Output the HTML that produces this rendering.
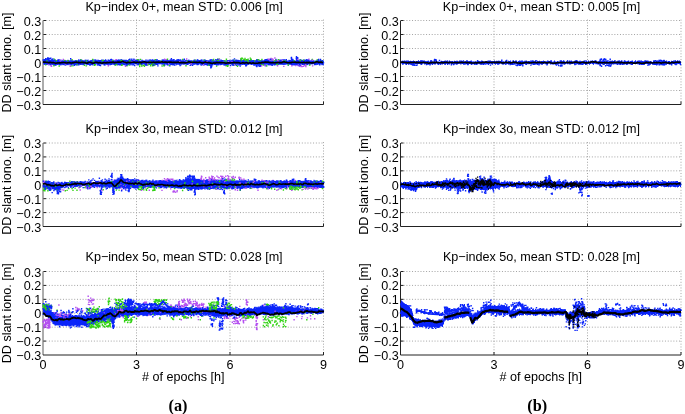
<!DOCTYPE html>
<html><head><meta charset="utf-8"><style>
html,body{margin:0;padding:0;background:#fff;}
svg{display:block;will-change:transform;filter:blur(0.45px);}
text{font-family:"Liberation Sans",sans-serif;font-size:12.6px;fill:#000;}
</style></head><body>
<svg width="685" height="414" viewBox="0 0 685 414">
<rect width="685" height="414" fill="#fff"/>
<path d="M43.3 20.50H323.5M43.3 34.50H323.5M43.3 48.50H323.5M43.3 62.50H323.5M43.3 76.50H323.5M43.3 90.50H323.5" stroke="#a4a4a4" stroke-width="1" stroke-dasharray="1 1.81" fill="none"/>
<path d="M136.50 19.6V104.5M230.00 19.6V104.5M323.50 19.6V104.5" stroke="#a4a4a4" stroke-width="1" stroke-dasharray="1 1.81" fill="none"/>
<path d="M43.0 20.5V104.5" stroke="#5a5a5a" stroke-width="1" fill="none"/>
<path d="M43.0 104.5H323.5M43.5 20.50h2.5M43.5 34.50h2.5M43.5 48.50h2.5M43.5 62.50h2.5M43.5 76.50h2.5M43.5 90.50h2.5M136.50 104.5v-3M230.00 104.5v-3M323.50 104.5v-3" stroke="#222" stroke-width="1" fill="none"/>
<text x="41.2" y="25.50" text-anchor="end">0.3</text>
<text x="41.2" y="39.50" text-anchor="end">0.2</text>
<text x="41.2" y="53.50" text-anchor="end">0.1</text>
<text x="41.2" y="67.50" text-anchor="end">0</text>
<text x="41.2" y="81.50" text-anchor="end">−0.1</text>
<text x="41.2" y="95.50" text-anchor="end">−0.2</text>
<text x="41.2" y="109.50" text-anchor="end">−0.3</text>
<text x="184.1" y="10.50" text-anchor="middle">Kp−index 0+, mean STD: 0.006 [m]</text>
<text transform="translate(10.9 62.5) rotate(-90)" text-anchor="middle">DD slant iono. [m]</text>
<path d="M400.8 20.50H681.0M400.8 34.50H681.0M400.8 48.50H681.0M400.8 62.50H681.0M400.8 76.50H681.0M400.8 90.50H681.0" stroke="#a4a4a4" stroke-width="1" stroke-dasharray="1 1.81" fill="none"/>
<path d="M494.00 19.6V104.5M587.50 19.6V104.5M681.00 19.6V104.5" stroke="#a4a4a4" stroke-width="1" stroke-dasharray="1 1.81" fill="none"/>
<path d="M400.5 20.5V104.5" stroke="#222" stroke-width="1" fill="none"/>
<path d="M400.5 104.5H681.0M401.0 20.50h2.5M401.0 34.50h2.5M401.0 48.50h2.5M401.0 62.50h2.5M401.0 76.50h2.5M401.0 90.50h2.5M494.00 104.5v-3M587.50 104.5v-3M681.00 104.5v-3" stroke="#222" stroke-width="1" fill="none"/>
<text x="398.7" y="25.50" text-anchor="end">0.3</text>
<text x="398.7" y="39.50" text-anchor="end">0.2</text>
<text x="398.7" y="53.50" text-anchor="end">0.1</text>
<text x="398.7" y="67.50" text-anchor="end">0</text>
<text x="398.7" y="81.50" text-anchor="end">−0.1</text>
<text x="398.7" y="95.50" text-anchor="end">−0.2</text>
<text x="398.7" y="109.50" text-anchor="end">−0.3</text>
<text x="541.5" y="10.50" text-anchor="middle">Kp−index 0+, mean STD: 0.005 [m]</text>
<text transform="translate(367.9 62.5) rotate(-90)" text-anchor="middle">DD slant iono. [m]</text>
<path d="M43.3 143.00H323.5M43.3 156.92H323.5M43.3 170.83H323.5M43.3 184.75H323.5M43.3 198.67H323.5M43.3 212.58H323.5" stroke="#a4a4a4" stroke-width="1" stroke-dasharray="1 1.81" fill="none"/>
<path d="M136.50 142.1V226.5M230.00 142.1V226.5M323.50 142.1V226.5" stroke="#a4a4a4" stroke-width="1" stroke-dasharray="1 1.81" fill="none"/>
<path d="M43.0 143.0V226.5" stroke="#5a5a5a" stroke-width="1" fill="none"/>
<path d="M43.0 226.5H323.5M43.5 143.00h2.5M43.5 156.92h2.5M43.5 170.83h2.5M43.5 184.75h2.5M43.5 198.67h2.5M43.5 212.58h2.5M136.50 226.5v-3M230.00 226.5v-3M323.50 226.5v-3" stroke="#222" stroke-width="1" fill="none"/>
<text x="41.2" y="148.00" text-anchor="end">0.3</text>
<text x="41.2" y="161.92" text-anchor="end">0.2</text>
<text x="41.2" y="175.83" text-anchor="end">0.1</text>
<text x="41.2" y="189.75" text-anchor="end">0</text>
<text x="41.2" y="203.67" text-anchor="end">−0.1</text>
<text x="41.2" y="217.58" text-anchor="end">−0.2</text>
<text x="41.2" y="231.50" text-anchor="end">−0.3</text>
<text x="184.1" y="132.50" text-anchor="middle">Kp−index 3o, mean STD: 0.012 [m]</text>
<text transform="translate(10.9 184.8) rotate(-90)" text-anchor="middle">DD slant iono. [m]</text>
<path d="M400.8 143.00H681.0M400.8 156.92H681.0M400.8 170.83H681.0M400.8 184.75H681.0M400.8 198.67H681.0M400.8 212.58H681.0" stroke="#a4a4a4" stroke-width="1" stroke-dasharray="1 1.81" fill="none"/>
<path d="M494.00 142.1V226.5M587.50 142.1V226.5M681.00 142.1V226.5" stroke="#a4a4a4" stroke-width="1" stroke-dasharray="1 1.81" fill="none"/>
<path d="M400.5 143.0V226.5" stroke="#222" stroke-width="1" fill="none"/>
<path d="M400.5 226.5H681.0M401.0 143.00h2.5M401.0 156.92h2.5M401.0 170.83h2.5M401.0 184.75h2.5M401.0 198.67h2.5M401.0 212.58h2.5M494.00 226.5v-3M587.50 226.5v-3M681.00 226.5v-3" stroke="#222" stroke-width="1" fill="none"/>
<text x="398.7" y="148.00" text-anchor="end">0.3</text>
<text x="398.7" y="161.92" text-anchor="end">0.2</text>
<text x="398.7" y="175.83" text-anchor="end">0.1</text>
<text x="398.7" y="189.75" text-anchor="end">0</text>
<text x="398.7" y="203.67" text-anchor="end">−0.1</text>
<text x="398.7" y="217.58" text-anchor="end">−0.2</text>
<text x="398.7" y="231.50" text-anchor="end">−0.3</text>
<text x="541.5" y="132.50" text-anchor="middle">Kp−index 3o, mean STD: 0.012 [m]</text>
<text transform="translate(367.9 184.8) rotate(-90)" text-anchor="middle">DD slant iono. [m]</text>
<path d="M43.3 271.50H323.5M43.3 285.42H323.5M43.3 299.33H323.5M43.3 313.25H323.5M43.3 327.17H323.5M43.3 341.08H323.5" stroke="#a4a4a4" stroke-width="1" stroke-dasharray="1 1.81" fill="none"/>
<path d="M136.50 270.6V355.0M230.00 270.6V355.0M323.50 270.6V355.0" stroke="#a4a4a4" stroke-width="1" stroke-dasharray="1 1.81" fill="none"/>
<path d="M43.0 271.5V355.0" stroke="#5a5a5a" stroke-width="1" fill="none"/>
<path d="M43.0 355.0H323.5M43.5 271.50h2.5M43.5 285.42h2.5M43.5 299.33h2.5M43.5 313.25h2.5M43.5 327.17h2.5M43.5 341.08h2.5M136.50 355.0v-3M230.00 355.0v-3M323.50 355.0v-3" stroke="#222" stroke-width="1" fill="none"/>
<text x="41.2" y="276.50" text-anchor="end">0.3</text>
<text x="41.2" y="290.42" text-anchor="end">0.2</text>
<text x="41.2" y="304.33" text-anchor="end">0.1</text>
<text x="41.2" y="318.25" text-anchor="end">0</text>
<text x="41.2" y="332.17" text-anchor="end">−0.1</text>
<text x="41.2" y="346.08" text-anchor="end">−0.2</text>
<text x="41.2" y="360.00" text-anchor="end">−0.3</text>
<text x="184.1" y="260.50" text-anchor="middle">Kp−index 5o, mean STD: 0.028 [m]</text>
<text transform="translate(10.9 313.2) rotate(-90)" text-anchor="middle">DD slant iono. [m]</text>
<text x="43.0" y="368.5" text-anchor="middle">0</text>
<text x="136.5" y="368.5" text-anchor="middle">3</text>
<text x="230.0" y="368.5" text-anchor="middle">6</text>
<text x="323.5" y="368.5" text-anchor="middle">9</text>
<text x="183.2" y="380.5" text-anchor="middle">#&#160;of epochs [h]</text>
<path d="M400.8 271.50H681.0M400.8 285.42H681.0M400.8 299.33H681.0M400.8 313.25H681.0M400.8 327.17H681.0M400.8 341.08H681.0" stroke="#a4a4a4" stroke-width="1" stroke-dasharray="1 1.81" fill="none"/>
<path d="M494.00 270.6V355.0M587.50 270.6V355.0M681.00 270.6V355.0" stroke="#a4a4a4" stroke-width="1" stroke-dasharray="1 1.81" fill="none"/>
<path d="M400.5 271.5V355.0" stroke="#222" stroke-width="1" fill="none"/>
<path d="M400.5 355.0H681.0M401.0 271.50h2.5M401.0 285.42h2.5M401.0 299.33h2.5M401.0 313.25h2.5M401.0 327.17h2.5M401.0 341.08h2.5M494.00 355.0v-3M587.50 355.0v-3M681.00 355.0v-3" stroke="#222" stroke-width="1" fill="none"/>
<text x="398.7" y="276.50" text-anchor="end">0.3</text>
<text x="398.7" y="290.42" text-anchor="end">0.2</text>
<text x="398.7" y="304.33" text-anchor="end">0.1</text>
<text x="398.7" y="318.25" text-anchor="end">0</text>
<text x="398.7" y="332.17" text-anchor="end">−0.1</text>
<text x="398.7" y="346.08" text-anchor="end">−0.2</text>
<text x="398.7" y="360.00" text-anchor="end">−0.3</text>
<text x="541.5" y="260.50" text-anchor="middle">Kp−index 5o, mean STD: 0.028 [m]</text>
<text transform="translate(367.9 313.2) rotate(-90)" text-anchor="middle">DD slant iono. [m]</text>
<text x="400.5" y="368.5" text-anchor="middle">0</text>
<text x="494.0" y="368.5" text-anchor="middle">3</text>
<text x="587.5" y="368.5" text-anchor="middle">6</text>
<text x="681.0" y="368.5" text-anchor="middle">9</text>
<text x="540.8" y="380.5" text-anchor="middle">#&#160;of epochs [h]</text>
<path d="M44 59.1V64.7M45 60V65.1M46 59.9V64.7M47 60V64.9M48 58.8V64.8M49 58.7V65.6M50 60.1V64.6M51 59.2V65.3M52 59.1V64.4M53 59.1V64.7M54 59.9V65.7M55 59.3V65.7M56 59.9V65.7M57 60.4V64.5M58 60.2V64.5M59 59.2V64.9M60 60.5V65.2M61 59.6V65.6M62 60.8V64.7M63 60V65.3M64 60.7V64.5M65 60.2V65.8M66 60.3V65.4M67 60.5V65.1M68 59.8V65.2M69 60.1V64.8M70 60.7V64.8M71 60.1V65.5M72 60.6V65.7M73 60.3V64.6M74 60.7V65.7M75 60.4V65.5M76 60.1V65M77 60.2V64.5M78 60.4V65.6M79 59.6V65.4M80 60.4V64.4M81 59.4V65.1M82 59.7V64.7M83 60.3V65.2M84 60.5V65.1M85 59.8V64.2M86 59.5V64.5M87 60.1V65.3M88 59.6V64.8M89 60.8V64.8M90 60.4V65.1M91 60.4V64.9M92 60.2V65.3M93 59.6V65.4M94 60.7V64.2M95 59.6V64.5M96 59.5V64.3M97 60.3V64.3M98 59.4V65.6M99 59.9V65M100 60.1V64.6M101 60V64.4M102 60.2V64.5M103 59.5V64.4M104 59.9V65.6M105 60.2V65.7M106 59.9V64.5M107 60.4V64.4M108 60.9V64.7M109 59.7V64.5M110 59.7V65.6M111 60.8V65M112 59.6V64.1M113 59.4V64.6M114 60.3V65.1M115 60.6V65.4M116 59.8V65.1M117 59.9V65.2M118 59.5V65.6M119 59.3V65.1M120 59.8V65.3M121 59.4V65.5M122 59.2V65.2M123 60.3V64.9M124 59.5V64.7M125 59.9V64.4M126 59.5V65.4M127 60.1V64.5M128 60.2V65.1M129 59.4V65M130 60.1V64.2M131 59.7V65.4M132 60.1V64.4M133 59.8V64.8M134 60.3V65.4M135 59.3V64.1M136 59.9V64.1M137 59.4V64.2M138 59.3V65M139 59.3V64.9M140 60.7V64.2M141 60.4V65M142 59.4V65.5M143 60.3V64.6M144 60.5V64.2M145 60.5V65.4M146 59.3V65.5M147 60.4V65.5M148 59.6V65.2M149 60.4V64.6M150 59.2V64M151 59.9V64.9M152 59.3V65M153 59.2V64.8M154 59.9V64.3M155 59.2V65.5M156 60.5V65M157 59.1V64.9M158 60.6V65.2M159 60.2V64.1M160 60V64.4M161 60.7V64M162 59.5V65.4M163 59.3V64.5M164 59.6V65.4M165 60.2V65.5M166 59.4V64.2M167 59.6V65.3M168 60.1V65.5M169 60.2V64.2M170 59.6V64.4M171 59.5V65.1M172 59.8V65.3M173 59.1V65.5M174 59.4V65.2M175 60.5V64.1M176 60V65.6M177 59.1V64.8M178 59.8V64.7M179 59.4V64.3M180 59.5V64.4M181 59.6V65.5M182 60.6V64.5M183 59.1V64.5M184 60.5V64.3M185 60.2V64.2M186 59.7V64.3M187 60.1V64.7M188 60.3V64.9M189 59.7V64.1M190 60.4V64.1M191 59.9V65.7M192 60.4V64.7M193 60.6V64.5M194 60V65M195 60.3V64.6M196 59.7V64.6M197 60.6V65.3M198 59.6V65.3M199 60.1V64.5M200 59.9V64.3M201 59.4V64.2M202 59.2V65.1M203 60.4V65.4M204 59.5V65.6M205 59.6V65.2M206 60.1V64.9M207 60.2V65.5M208 60.2V64.9M209 60.5V65.3M210 59.7V65.7M211 59.7V64.2M212 60.6V65.6M213 60V65.3M214 60.2V64.3M215 60.4V65.1M216 60.6V64.9M217 59.5V65.3M218 60V65.5M219 59.2V65.2M220 60.6V64.4M221 59.2V64.9M222 60.1V65.1M223 59.9V64.6M224 60.2V65.7M225 59.9V64.7M226 60.7V64.4M227 60V65.4M228 60.4V65.3M229 60.2V64.8M230 60.6V64.1M231 59.8V64.8M232 60.2V64.6M233 59.4V64.8M234 60.1V64.9M235 60.5V64.9M236 59.4V65.1M237 59.7V64.1M238 59.7V64.3M239 60.1V65.5M240 60.3V65.6M241 59.3V65.4M242 60.3V64.5M243 59.9V64.4M244 59.6V64.9M245 59.7V64.7M246 60.2V65.2M247 59.3V65M248 60.3V64.2M249 60.3V64.1M250 59.8V64.7M251 59.1V64.2M252 60.2V64.5M253 59.9V64.4M254 60.1V65.6M255 60.3V64.7M256 60.6V64.7M257 59.5V64.8M258 60.6V64.7M259 59.5V65M260 60.1V65.3M261 60.2V65.2M262 59.7V64.8M263 60.6V64.9M264 60.3V64.7M265 59.1V64.7M266 59.9V64.7M267 59.4V64.4M268 59.1V65.2M269 59.9V65.4M270 60.4V65.3M271 60.3V65.5M272 60.5V65.4M273 60.4V64.7M274 60.6V65.5M275 60.3V65.5M276 60.2V65M277 59.8V65.6M278 59.4V65.1M279 60.5V64.5M280 59.2V64.6M281 59.7V64.9M282 59.3V64.5M283 59.2V64.9M284 59.2V64.7M285 59.2V65.1M286 59.9V64.5M287 60.6V64.6M288 60.4V64.6M289 59.8V65M290 59.9V64.6M291 60.2V65.1M292 59.8V64.9M293 59.4V64.8M294 60.1V65.2M295 60.5V65.3M296 60.5V64.6M297 59.4V65.7M298 59.6V65M299 60.3V64.3M300 59.1V64.8M301 59.2V64.2M302 60.1V64.9M303 59.7V65.1M304 59.5V64.7M305 59.6V65M306 59.8V64.9M307 60V64.9M308 59.2V65.2M309 60.6V64.1M310 60.3V64.8M311 60.4V63.9M312 59.3V64.8M313 60.1V64M314 60.5V64M315 60.7V65.1M316 60.5V65.2M317 59.8V64.8M318 59.4V65M319 59.7V63.9M320 60.6V63.9M321 60.5V65.3M322 60.3V64.6M323 60.7V64.9" stroke="#0a24fa" stroke-width="1.05" fill="none"/>
<path d="M183.2 62.6h0M94.9 60.1h0M322.9 64.5h0M57.7 60.1h0M285.6 62.5h0M75.5 61.3h0M191.6 63.7h0M267.4 59.4h0M146.1 63.2h0M96 63.2h0M249.3 60.8h0M53.2 62.4h0M167.6 62.5h0M212.6 63.9h0M308.2 61h0M65.4 61.3h0M297.3 61.9h0M275.3 63.1h0M272.2 65.3h0M43.6 61.4h0M274 62.6h0M152.5 62.4h0M272.2 61.8h0M133.5 63.9h0M92.6 59.8h0M295.3 63.2h0M158.4 60.6h0M170.3 61.9h0M97.5 62.2h0M57.4 64.3h0M187.9 63.9h0M187.1 64.2h0M260.2 60.8h0M243.5 62.6h0M210.9 64.6h0M119.1 62.5h0M190.7 62.5h0M241.8 63.3h0M257.1 60h0M90.6 61.2h0M48.5 60.6h0M251.8 61.1h0M265.4 60.1h0M237.9 60.7h0M290.1 62.1h0M261.5 61.8h0M309.7 64.6h0M190.2 65.4h0M243.8 62.4h0M298.8 62.6h0M247.1 60.2h0M55.4 62.1h0M289.9 62.9h0M118.6 61.4h0M101 62.9h0M122.6 62.2h0M171 60.3h0M83 61.3h0M78.7 60.3h0M156.4 62.3h0M115 61.5h0M258.6 61.6h0M321.3 62.5h0M121.5 62.8h0M211.6 61.8h0M188.6 60.5h0M248.4 61.7h0M129.8 64.5h0M68.4 61.3h0M245 64.4h0M295.4 63.7h0M204.6 63.4h0M187.5 61.9h0M132.2 60.9h0M291.1 63.7h0M57.7 62.8h0M288.3 65.1h0M237.2 63.9h0M237.3 62.3h0M85.8 63.3h0M55.7 64.6h0M149.4 61h0M240.2 66.1h0M169.5 65.5h0M275.9 59.5h0M193.6 63.5h0M319.4 62.9h0M248.7 63.6h0M74.6 61.4h0M319.6 64.8h0M156.5 63.1h0M198.1 64h0M246.8 59.6h0M136.5 62.4h0M172 63.8h0M156 61h0M121.2 60h0M166 62.5h0M272.3 59.9h0M200.9 64.1h0M190.7 62.2h0M192.6 65.4h0M65.6 62.3h0M72.4 61.3h0M224.6 61.5h0M284.4 62h0M159.7 62.3h0M137.6 62.8h0M119.2 63h0M101.8 60.1h0M123 61.2h0M178.2 59.6h0M155.8 63.2h0M108.8 63.9h0M220.5 64.6h0M164.4 65.6h0M196.1 62.7h0M163.7 63.8h0M246.1 65.6h0M234.5 58.9h0M88.2 63h0M55 62.9h0M294.1 62.7h0M208.5 62.9h0M238.1 62.9h0M264.2 63.7h0M147.1 64.8h0M111.4 59.9h0M276.6 62.8h0M189.7 62.2h0M176.7 63.1h0M224.2 62.8h0M223.7 63.7h0M87.2 60.8h0M242.4 64.4h0M229.1 60.7h0M226.9 63.7h0M300.7 61.6h0M119.1 63.2h0M265.7 60h0M75.2 62h0M264.5 60.8h0M57.7 62.5h0M298.4 65.5h0M284.2 63.2h0M146 65.1h0M208.5 63h0M154.3 61.6h0M171.4 58.7h0M306.4 63.1h0M211.5 64.7h0M311.5 62.4h0M117.7 62.9h0M185 62.1h0M255.9 61h0M63.6 64.2h0M296.9 61.1h0M302.1 60.7h0M57.8 63.7h0M124.3 64.5h0M182.2 63h0M280.1 62.3h0M210.3 63.9h0M148.6 64.2h0M248.6 63h0M208.8 63.5h0M210.2 61.8h0M121.4 62.1h0M118.7 61.7h0M277.7 64.1h0M205.4 61.1h0M49.4 63h0M104.8 61.8h0M51.5 62.1h0M70.9 60.1h0M154.6 63.7h0M215.6 64.4h0M304.4 64.7h0M111.4 63.5h0M195.2 62.9h0M305.8 60.9h0M45 60.3h0M186.4 60.8h0M206.2 61.2h0M235.2 62.7h0M259.1 62.2h0M307.3 63.4h0M50.6 64.5h0M207.1 63.3h0M122.8 62.9h0M225.8 64.3h0M184.9 63.7h0M254.1 65h0M205.1 60.4h0M288.3 62.4h0M76.7 64.7h0M54.4 61.6h0M297.1 62.3h0M58.1 60.9h0M266.2 59.8h0M169.8 65.8h0M53.7 63.7h0M179.2 64.2h0M152.5 64.5h0M201.2 65.1h0M266 65.7h0M253.5 61.4h0M100.5 65.5h0M244.3 62.7h0M43.6 62.7h0M256.6 65.5h0M49.1 63.4h0M214.9 63h0M300.7 62.2h0M148.9 63.2h0M232.3 64.8h0M278.8 64.2h0M141.2 61.6h0M322.5 62.7h0M130.7 61.7h0M246.9 64.9h0M269.6 63.6h0M213.5 62h0M116.6 62.9h0M140.4 63.8h0M111.3 64.4h0M191.4 64.3h0M215.9 62.1h0M229.5 62.4h0M260.8 61.9h0M116.6 61.7h0M219.5 62.1h0M89.7 62.8h0M119.3 61.6h0M214 61.9h0M258 63.9h0M240.7 60.2h0M276.1 60.8h0M212.2 62.2h0M119.8 64.7h0M207.5 65h0M295.4 63.9h0M157.9 65.9h0M247.9 61.4h0M294.9 63.8h0M223 63.2h0M45.7 63.3h0M145.3 62.8h0M217.2 60.7h0M180.1 65.5h0M271.1 64.2h0M210.3 59.9h0M311.9 62.2h0M229.3 61.6h0M84.4 62.1h0M106.9 63.9h0M236.5 65.4h0M138.8 63.2h0M136.3 62.6h0M225 64h0M314.2 62.4h0M111 63.2h0M167.6 64.5h0M228.6 62.5h0M90 65.3h0M227.5 61h0M92.1 62h0M77.4 63.5h0M54.7 60h0M167.7 63.2h0M173.9 59.8h0M273.3 62.6h0M47.9 59.8h0M292.9 61.7h0M168 62.2h0M129.9 59.3h0M257.7 61.6h0M135.2 63.4h0M80.3 63.7h0M51.7 62.5h0M282.7 62.9h0M305 61.5h0M83.4 63.9h0M288.8 62.7h0M112.4 63.6h0M250.7 63.6h0M152.7 63.1h0M320.9 62.3h0M50.4 62.2h0M292.7 64.8h0M91.3 61.2h0M230.6 61.9h0M130.9 63.5h0M129.1 59.8h0M283 63.9h0M273.2 63.4h0M63.9 62.4h0M53.5 63.8h0M90 64.2h0M180.3 60.3h0M91.5 61.8h0M192.1 63.1h0M52.9 62.2h0M75.5 64.4h0M226.8 65.4h0M107.9 64.1h0M218.7 62.6h0M70.3 63.2h0M321.2 61.8h0M161.9 62.5h0M128.1 61.5h0M227.1 62.7h0M136.3 63.6h0M120.6 62h0M238.1 64.9h0M111.5 62.5h0M45.7 58.8h0M46.6 59.1h0M49.4 58.4h0M52.9 58.9h0M49.3 58.8h0M46 59.6h0M50.8 58.3h0M48.7 58.4h0M49.4 58.9h0M49.3 58.8h0M47.7 58.9h0M259.9 66.3h0M260.4 65.2h0M260.5 65.3h0M258.2 65.7h0M260 66h0M258.2 65.4h0M260.6 65.7h0M210.8 64.3h0M211.1 67.2h0M210.7 65.3h0M210.9 66.7h0M211.5 66.9h0M211.2 65.7h0M210.8 67.7h0M210.9 64.1h0M211.7 66.3h0M210.8 66.2h0M211 67.5h0M210.9 64.2h0M296.5 56.7h0M297.7 58.4h0M297.3 57.8h0M296.3 58.2h0M296.5 57.6h0M296.5 59.6h0M296.5 56.9h0M297.6 58.2h0M296.9 58.4h0M297.2 57.7h0M297.6 57.8h0M297.4 58.6h0M297.4 57.9h0M297.7 57.6h0M297.1 59.7h0M296.8 59.8h0M291.5 59.6h0M291.6 58.5h0M292.2 59.5h0M292.8 59.8h0M292.7 59.5h0M291.4 57.7h0M291.3 58h0M291.5 57.5h0M291.4 57.8h0M291.5 59.2h0" stroke="#0a24fa" stroke-width="1.4" stroke-linecap="square" fill="none"/>
<path d="M283.3 61.3h0M68 60.7h0M300.1 60.5h0M315.2 61.4h0M77 60.9h0M92.7 59.5h0M278.7 59.7h0M130 60.7h0M226.2 61.2h0M216.7 60.2h0M112.7 60.6h0M81.6 61.2h0M218.4 60.2h0M54.2 59.1h0M138.3 60.2h0M285.3 60.7h0M247.7 60.8h0M93.8 61.4h0M93.3 61.4h0M226.4 59.2h0M261.9 59.5h0M187.2 60.9h0M64.7 60.4h0M212.4 60.6h0M213.6 59.4h0M320.8 61.3h0M320.7 60.4h0M155.3 59.7h0M182.6 59.4h0M121 60.5h0M86.4 61h0M192.6 61.5h0M80.8 59.7h0M317.3 59.9h0M275.9 60.2h0M213.6 61.2h0M47 61h0M258.5 59.8h0M72.1 59.8h0M257.2 59.6h0M121.9 60.6h0M140.5 59.4h0M300.4 60.2h0M161.3 61.2h0M260.2 60.6h0M219.4 59.3h0M102.3 60.7h0M56.3 60.8h0M103.6 60.4h0M217.8 59.1h0M224.5 60.9h0M312.4 59.4h0M270.8 59.4h0M247.7 60.5h0M294.2 61h0M322.8 61.2h0M244.9 59.8h0M241.3 60.9h0M254.6 60.9h0M150.1 61.2h0M274.1 61h0M245.4 60.6h0M137.6 59.8h0M248.5 61.4h0M195.3 60.1h0M167.5 59.3h0M129.3 61.1h0M234.1 60.1h0M204.1 60.1h0M303.5 60.2h0M266.8 65.9h0M237.5 66.2h0M45.7 64.9h0M309.7 65h0M86.2 65.9h0M209.5 65h0M94.7 64.6h0M95.3 64.7h0M162.1 66.1h0M164 65.9h0M263.3 65h0M53.9 65.7h0M121.7 65.3h0M116.6 64.5h0M226.2 65.6h0M228 65.6h0M276.6 64.4h0M115.3 65.1h0M234.8 65.1h0M227.7 66.3h0M288.3 64.8h0M216.6 66.1h0M208.9 65.3h0M226.2 65.9h0M141.7 66h0M127 65.7h0M77.2 64.6h0M169.4 65.4h0M84.4 65.3h0M129.1 65h0M186 65.7h0M277.7 64.3h0M72.9 65.9h0M94.4 65.4h0M122.4 64.9h0M70.8 66.3h0M163.6 65h0M261.4 64.4h0M59.2 66h0M305.9 65.1h0M148 64.7h0M153.6 65.5h0M152.5 65.8h0M150.6 64.9h0M149.2 64.3h0M153 64h0M144 65.2h0M154.6 64.7h0M144 65.2h0M139.6 64.9h0M143.5 65.4h0M144.4 66.4h0M139.7 66.5h0M139.8 64.4h0M152.5 64.6h0M150.6 65.8h0M154.4 64.9h0M141.9 66h0M151.8 64.2h0M140.4 64.6h0M250.3 58.1h0M251.1 59.3h0M248.1 59.3h0M242.2 58.2h0M250.8 59.8h0M246.5 59.8h0M245 58.5h0M243.1 59.1h0M244.4 59.6h0M240.9 58.6h0M241.2 59.7h0M241.5 58.2h0" stroke="#32d214" stroke-width="1.4" stroke-linecap="square" fill="none"/>
<path d="M63.3 59.5h0M242 63.4h0M278.3 61.1h0M54.4 62.1h0M203.6 64.8h0M48.2 64.4h0M295.6 65.6h0M166.2 59.6h0M283.8 66.4h0M277.6 65.7h0M206.6 62h0M164.6 59.2h0M191 63.8h0M109.2 61.9h0M312.5 60.3h0M261.6 65.7h0M186.7 59h0M234.5 64.8h0M134.5 60.4h0M312.6 65.9h0M207.5 61.7h0M277.6 60.7h0M70.3 66h0M51.6 66.2h0M264.6 65.5h0M282.3 60.2h0M60.5 62.2h0M186.4 62.3h0M116.4 59.6h0M228.4 61.8h0M179.7 61.6h0M124.6 62.5h0M50.9 65.8h0M65.7 64.1h0M297.9 59.4h0M125.5 66.3h0M159.9 62.1h0M219.2 59.3h0M308.9 59.2h0M291.8 65.8h0M108.3 65.7h0M70.1 66h0M147.6 63.7h0M59.9 60h0M131.8 61.7h0M115.4 60.3h0M231.9 61.9h0M191.4 63.7h0M223.1 62.5h0M168.2 63.6h0M272 59.8h0M274.9 58h0M272.6 58.9h0M273.3 60h0M268.5 59.3h0M269.7 59.7h0M269.4 59.2h0M268.3 59.7h0M271.1 58.4h0M270.2 59.5h0M305.6 65h0M305.4 65.4h0M303.5 66.3h0M301.1 65.9h0M301.2 66.5h0M305.9 66.6h0M300.6 65h0M298.1 65.1h0M302.1 66.6h0M305.6 64.5h0M305.1 65.5h0M299.6 66.4h0" stroke="#b450f0" stroke-width="1.4" stroke-linecap="square" fill="none"/>
<path d="M177.1 62.1h0M53.9 62.3h0M88.3 64.3h0M63 61.3h0M216.6 64.8h0M294.2 64.6h0M209.9 64.8h0M253.4 63.6h0M224.8 63.4h0M233.1 60.3h0M314.5 64.5h0M235.2 61.9h0M167.7 61.8h0M298.2 62.4h0M126.2 65h0M145.3 64.4h0M286.3 59.7h0M311.2 62.5h0M149.9 63h0M110.3 62.2h0M290.3 61h0M251.7 64.2h0M104.9 60.8h0M109.5 61.3h0M80.3 63.5h0M171.6 62.7h0M52.8 64h0M211 63.6h0M197.3 60.5h0M290.3 61.1h0M156.8 59.9h0M323 61.7h0M135.8 63.5h0M211 63.4h0M319.9 62.9h0M306.6 60.1h0M313.4 62.6h0M112 63.9h0M290.6 61.5h0M213.4 63.3h0M248.1 64.2h0M177.6 63.2h0M96 62.9h0M185.1 63.2h0M233.6 63.2h0M137.4 61.6h0M216.2 61.3h0M54 63.6h0M257 60h0M58.8 59.9h0M89.1 63.2h0M255.4 64.5h0M116.2 62.5h0M244.4 64h0M221.5 63.4h0M210.6 63.3h0M221.8 63.4h0M294.5 64.4h0M306.3 63.4h0M153.1 65h0M126 62.8h0M214.7 64.3h0M166.4 61.9h0M134.7 65.6h0M225.1 65.1h0M44.7 59.8h0M52.1 61.8h0M252.6 62.6h0M193.9 62h0M184.3 59.3h0M57.9 60.6h0M299.6 64.3h0M119.7 62.3h0M252.3 61.6h0M257 61.7h0M318.6 59.4h0M170.5 64h0M131.8 59.2h0M137 63.2h0M99.3 65.2h0M217.7 59.4h0M55.6 61.7h0M323.5 62.8h0M230.5 65.6h0M134.8 61.5h0M97.4 64.9h0M142.3 63.4h0M257.2 64.2h0M80.8 60.5h0M188.7 63.3h0M307.6 62.1h0M135.4 60.9h0M216.9 63h0M322.6 60.6h0M56.3 63.3h0M53.1 62.6h0M78.4 63.8h0M133.9 62.6h0M115.3 61.3h0M245.9 65.7h0M57.8 61.3h0M167.5 62.7h0M75.9 61.2h0M263.7 63.1h0M105.9 63.4h0M279.7 61.3h0M300 65.3h0M167.3 64h0M70.7 58.8h0M138 64.7h0M149.9 63.9h0M80.4 64.1h0M193.7 62.6h0M320.8 60.7h0M276 61.9h0M98.3 63.1h0M105.6 60h0M118.6 61.3h0M215.8 59.6h0M296.2 64.4h0M107 63.5h0M49.3 61.8h0M132.8 64.9h0M46.7 63.5h0M43.2 60h0M127.2 64.8h0M148 62.4h0M183.1 61.2h0M183.6 63.7h0M267.1 61h0M91.2 61h0M295.9 62.4h0M139 62.3h0M208.3 61.4h0M268.2 60.7h0M283.3 62.6h0M74.4 65.3h0M64.7 62.8h0M153.8 65.1h0M197.5 60h0M265.7 60.8h0M122.5 63h0M235.6 62.7h0M306.8 59.6h0M308.6 60.5h0M115.5 62.3h0M239.5 61.5h0M123.8 63.9h0M108.2 60.2h0M133.9 59.2h0M299.5 63.3h0M44.6 60h0M174.6 65h0M211.9 59.8h0M320.5 59.4h0M108.3 63.4h0M292.6 63.9h0M111.3 59.4h0M176.3 60.8h0M221.7 62.8h0M196.9 63.3h0M137.4 60.8h0M180.7 62.4h0M253.3 62.3h0M194.3 60.1h0M211.7 64.9h0M316.2 63.1h0M233.2 65.2h0M262.7 63h0M132.1 62.6h0M135.5 61.2h0M221.2 60.9h0M150.1 60.1h0M287.3 62.7h0M320.3 62.5h0M240.6 61.2h0M264.9 63.4h0M257.2 62.7h0M214 61.8h0M235.8 60.4h0M270.6 59.4h0M178.5 60.1h0M110.8 59.7h0M213.7 62.1h0M47.4 59h0M47.7 58h0M48 57.9h0M259.7 66h0M256.2 65.8h0M256.8 66.6h0" stroke="#0a24fa" stroke-width="1.4" stroke-linecap="square" fill="none"/>
<polyline points="43,61.9 44,62.1 45,62.1 46,62.3 47,62.3 48,62.6 49,62.6 50,62.4 51,62.4 52,62.8 53,62.5 54,62.6 55,63.1 56,63.4 57,62.9 58,63 59,62.8 60,62.9 61,62.8 62,62.6 63,62.5 64,62.5 65,62.5 66,63 67,62.9 68,62.7 69,62.6 70,62.8 71,63 72,63 73,62.6 74,62.6 75,62.2 76,62.3 77,62.1 78,62.6 79,62.4 80,62.7 81,62.4 82,62.4 83,62.4 84,62.6 85,62.5 86,63.1 87,63.1 88,62.9 89,62.2 90,62.2 91,62.5 92,63 93,63.1 94,63 95,62.3 96,62.3 97,62.3 98,62.9 99,62.6 100,62.6 101,63 102,63.1 103,62.9 104,62.5 105,62.7 106,62.9 107,62.5 108,62.6 109,62.5 110,62.5 111,62.4 112,62.5 113,62 114,62.7 115,62.4 116,62.5 117,62.3 118,62.1 119,62 120,62.3 121,62.1 122,61.6 123,61.3 124,62 125,62.2 126,62.6 127,62.9 128,62.3 129,62.4 130,62.6 131,62.5 132,62.3 133,62.2 134,62.1 135,62.2 136,62.8 137,62.3 138,62.3 139,62.6 140,62.2 141,62.8 142,62.2 143,62 144,61.8 145,61.9 146,62.4 147,62.5 148,62.4 149,62.2 150,62.2 151,62.2 152,62.6 153,62.1 154,62.3 155,62.4 156,62.4 157,62.1 158,62.2 159,62.1 160,62.3 161,62 162,61.8 163,62.3 164,62.3 165,62.1 166,62.1 167,62.4 168,62.3 169,62 170,62.1 171,62.1 172,62.5 173,62.4 174,62.4 175,62.4 176,62.4 177,62.4 178,62.1 179,62.4 180,62.8 181,62.5 182,62.6 183,62.6 184,62.6 185,62.9 186,62.7 187,62.5 188,62.2 189,61.8 190,62.1 191,62.5 192,62.3 193,62.2 194,62.3 195,62.3 196,62.4 197,62.4 198,62.5 199,62.3 200,62.1 201,62.6 202,63 203,62.9 204,62.6 205,62.1 206,62.3 207,62.5 208,62.8 209,62.6 210,62.9 211,63.1 212,63.4 213,63.2 214,62.8 215,63.3 216,62.6 217,62.6 218,62.5 219,62.7 220,62.5 221,62.8 222,62.6 223,62.7 224,62.8 225,63 226,63.3 227,63 228,62.8 229,62.9 230,63 231,62.7 232,62.7 233,62.7 234,62.3 235,62.8 236,62.6 237,62.6 238,62.5 239,62.8 240,63.1 241,63.2 242,62.9 243,62.7 244,63 245,63.1 246,62.8 247,62.7 248,63.4 249,63 250,62.8 251,63.3 252,63.2 253,62.8 254,63.2 255,63.3 256,63.2 257,63.2 258,63.2 259,62.8 260,62.9 261,63 262,62.4 263,62.5 264,62.4 265,62.1 266,62 267,62.3 268,62.1 269,62.5 270,62.6 271,62.7 272,62.8 273,62.5 274,62.7 275,62.8 276,62.8 277,62.7 278,62.3 279,62.6 280,62.5 281,62.6 282,62.6 283,62 284,61.7 285,62.1 286,62.3 287,62.6 288,62.8 289,62.7 290,62.4 291,62.7 292,62.2 293,62.2 294,62.3 295,62.1 296,62.4 297,62.5 298,62.3 299,62.4 300,62.5 301,62.5 302,62.5 303,62.6 304,62.2 305,62.8 306,62.6 307,62.4 308,62.6 309,62.4 310,62.6 311,62.7 312,63.1 313,62.5 314,62.8 315,62.5 316,61.9 317,61.8 318,62 319,62.4 320,62.2 321,61.9 322,62.5 323,62.6" stroke="#000" stroke-width="1.6" fill="none" stroke-linejoin="round"/>
<path d="M401.5 61.2V63.6M402.5 61.8V64.8M403.5 61V64.4M404.5 60.6V63.7M405.5 60.8V64.4M406.5 60.6V64.9M407.5 60.4V63.6M408.5 60.4V64.5M409.5 60.9V64.1M410.5 60.8V64.3M411.5 60.9V63.6M412.5 61V63.8M413.5 60.5V64.6M414.5 61.4V64.4M415.5 61.7V63.9M416.5 60.9V64M417.5 60.9V64.4M418.5 60.3V64M419.5 61.2V63.9M420.5 60.3V64.4M421.5 60.3V64.2M422.5 60.5V63.4M423.5 60.6V63.4M424.5 60.5V64.4M425.5 61.5V63.9M426.5 61.3V64.1M427.5 61.1V64.7M428.5 60.8V64.7M429.5 61.4V64.4M430.5 60.3V63.4M431.5 60.4V63.9M432.5 61.8V64.7M433.5 61.6V63.5M434.5 61.4V64.5M435.5 61.6V64.6M436.5 60.5V63.6M437.5 61.6V64.5M438.5 61.7V64M439.5 61.7V63.5M440.5 61.8V64.7M441.5 60.8V63.4M442.5 61.2V64.4M443.5 60.9V63.4M444.5 60.7V64.6M445.5 60.4V64.8M446.5 60.7V63.6M447.5 60.5V64.9M448.5 61.7V63.8M449.5 60.5V64.3M450.5 61.7V63.3M451.5 61.3V64.7M452.5 61V64.2M453.5 61.6V63.7M454.5 60.7V64.4M455.5 61.2V64.2M456.5 60.8V64.8M457.5 60.8V64.4M458.5 61.7V63.9M459.5 60.4V63.7M460.5 60.4V63.5M461.5 60.5V63.8M462.5 60.9V64M463.5 61.4V64.4M464.5 61.4V63.9M465.5 61.4V64.2M466.5 60.5V64.2M467.5 60.8V64.4M468.5 61.5V63.7M469.5 61V64M470.5 60.8V63.4M471.5 60.4V64.9M472.5 61.5V64M473.5 61.4V63.7M474.5 61.4V64.8M475.5 61.5V64M476.5 61.9V64.8M477.5 60.4V64M478.5 61V63.7M479.5 61.3V63.5M480.5 61.5V64.7M481.5 60.4V64.4M482.5 60.7V64.3M483.5 61.4V64.9M484.5 61.6V63.8M485.5 61.5V63.5M486.5 61.4V64M487.5 60.7V63.7M488.5 60.6V64.6M489.5 60.5V63.7M490.5 60.6V63.6M491.5 61.5V64.2M492.5 61.4V64.7M493.5 61V63.4M494.5 60.6V64.1M495.5 61.4V64.8M496.5 61.1V63.7M497.5 61.2V64.8M498.5 60.8V64.8M499.5 61.7V64.2M500.5 61.1V63.5M501.5 60.5V63.4M502.5 61.3V64.4M503.5 61.9V64.3M504.5 61.9V63.9M505.5 60.5V63.4M506.5 60.8V64.1M507.5 61.9V63.8M508.5 60.7V64.5M509.5 60.9V64.2M510.5 60.5V64.7M511.5 61.8V64.5M512.5 61.8V63.8M513.5 60.4V63.8M514.5 61.7V64.1M515.5 60.6V63.5M516.5 60.6V64M517.5 61.8V64.7M518.5 61.5V64.5M519.5 60.6V64.5M520.5 60.7V64.1M521.5 60.4V64.7M522.5 60.5V64.2M523.5 61.4V64.3M524.5 61.4V63.9M525.5 61.6V64.8M526.5 61.3V64.9M527.5 61.7V63.4M528.5 61.4V63.4M529.5 61.4V63.9M530.5 61.7V63.4M531.5 61.8V63.4M532.5 60.4V63.3M533.5 60.5V64.9M534.5 61.6V64.8M535.5 60.6V64.4M536.5 61.6V64.5M537.5 60.7V64.9M538.5 61.5V64.4M539.5 60.8V63.9M540.5 61.5V64.1M541.5 61.1V64.8M542.5 61V64.7M543.5 60.4V64.1M544.5 61.4V63.3M545.5 61.4V63.8M546.5 61.3V64.3M547.5 60.5V64.8M548.5 60.7V63.5M549.5 61V63.4M550.5 60.5V64.5M551.5 60.5V64.2M552.5 61.7V64M553.5 61.6V64.6M554.5 60.6V63.4M555.5 61.6V64.7M556.5 61.7V64.4M557.5 61.1V64.8M558.5 61.5V64.5M559.5 61.8V63.4M560.5 61.5V64.2M561.5 60.3V63.7M562.5 61.4V64.1M563.5 61.2V63.8M564.5 61.2V64.7M565.5 61.9V64.2M566.5 61.5V63.4M567.5 60.5V64.2M568.5 61.6V63.5M569.5 60.5V64.1M570.5 60.8V63.5M571.5 60.6V64M572.5 61.6V63.6M573.5 61.6V63.4M574.5 60.7V64.4M575.5 60.3V63.8M576.5 60.5V63.7M577.5 61.7V63.6M578.5 61.5V64.8M579.5 60.7V64.7M580.5 60.8V64.5M581.5 61.2V63.9M582.5 61.7V64.4M583.5 60.8V64.2M584.5 60.8V63.8M585.5 61.8V64.9M586.5 60.6V64.8M587.5 61.4V63.3M588.5 60.5V64M589.5 61.7V64.7M590.5 60.7V64M591.5 61.8V63.6M592.5 60.5V64M593.5 61.4V64.7M594.5 61.7V63.3M595.5 60.6V63.5M596.5 61.3V63.9M597.5 61.8V64.3M598.5 61.3V64.4M599.5 60.6V64.7M600.5 61.7V64.6M601.5 61.6V63.6M602.5 60.4V63.9M603.5 61.4V63.6M604.5 61.7V64.7M605.5 61.4V64.1M606.5 60.5V64.6M607.5 60.6V64.1M608.5 61.5V64.3M609.5 60.7V64.7M610.5 60.8V64M611.5 61V64.4M612.5 60.4V64.3M613.5 61.1V64.6M614.5 60.9V64.2M615.5 61.8V63.4M616.5 61.6V64M617.5 60.8V63.7M618.5 60.6V64.6M619.5 60.6V64.8M620.5 61.1V63.8M621.5 61.6V64.2M622.5 61.7V63.5M623.5 61.4V63.3M624.5 60.6V64M625.5 60.8V63.8M626.5 61.2V64.5M627.5 61V64.1M628.5 61.6V63.7M629.5 61.9V63.3M630.5 60.9V64.6M631.5 60.7V63.8M632.5 60.6V64.9M633.5 61.7V63.4M634.5 61.2V63.5M635.5 60.3V63.7M636.5 61.4V64.1M637.5 60.8V64.2M638.5 60.4V63.8M639.5 60.5V64.6M640.5 60.9V64.4M641.5 60.8V64M642.5 61.2V63.7M643.5 61.2V64.5M644.5 60.4V63.6M645.5 60.3V64.1M646.5 60.5V64.1M647.5 60.6V64.1M648.5 60.8V64.5M649.5 61.6V64.8M650.5 61V64.7M651.5 61.7V63.8M652.5 61.9V64.8M653.5 60.6V64.5M654.5 61.4V64.3M655.5 61.4V63.7M656.5 61.6V64.5M657.5 60.6V64.8M658.5 61.5V63.4M659.5 60.4V63.6M660.5 61.4V64.5M661.5 61.8V64.7M662.5 60.6V63.6M663.5 60.4V63.9M664.5 61V63.9M665.5 61.6V64.3M666.5 61.6V64.7M667.5 61.5V64.1M668.5 61V64.2M669.5 61V64.4M670.5 61.7V64.4M671.5 60.7V64.2M672.5 61V63.5M673.5 60.5V64M674.5 61.8V64.4M675.5 60.4V64.8M676.5 61.5V64.3M677.5 60.3V63.8M678.5 60.8V64.1M679.5 60.5V64.3M680.5 61.3V64.3" stroke="#0a24fa" stroke-width="1.05" fill="none"/>
<path d="M539.2 61.9h0M482.9 62.3h0M663.2 63.7h0M434.4 62.6h0M601.4 62.7h0M601.3 62.1h0M443.7 62.2h0M666.4 61.4h0M519.8 63.7h0M529.3 61.6h0M516.5 62.4h0M666.4 61.2h0M567.3 63.4h0M615.7 62.7h0M586.9 63.6h0M481.4 61.9h0M474.8 62.6h0M419.4 62.6h0M442.1 63.3h0M515 63.8h0M496.2 63h0M589.4 63.3h0M534.7 63.5h0M624.7 63.9h0M554.5 63.2h0M417.7 62.7h0M610.9 63.2h0M490.5 62.5h0M530.8 61.3h0M544.4 62h0M611.8 63.6h0M621.3 61.9h0M471.2 63.9h0M658.4 61.7h0M539 64.7h0M534.7 64.1h0M445.1 63.9h0M419.1 62h0M442.6 62.3h0M484.2 63.9h0M571.6 61.6h0M653.8 63.8h0M577.1 63.5h0M541.1 63.4h0M585.1 60.9h0M603.2 61.3h0M499.6 62.5h0M572.4 63.4h0M449 63.8h0M412.1 62h0M605.8 62.7h0M617.3 64.4h0M661.6 60.6h0M433.6 63.2h0M430.1 63.4h0M451.1 62.9h0M543.3 62h0M582.3 64.2h0M470 63.4h0M430.6 63.5h0M425.6 62.1h0M557.5 62.5h0M584.7 63.4h0M527 63.5h0M467.8 61.6h0M498.4 63.2h0M489.2 63h0M621 63.2h0M464.6 63.2h0M530.9 65.1h0M434.3 62.2h0M425 61.6h0M470.3 62.6h0M467.9 64.5h0M485.8 64h0M624.5 61.2h0M446 63h0M552.6 63.9h0M403.2 61.5h0M540.2 63.5h0M623.7 64.1h0M623 63.3h0M512.9 62.5h0M491.4 61.6h0M422.1 61.3h0M596.1 63.6h0M532.9 62h0M663.3 62.8h0M430.9 61.8h0M455.2 62.2h0M468.8 62.4h0M545.1 63.4h0M490.7 62h0M545.4 63.6h0M411 64.4h0M532.2 61.3h0M426.5 64.5h0M613.3 63.2h0M518.2 64.5h0M675.4 61.3h0M621.7 61h0M661.8 61.8h0M620.5 64.3h0M531.6 63h0M479.4 63.5h0M510.2 64.5h0M451.4 64.8h0M647.8 65.1h0M433.1 63.1h0M592.5 62.5h0M518.7 61.6h0M485.3 62.4h0M450 61.8h0M564.5 62.2h0M427.4 61.7h0M637.7 61.8h0M665 61.9h0M639.3 64.3h0M532.3 63.9h0M522.5 62.8h0M449.8 61.8h0M526.2 61.3h0M490.5 65.1h0M594.5 61.3h0M662.6 61.6h0M443.1 61.9h0M476.6 62.1h0M620.2 62.8h0M671.7 64.8h0M521.3 61.8h0M609.3 62.8h0M437.7 62.6h0M465.1 63.9h0M549.9 61.6h0M675.8 62.7h0M604.3 61.5h0M536.1 60.8h0M500.4 62.2h0M584.3 62.9h0M667.8 62.6h0M440.4 62.3h0M642.7 63.3h0M479 62.3h0M546.1 63.2h0M430.7 63.8h0M607.3 63.2h0M523.8 62.5h0M491.4 62.5h0M553.5 63.1h0M590.8 61.8h0M556.4 65h0M443.1 62.7h0M575.9 64h0M512.9 62.5h0M631.6 64.3h0M496.8 61.5h0M640.1 63.3h0M581.9 63.1h0M481.9 64h0M581 64.1h0M440.1 63h0M674.9 61h0M563.6 61h0M499.2 61.5h0M461.8 62.5h0M656.6 62.7h0M443.3 61.6h0M642.3 62.7h0M641.8 61.6h0M467.2 61.4h0M582.8 62.9h0M488.3 64h0M628.5 61.3h0M522.6 64.1h0M514 62h0M649.1 64.7h0M556.5 62.7h0M669.9 63.7h0M654.3 64.3h0M643.5 62.4h0M608.1 60.9h0M676.2 61.9h0M412.4 62.8h0M465.9 61.9h0M411.5 64.1h0M512.7 64.3h0M408.9 64.1h0M560.4 61.5h0M416.4 62h0M578.6 63.3h0M639 62.4h0M537.7 62.8h0M422 63.4h0M676.8 63.8h0M634.9 63.1h0M603.3 62.2h0M629.1 63.6h0M672.6 63.4h0M653.8 64.1h0M635.6 62.4h0M619.6 61.4h0M506.7 60.4h0M570.9 63h0M574.3 63.4h0M540.8 62.8h0M449.6 62.4h0M513.9 64.1h0M421.6 64.4h0M594.6 62.7h0M649.4 62.9h0M473.4 62.5h0M607.2 61.7h0M597.8 63.5h0M501.8 60.3h0M507.8 63.4h0M675.4 61.1h0M499.1 63.4h0M595.8 60.9h0M614.9 60.7h0M411.7 62.3h0M554.5 62.6h0M658.1 62.8h0M640.9 63.5h0M482.5 62.1h0M517.4 63h0M634.8 62.5h0M485.4 62.2h0M438.2 62.2h0M526.2 61.1h0M551.2 61.8h0M567.6 60.9h0M463.4 63.1h0M513.2 60.9h0M654.2 61.2h0M577.5 61.7h0M406.5 63.8h0M661.4 62.5h0M559.6 63.1h0M477.5 61.8h0M414.1 62.3h0M572.3 63.2h0M651.4 62.3h0M663.2 64.1h0M560.6 62.1h0M477.6 61.4h0M404.5 62.3h0M488.4 64.2h0M484.8 63.9h0M510.9 63h0M437.5 63.4h0M662.5 62.5h0M484.5 63.2h0M600.9 63.2h0M563.2 62h0M656.9 62.9h0M623.6 63.5h0M642.3 61.8h0M560.3 61h0M576.8 60.8h0M638.7 62.2h0M526.3 62.8h0M476.7 63.3h0M465.2 62.6h0M644.7 62.2h0M455.9 62.4h0M506.3 63.1h0M676 64.6h0M645.9 61.9h0M675.1 62.1h0M574.9 64.6h0M415.8 65.1h0M412.5 65h0M412.8 64.7h0M416.9 65.3h0M412.9 64.7h0M413.9 65h0M416.3 65.4h0M439.5 60.4h0M436.2 60.5h0M435.7 60.4h0M434.6 59.4h0M435.9 59.7h0M434.3 60.5h0M522.8 65.8h0M520.1 65.3h0M521 64.8h0M520.2 65h0M517.1 65.5h0M519.4 65.4h0M519.4 65h0M562 65.8h0M558.6 65.5h0M560.6 65.7h0M561.3 65.9h0M610.2 59.3h0M603.4 59.8h0M601.3 59.2h0M604.4 59.6h0M604 59.7h0M600.8 59.9h0M604.3 58.9h0M609.3 65.1h0M605.6 65.7h0M608.2 65.2h0M608.6 65.7h0M600.2 65.6h0M601.6 66.3h0M610.8 65.7h0M600.6 65.5h0M664.1 60.6h0M659 60.5h0M660.6 60.9h0M655.5 60.8h0M661 60.4h0M659.5 60.4h0M659.4 64.8h0M662.9 64.4h0M655.3 64.4h0M659 64.5h0M662.4 64.5h0M664.3 64.7h0" stroke="#0a24fa" stroke-width="1.4" stroke-linecap="square" fill="none"/>
<path d="M644 64.2h0M480.5 62.3h0M476.9 64.2h0M629.4 62.6h0M535 62.9h0M680.6 64.6h0M660 63h0M660.1 60.7h0M619.4 62.7h0M451.4 62.1h0M543.1 62.5h0M563.2 63.9h0M658.2 62h0M486.5 61.8h0M592.1 61.3h0M660.3 60.7h0M535.3 61.5h0M413.5 62.2h0M635.4 63.2h0M478.9 62.1h0M569.4 63.9h0M415.4 62.9h0M503.7 63.8h0M669.8 62.7h0M413.2 62h0M440.8 64h0M431.6 61.4h0M596.7 63.2h0M627.1 64.3h0M509.4 63.4h0M482.3 63.6h0M617.7 62.4h0M483.8 63.6h0M644.3 62.9h0M665.8 63.8h0M600.5 60.5h0M543.8 62.2h0M546.2 62.9h0M654.5 61.1h0M602.3 62.4h0M525.3 63.3h0M656 64.3h0M675.7 63.1h0M494.8 62.3h0M603.5 64.4h0M641.4 64.4h0M474.1 63.7h0M551.3 61.2h0M640.2 61.4h0M426.5 64h0M453.6 64.6h0M618.5 63.3h0M528.1 61.6h0M477.6 60.6h0M673.1 62.7h0M561.2 64h0M611 64.6h0M643.2 62.9h0M467.1 61.2h0M611.5 61.4h0M449.8 61.9h0M438.1 63.2h0M513.9 62.5h0M531.8 63.5h0M523.4 62.4h0M463.4 61h0M505.7 62.7h0M420 62.2h0M438.5 63.1h0M598.8 61.9h0M660.4 60.5h0M416 62.5h0M502.1 63.6h0M425.3 63h0M601.5 62.3h0M505.8 64.4h0M600.8 62.3h0M464.1 64h0M641.1 61.2h0M403.4 62.1h0M508.5 63.5h0M630.1 62h0M402.4 61.4h0M440.1 63h0M622.4 64.3h0M488.1 63.3h0M547 64.7h0M562.3 62.2h0M656.8 63.8h0M475.3 64h0M656.7 61.3h0M555 63.9h0M561.2 62.5h0M562.2 63.7h0M638.4 62.1h0M458.2 63.1h0M414.6 62.2h0M578.6 63.1h0M615.8 63.6h0M472.7 62.9h0M626.6 64.1h0M468 64.2h0M520.9 62.7h0M622.9 62.7h0M550.3 62.6h0M425.9 63.1h0M570.5 63.8h0M426.1 62.5h0M663.2 64.7h0M438.7 64.2h0M675.1 61.7h0M632.3 61.8h0M593.3 63.6h0M430 64.7h0M486.6 63.1h0M492.2 62h0M487.2 63.1h0M642.1 63.7h0M460.8 63.9h0M431.6 60.9h0M585.9 62.2h0M428.6 63.3h0M476 63h0M661 64.5h0M629.9 63.1h0M479.7 63.2h0M410.6 63.3h0M662.1 63.6h0M503.7 61.9h0M644.8 63.1h0M528.8 63.6h0M642.6 64.2h0M417.9 62.4h0M583.1 63.9h0M428.1 61.5h0M432.5 64.2h0M473.7 62.9h0M639.2 63.1h0M648.3 63.1h0M497.6 61.9h0M472.2 63.7h0M511.9 64.3h0M656.1 62.4h0M540.8 62.7h0M444.3 62.5h0M675.5 63h0M447.7 61.4h0M602.8 63.9h0M570.7 62h0M524.8 61.4h0M414.3 65.3h0M434.8 59.7h0M435.5 60.5h0M519.6 65.3h0M517.5 65.4h0M516 65.1h0M560.4 65.9h0M561.3 65.6h0M600.3 59.5h0M605.7 60h0M605.8 59.5h0M601.5 59.2h0M604.3 59.3h0M605.1 59.2h0M600.2 60h0M600.4 65h0M608.4 65.4h0M610.1 66.2h0M607 65.2h0M663.7 60.7h0M664 60.5h0M656.7 64.8h0M664.9 64.5h0" stroke="#0a24fa" stroke-width="1.4" stroke-linecap="square" fill="none"/>
<polyline points="400.5,62.4 401.5,62.2 402.5,62 403.5,62.3 404.5,62.4 405.5,62.5 406.5,62.6 407.5,62.9 408.5,62.5 409.5,62.7 410.5,62.3 411.5,62.6 412.5,62.5 413.5,62.4 414.5,62.1 415.5,62.6 416.5,62.4 417.5,62.6 418.5,62.6 419.5,62.6 420.5,62.6 421.5,62.6 422.5,62.5 423.5,62.3 424.5,62.5 425.5,62.8 426.5,62.8 427.5,62.8 428.5,63.2 429.5,63.2 430.5,62.5 431.5,62.7 432.5,62.2 433.5,62.6 434.5,62.4 435.5,62.6 436.5,62 437.5,62.8 438.5,62.7 439.5,62.7 440.5,62.7 441.5,62.4 442.5,62.6 443.5,62.9 444.5,62.2 445.5,62.5 446.5,62.3 447.5,62.5 448.5,62.8 449.5,62.3 450.5,62.5 451.5,62.6 452.5,62.6 453.5,62.7 454.5,62.5 455.5,62.4 456.5,62.8 457.5,62.8 458.5,62.3 459.5,62.6 460.5,62.6 461.5,62.2 462.5,62.4 463.5,62.5 464.5,62.2 465.5,62.3 466.5,62.8 467.5,62.5 468.5,62.6 469.5,62.7 470.5,62.5 471.5,63 472.5,63 473.5,63 474.5,63 475.5,62.3 476.5,63.1 477.5,62.8 478.5,62.5 479.5,62.6 480.5,62.7 481.5,62.6 482.5,62.4 483.5,62.3 484.5,62.5 485.5,62 486.5,62.1 487.5,62.5 488.5,62.5 489.5,62.3 490.5,62.5 491.5,62.5 492.5,62.4 493.5,62.5 494.5,62.4 495.5,62.4 496.5,62.4 497.5,62.4 498.5,62.3 499.5,62.4 500.5,62.4 501.5,62.8 502.5,62.9 503.5,62.9 504.5,62.8 505.5,62.3 506.5,62.4 507.5,62.3 508.5,62.8 509.5,62.6 510.5,62.9 511.5,62.8 512.5,62.6 513.5,62 514.5,62.4 515.5,62.4 516.5,62.6 517.5,62.9 518.5,63 519.5,63.1 520.5,62.9 521.5,63.3 522.5,63.1 523.5,62.9 524.5,62.7 525.5,62.4 526.5,62.2 527.5,62.8 528.5,62.4 529.5,62.9 530.5,62.9 531.5,62.8 532.5,62.5 533.5,62.5 534.5,62.4 535.5,62.4 536.5,62.7 537.5,62.6 538.5,62.3 539.5,62.5 540.5,62.4 541.5,62.6 542.5,62.7 543.5,62.8 544.5,62.3 545.5,62.4 546.5,62.9 547.5,63 548.5,62.6 549.5,62.3 550.5,62.8 551.5,63 552.5,63.2 553.5,63.2 554.5,63.1 555.5,63.1 556.5,62.9 557.5,62.7 558.5,62.6 559.5,62.5 560.5,62.5 561.5,62.6 562.5,62.6 563.5,62.6 564.5,62.7 565.5,62.7 566.5,62.3 567.5,62.6 568.5,62.6 569.5,62.4 570.5,62.7 571.5,62.6 572.5,62.8 573.5,62.2 574.5,62.4 575.5,62.1 576.5,62 577.5,62.4 578.5,62.5 579.5,62.9 580.5,62.9 581.5,62.4 582.5,62.1 583.5,62.4 584.5,62.5 585.5,62.9 586.5,62.9 587.5,63 588.5,62.5 589.5,62.4 590.5,62.4 591.5,61.8 592.5,62 593.5,61.9 594.5,62.1 595.5,61.7 596.5,62.4 597.5,62.4 598.5,63 599.5,62.5 600.5,62.4 601.5,62.8 602.5,62.8 603.5,62.8 604.5,62.6 605.5,62.4 606.5,62.6 607.5,62.7 608.5,62.7 609.5,62.7 610.5,62.6 611.5,62.5 612.5,62.6 613.5,62.5 614.5,62.4 615.5,62.4 616.5,62.4 617.5,62.6 618.5,62.2 619.5,62.5 620.5,62.9 621.5,62.3 622.5,62.5 623.5,63 624.5,62.8 625.5,63 626.5,62.8 627.5,62.9 628.5,62.6 629.5,62.9 630.5,62.8 631.5,62.7 632.5,63 633.5,63.1 634.5,63.1 635.5,63.5 636.5,62.8 637.5,62.5 638.5,62.8 639.5,62.8 640.5,63.3 641.5,63.2 642.5,63.2 643.5,63 644.5,63.4 645.5,62.6 646.5,62.3 647.5,62.6 648.5,62.7 649.5,62.4 650.5,62.6 651.5,62.8 652.5,63 653.5,62.8 654.5,62.5 655.5,62.8 656.5,62.4 657.5,62.8 658.5,62.5 659.5,62.8 660.5,62.9 661.5,63.1 662.5,62.6 663.5,62.6 664.5,62.5 665.5,62.3 666.5,62.8 667.5,63 668.5,62.9 669.5,63.1 670.5,62.9 671.5,62.5 672.5,62.2 673.5,62.7 674.5,62.6 675.5,62.3 676.5,62.3 677.5,62 678.5,62.2 679.5,62.2 680.5,62.1" stroke="#000" stroke-width="1.6" fill="none" stroke-linejoin="round"/>
<path d="M44 182.4V187.9M45 182.3V187.8M46 181.8V188M47 182V187.8M48 181.8V188.3M49 181.3V189.3M50 182.8V188.3M51 182.4V189.1M52 182.1V189.4M53 182.5V189.1M54 182.1V189.7M55 183.2V190.5M56 182.9V190M57 183.2V191M58 183.2V189.9M59 182.4V189.4M60 182.4V189.8M61 182.4V188.4M62 181.8V187.5M63 182.8V188.3M64 182.8V186.2M65 181.7V185.8M66 182V185.9M67 182.1V186.3M68 182.3V186.4M69 182.1V185.7M70 182.8V186.3M71 182.7V186.1M72 181.4V187.2M73 182.1V185.9M74 182.8V187.1M75 181.5V187.1M76 181.5V185.8M77 181.5V187M78 182.3V186.5M79 182.4V186.1M80 181.4V185.7M81 181.7V186.5M82 181.4V185.7M83 181.6V185.6M84 181.4V185.8M85 181.5V186.1M86 182.6V186.7M87 181.2V185.9M88 181.6V186.5M89 181.7V186.7M90 182.1V187M91 181.3V186.5M92 182.4V186.9M93 182.2V187.6M94 182V187.2M95 181.9V186.6M96 181V186.8M97 181V186.5M98 180.8V186.5M99 180.7V186.5M100 181.8V186.4M101 181.7V187.5M102 180.8V187.1M103 181.5V187.9M104 181.5V186.6M105 180.6V186.7M106 180.7V187.8M107 181.8V186.6M108 181.6V187.9M109 180.7V187.3M110 180.7V187.2M111 181.5V186.9M112 181.1V187.6M113 181.2V188.4M114 180.7V187.7M115 179.4V188.8M116 179.7V188.9M117 178.8V189.4M118 177.5V188.4M119 178.6V188.4M120 178.5V188.7M121 178.5V188M122 179.2V188.3M123 177.7V187.8M124 178.6V188.5M125 178.9V188.6M126 178.5V187.2M127 178.8V188.6M128 179V188.5M129 179.6V188.5M130 179.1V187.1M131 179.4V187.3M132 179.1V187.5M133 179.2V187.9M134 179.8V188.6M135 180.2V188.4M136 179.1V188M137 179.5V187.7M138 179.1V187.7M139 180.6V188.4M140 180.5V187.1M141 180.5V187.5M142 179.8V187.7M143 179.8V187.2M144 180.8V187.7M145 180.2V187.6M146 179.6V186.9M147 179.7V187.3M148 181.1V186.7M149 180.2V188M150 180.1V187.4M151 181.2V187.9M152 180.4V187.1M153 180.2V187.2M154 181.3V187.6M155 180.4V188.2M156 180.3V187.2M157 180.5V187M158 181.2V186.8M159 180.3V186.9M160 180V188.3M161 179.9V188.2M162 180.7V187M163 181.1V187.1M164 180.9V188.5M165 180.2V187.6M166 180.2V188.2M167 180.6V187.4M168 179.8V187.4M169 179.7V187.3M170 180.3V187.4M171 180.6V187.7M172 181V187.4M173 180.5V188M174 180.6V187.4M175 179.7V188.8M176 180.2V187.9M177 179.5V188.3M178 180.9V188.4M179 180.9V188.5M180 179.4V188.5M181 180.2V189.1M182 180.6V188.7M183 179.5V188.3M184 180.5V188.5M185 180V188M186 179.7V188.2M187 178.6V189.5M188 179V188.9M189 178.8V189M190 178.8V190.6M191 179.2V190.5M192 179.1V190.5M193 178.8V189.1M194 178.5V188.9M195 178.6V189M196 178.7V190M197 179.1V189.3M198 178.8V189.9M199 179.1V190.1M200 179V188.6M201 180.1V189.4M202 180.2V189.7M203 180V188.9M204 179.9V188.7M205 180.3V189.8M206 179.9V188.6M207 179.3V189.1M208 179.2V189.9M209 180.4V189.1M210 179.4V189.1M211 180.6V189M212 180.2V189M213 179.3V188.7M214 179.7V189.3M215 179.7V188.5M216 179.2V189.7M217 180.5V188.8M218 180.3V188.8M219 179.6V188.2M220 180.2V188.1M221 180.6V188.3M222 180.7V188.6M223 180.3V188.3M224 179.6V189.2M225 180.1V188.8M226 179.9V188.9M227 180.9V189.4M228 180.7V188.7M229 180V189.2M230 180.7V188.4M231 180.2V187.7M232 180.4V188.5M233 179.6V189.2M234 180.6V188.5M235 180.8V188.5M236 180.3V187.6M237 180.6V188.4M238 180.3V188.5M239 180.7V188.6M240 180.6V189.1M241 180.2V189M242 179.7V188.8M243 180.6V188.2M244 180V187.6M245 180.2V188.1M246 179.7V188.4M247 181.1V188.2M248 180.8V187.4M249 180.2V187.3M250 181.3V188.7M251 180.5V187.6M252 180.8V188.4M253 180.1V187.5M254 181.1V188.2M255 180V187.6M256 181.1V188.1M257 181.4V188.6M258 180.5V188.6M259 179.9V188.1M260 181.3V187.4M261 181.1V187.7M262 179.9V187.8M263 181.1V187.7M264 179.9V187.5M265 180.6V188.2M266 180V188M267 180.3V187.8M268 181.3V188.4M269 179.9V188.2M270 180.6V187.8M271 181.3V188.2M272 179.9V188M273 181.2V187.3M274 180.6V187M275 181V187.3M276 180.8V187.8M277 181.1V187.6M278 179.9V187.6M279 181.3V187.7M280 180V187.5M281 180.2V187.7M282 181.2V188.5M283 181V188.1M284 180.4V188.2M285 180.8V187.6M286 180.8V187.2M287 179.8V187.7M288 181.1V187.3M289 181.1V187.2M290 180.5V187.7M291 180.7V187.6M292 180.2V188.2M293 180.9V187.2M294 181.3V188.4M295 180.2V187.9M296 180.5V187.5M297 181.3V187.1M298 180.1V187.1M299 180.1V188.3M300 180V187.7M301 180.8V188.2M302 181V187.7M303 181.2V187.8M304 181V186.8M305 180.4V187M306 180.1V188.1M307 180.6V187.7M308 179.9V187.7M309 180.3V188.2M310 180.6V187.3M311 179.9V187.3M312 181V187.1M313 181.3V187.9M314 179.8V186.9M315 180.5V187.1M316 181V186.7M317 180V187.9M318 181V187.7M319 180.7V188M320 181.2V187.8M321 181V188M322 181V187.9M323 181.1V188" stroke="#0a24fa" stroke-width="1.05" fill="none"/>
<path d="M282 186.6h0M133.4 180.3h0M154.5 183.4h0M148.1 183.5h0M106.8 180.2h0M76.7 183.9h0M162.8 183.6h0M191.5 182.2h0M43.3 181.2h0M45.2 187.2h0M52.2 192.6h0M224.3 186.2h0M107.3 188.2h0M100.4 184.8h0M265.9 186.2h0M239.4 186h0M79 184h0M133.5 183.1h0M219.8 184.8h0M320.5 187h0M304.5 184.9h0M94.5 187.4h0M311.2 188.1h0M227.7 183.5h0M87.9 188.8h0M185 186.1h0M288.7 184.1h0M152.8 182.3h0M181.6 181.4h0M322.6 186.5h0M290.5 185.8h0M175.4 186.2h0M74.4 185.9h0M141.1 184.5h0M238.3 183.5h0M149.4 182.2h0M113.2 185.7h0M87.7 187.2h0M315.2 181.3h0M266.6 180.6h0M120.3 177.4h0M192.1 188.3h0M246.6 186.5h0M157.3 182h0M70.8 186.3h0M77 185.7h0M306.2 186.2h0M239.8 185.8h0M265.5 185.5h0M96 184.1h0M237.3 182.7h0M225.3 184.8h0M242 188.3h0M193.1 185.4h0M279 186.3h0M127.7 185.9h0M278.7 182.1h0M220 185.9h0M288.1 186.1h0M242.2 182.5h0M213.8 182.3h0M202.2 183.7h0M50.5 186.4h0M179.1 180.4h0M242.9 186.4h0M283.8 182.5h0M180.9 183.7h0M316.3 184.4h0M246.7 186.3h0M135.4 181h0M193.9 185.7h0M79.5 184.2h0M73.3 187.4h0M254.6 186.9h0M168.4 185.2h0M306.3 187.6h0M313.9 184h0M55.1 187.2h0M105.8 186.7h0M202.2 181.8h0M281 183h0M103.5 183.8h0M43.5 186.9h0M117.8 184.4h0M66.5 186.2h0M238.8 185.2h0M109.2 180.5h0M49.4 189.8h0M67.7 185.5h0M154.2 183.1h0M56.8 188.2h0M161 185.7h0M248.2 184.1h0M240.1 187.1h0M275.8 182.3h0M168.2 184.1h0M285.5 186h0M113.4 183h0M136.3 184.1h0M212.4 185.9h0M116.7 181.1h0M163.1 184.4h0M183.6 180h0M269.2 182.2h0M314 184.3h0M195.7 186.2h0M278.8 183.9h0M279.1 185.3h0M145.3 181.9h0M237.1 181.6h0M120.7 185.6h0M149 186.1h0M108.7 180.7h0M201.5 183.4h0M251.6 182.3h0M182.9 183.4h0M294.3 184.7h0M103.4 182.8h0M147.4 184.3h0M316 186.3h0M142.7 183.5h0M172 184.8h0M268.6 184.8h0M82.5 182.6h0M257.7 182.7h0M310.8 184.1h0M233.6 184h0M199.2 182.5h0M270.6 182h0M292 186.1h0M125.1 184.8h0M185.2 180.3h0M95.8 181.5h0M122.9 178.8h0M281.2 184.3h0M250.9 181.4h0M53.1 182.7h0M209.1 181.4h0M218.3 180.8h0M106.6 184.3h0M187.4 184.1h0M122.9 185.7h0M297.6 185.6h0M252.2 182.6h0M160.2 183.6h0M221.6 180h0M176.6 185.9h0M209.4 186.3h0M218.6 186.6h0M306.9 187h0M137.3 186h0M122.6 177.3h0M291.7 187.8h0M55.1 188.8h0M114.1 183.7h0M274.4 186h0M129.6 186.4h0M81.8 183.5h0M200.8 182h0M246.8 187.1h0M180.3 186.5h0M283 183h0M275.3 183.9h0M304.9 182.3h0M259.6 181.4h0M270.1 186.4h0M245.2 184.1h0M161.5 184.5h0M196 181.5h0M218.1 188.7h0M166.5 183.6h0M267.1 188.5h0M155.1 182.3h0M150 187h0M45.7 188.7h0M275.4 185.4h0M70.9 185.2h0M214.7 185.9h0M248.3 179.9h0M209.7 189.2h0M225 186.7h0M317.4 184.3h0M113.6 181.5h0M59.5 183.2h0M135.5 182.9h0M260.7 184.5h0M208.5 183.7h0M207.5 181.7h0M309.3 185.4h0M161.8 187h0M247.3 183.3h0M273.4 184.1h0M291.1 181.5h0M247.5 186.1h0M238.5 184.2h0M166.5 187.8h0M141.7 180.7h0M277.9 184.5h0M163.4 185.1h0M110.3 184h0M185.4 184.9h0M255.3 184.8h0M292.8 182.4h0M65.6 185.7h0M141.4 185.4h0M130.5 188.4h0M182.9 182.7h0M206.9 180.8h0M164.1 181.3h0M188.6 179.4h0M93.1 178.9h0M295.9 182.5h0M183.5 185.1h0M234.7 181.6h0M268.4 186.1h0M251.8 186.1h0M276.4 182.8h0M144 186.3h0M202.5 182.8h0M276.9 186.9h0M192.1 183.3h0M280.7 185.7h0M192.8 183.7h0M222.5 189.6h0M126.4 186.9h0M195.7 187.7h0M235 184.8h0M74 184.1h0M159.8 182.3h0M182.7 185.4h0M249.5 184.3h0M114.9 181.8h0M169.2 185.5h0M289.9 181.3h0M136 184.9h0M260.3 184.5h0M78.3 183.6h0M113.2 183.9h0M49.8 186h0M240 184.8h0M279.1 185.6h0M314.4 187.4h0M210.6 185.9h0M259.7 184.5h0M149 182.7h0M107.5 181.4h0M156.8 181.5h0M245.7 182.3h0M280.1 182.8h0M105.1 179.2h0M255.5 184.1h0M84 184.9h0M238.4 186.9h0M88.8 179.9h0M131.4 183.4h0M118.6 178.8h0M291.4 188.1h0M92.3 183.7h0M212.4 186.9h0M252.4 182.8h0M124.6 187.5h0M238 183.5h0M200.4 180.2h0M225.2 181h0M61.5 187.4h0M49.7 188.3h0M246.7 184.9h0M241.5 185.6h0M264.6 184.2h0M201.7 181.6h0M124.8 179.5h0M231.4 187.9h0M53.9 185.2h0M291.8 183.5h0M216.8 188.5h0M133.7 182.8h0M204 182.9h0M81.7 182.2h0M89.8 188.5h0M239.7 187.3h0M141 185h0M124 180.2h0M207.5 181.6h0M154 183h0M89 185.8h0M238.8 182.8h0M140.2 182h0M280.3 181.9h0M260.1 183.5h0M209.2 181.5h0M140.3 181.5h0M264.5 184.3h0M279.6 186.6h0M105.5 181.8h0M234.6 182.5h0M120.5 178h0M47.9 186.3h0M216.3 180.7h0M73 183h0M281.8 186.1h0M100.8 182.3h0M244.1 187.7h0M302.9 187.4h0M248 183.8h0M304 185.3h0M231.8 186h0M46.3 183.9h0M109 178.9h0M204.9 182.9h0M189.9 184.5h0M95.8 184h0M136 187h0M300.2 183.8h0M245.9 187.3h0M139.8 184h0M208.7 185.3h0M196.9 183.9h0M130.5 187.9h0M198.3 180.9h0M259.4 183.8h0M212.9 180.8h0M136.9 187.4h0M196.8 186.8h0M254.8 180.9h0M200.7 185.8h0M80.1 182.3h0M245 184.7h0M298.9 184.9h0M191.6 187.8h0M128.8 179.6h0M229.8 186.4h0M168.9 181.3h0M211.6 180.7h0M68.4 184.9h0M223 184.9h0M229.8 181.3h0M231.1 183.4h0M296 186.6h0M106.6 185.1h0M156.9 185.3h0M125.9 188.2h0M307.8 182.7h0M253.1 186.5h0M198.8 180.8h0M158.9 183.2h0M179.6 179.8h0M88.9 183.1h0M251.9 186.6h0M87 187.8h0M320.3 184.7h0M228.6 187.3h0M220.3 184.7h0M84.4 183.7h0M321.2 181.1h0M320.1 186.4h0M138.6 184.3h0M59.4 191.1h0M227.5 179.8h0M155 186.1h0M114.2 183.2h0M129 183h0M134 184.5h0M120 179.1h0M308.8 183.2h0M66.8 186h0M105.4 184.9h0M143.8 183.6h0M273.6 182.2h0M243.6 186.8h0M269.1 187.7h0M160 184.6h0M180.6 182.6h0M250.2 185.2h0M167.9 183.4h0M193.2 180.5h0M51.3 186.4h0M266 184.4h0M59.3 186.7h0M179.3 183.5h0M125.6 187.1h0M263 187.8h0M188.2 182h0M149.9 183.3h0M268.8 184.5h0M191.2 180.1h0M209.6 185.2h0M183.2 182.8h0M146.1 182.6h0M293.9 183.4h0M58.2 185.1h0M77.4 181.7h0M128 186.8h0M255.7 185.1h0M269.4 188.3h0M320.7 184.5h0M245.7 183.3h0M90 182h0M45.1 182.6h0M120 185h0M316.9 181.7h0M280.2 188.3h0M166.5 184.2h0M115.2 184.2h0M56 184.5h0M302.3 184.3h0M97.7 185.6h0M156.5 187.9h0M276.8 181h0M106.6 185.8h0M259.4 181.3h0M279.5 185.1h0M208.9 183.6h0M63.4 186.4h0M119 187.5h0M50.2 185.3h0M259 182.7h0M299.7 184h0M278.8 184.4h0M175.1 187.1h0M196.2 181h0M72.3 182h0M187.5 183.1h0M257.1 184.3h0M128.4 182.3h0M249.7 184h0M136.2 183.7h0M176.3 181.7h0M176.3 182.8h0M280.7 183.6h0M73.8 185.4h0M48.7 185.3h0M180.5 186.3h0M202.5 184.6h0M195.2 184.2h0M51 185.1h0M178 186.7h0M184.4 188.4h0M259.6 184.5h0M231.3 184.3h0M87.5 184.5h0M191.6 184.8h0M167.4 184.1h0M56.9 188.1h0M167.4 182.8h0M250.9 181.1h0M241.6 183.6h0M290.6 180.8h0M90.7 180.9h0M43.4 185.8h0M207.4 184.8h0M155.7 182.8h0M283.8 185.5h0M142.3 187.8h0M284.9 186.1h0M45.7 182h0M310 182.7h0M205 182.6h0M303.1 181.4h0M67 183.6h0M221.1 186h0M130.1 181.2h0M171.5 183.1h0M172.6 182.2h0M269.5 182.9h0M319.8 182.5h0M108.8 182.6h0M267.8 185.4h0M56.8 187.5h0M98.8 182.8h0M141.7 186.9h0M323.3 186.8h0M225.4 184.1h0M200.9 183.4h0M70.2 186.1h0M64.7 183.4h0M171.6 187.4h0M139.7 182.7h0M123.6 188.5h0M97.9 186h0M127.5 187.2h0M282.5 186.9h0M47.3 188.5h0M109.8 183.2h0M199.9 180.2h0M178.3 183.1h0M322.5 186.1h0M184.7 183.9h0M237.2 188.3h0M62.8 185.3h0M293.3 184.3h0M230.7 180.3h0M254.4 183.3h0M70.8 182.7h0M296.2 182.6h0M101.2 180.6h0M207.2 188.6h0M322.5 186.1h0M140.1 182.7h0M127.6 179.4h0M265.1 185.1h0M207.8 183.9h0M231 183h0M126.8 184.8h0M302.8 185.3h0M110.4 183.7h0M225.2 182.6h0M154.5 186.6h0M47.2 187.3h0M222.2 181.1h0M250.4 188.1h0M177 187.1h0M89.4 185.3h0M129.9 183.8h0M233.1 187h0M189.3 188.9h0M132.3 186.8h0M69.7 185.3h0M314.5 183.9h0M56.1 188.9h0M83.2 184.8h0M95.8 182.3h0M218.2 185.7h0M141.5 184.6h0M198.4 183.7h0M284.5 181.2h0M137.6 188h0M81.6 185.7h0M139.9 184.4h0M230.1 184.1h0M242 187.8h0M53.9 190.6h0M173.4 184.8h0M132.8 185.2h0M70.7 186.4h0M320.9 184.3h0M228.4 181.4h0M242.5 187.5h0M49.4 190.3h0M78.5 185.3h0M308.5 183.1h0M53.5 184.7h0M114.7 182h0M263.2 185.2h0M220 189.3h0M210.7 184.3h0M231.3 182.1h0M140.7 185.3h0M251 182.6h0M308.1 184.5h0M177 182.7h0M242.1 185h0M110.5 182.3h0M102.4 179.9h0M85.2 181.4h0M161.5 187.4h0M301.6 184.6h0M136.1 182.6h0M78.4 184.5h0M136.5 186.2h0M143 182.6h0M96.9 185.8h0M206.2 187.3h0M217.2 181.5h0M280.6 183.8h0M206.5 180.2h0M180 186.3h0M282.3 182.4h0M176.7 186.7h0M307.2 184.1h0M61.7 182.8h0M230 183.1h0M182.4 185.6h0M294.1 183h0M214.5 180.6h0M147.9 184.1h0M68.3 187.7h0M242.1 184.3h0M134.1 186.2h0M234 183.4h0M114.2 185h0M231.6 183.9h0M317.2 186h0M106.6 180.5h0M191.2 181h0M184.1 184.3h0M170.1 185.6h0M172.7 186.7h0M48.7 182.1h0M49.4 181.6h0M47.4 182.8h0M44.3 183.5h0M48.3 182.3h0M47 181.7h0M57.4 188.2h0M58.1 189.7h0M58.5 192.6h0M57.2 191.8h0M57.3 189.7h0M57.7 188.9h0M57.7 188.1h0M57.9 191h0M58.5 193.6h0M57.3 193.6h0M58.4 193.7h0M57.6 193h0M100.7 191.6h0M100.5 190.4h0M101.4 189.3h0M101.1 192.5h0M101.6 188.5h0M100.2 190.7h0M100.6 192.9h0M100.8 194.4h0M100.3 193.9h0M101.6 192.3h0M101.3 194.2h0M101.5 188.8h0M111.3 179.7h0M111 176.1h0M111.8 174.4h0M112.1 177.4h0M110.9 176.4h0M112.1 173.4h0M111.7 175.7h0M111.9 177.5h0M112.1 179.9h0M111.9 176.2h0M112 175.1h0M112 176.4h0M113.1 188.1h0M113.7 193.1h0M114.1 193.9h0M113.8 190.2h0M113.4 191.3h0M113.1 192.4h0M113.8 189.2h0M113.6 191h0M114.2 191.6h0M112.8 190.5h0M113 194.4h0M114 192.6h0M112.8 192.1h0M112.9 189h0M120.8 174.7h0M122.1 179.9h0M121.3 176.1h0M121.7 174.7h0M121.1 177.1h0M122.1 179.2h0M121.3 175h0M122.2 178.5h0M120.8 176.9h0M121 178.5h0M121.7 177.4h0M121.7 176.1h0M129.2 190.8h0M129.4 188.6h0M128.9 188.5h0M129.5 188.9h0M129.1 190.2h0M128.4 188.7h0M128.9 191.6h0M128.2 190.7h0M192.6 178.6h0M192.4 177.3h0M193 177h0M193.2 177.3h0M193.3 176.1h0M192.7 176.7h0M192.5 176.1h0M192.8 176.9h0M192.2 178.9h0M193.1 177.6h0M192.7 178.4h0M192 176.1h0M185.9 178.8h0M185.5 180.2h0M186 180.7h0M185.4 181.3h0M185.9 177.6h0M185.7 180h0M185.9 180h0M186.3 181.5h0M186.2 179.2h0M185.7 180.1h0M188 176.2h0M187.9 178.5h0M188.6 179.3h0M187.8 178.6h0M188.4 178.3h0M187.5 179.1h0M188.7 180.5h0M187.6 180.4h0M187.6 176.8h0M188.6 179.4h0M190.7 176.9h0M189.4 179.5h0M190.5 176.5h0M189.5 176.2h0M190.8 179.2h0M189.4 177.1h0M190.1 175.7h0M189.7 175.2h0M190.1 178.4h0M189.9 175.4h0M194.3 176.2h0M193.8 177.2h0M193.9 176.3h0M194.7 179.6h0M194.6 179.8h0M194 176.7h0M194.1 179.1h0M193.2 179.7h0M195 190h0M194.6 192.1h0M194.6 190.5h0M194.8 194.8h0M194.2 192h0M195.2 193.2h0M195.1 192h0M195.3 194.2h0M224 192.8h0M224.7 193.8h0M223.7 192.7h0M224.4 193h0M223.7 192h0M224.3 190.5h0M224 193.1h0M224.3 192.1h0M255.3 179.6h0M255.8 179.7h0M255.4 180.8h0M254.3 179.2h0M255.2 179.5h0M254.8 180.5h0M293.6 179.9h0M292.4 179.4h0M293.7 179.3h0M292.5 180.1h0M293.1 180.5h0M293 180.5h0M305.8 180.2h0M305.3 180.6h0M306 180.8h0M306.1 180.4h0M305.8 178.6h0M305.3 179.3h0" stroke="#0a24fa" stroke-width="1.4" stroke-linecap="square" fill="none"/>
<path d="M75.1 188.1h0M73 190.4h0M182.6 190.5h0M305.8 188h0M133.1 181.3h0M316.6 181.1h0M313.8 182.4h0M77.3 181.9h0M244.8 184.6h0M257.2 185h0M79.3 187h0M266.9 184.7h0M271.6 188.9h0M67.1 190.4h0M266.8 188.6h0M184.4 184.2h0M104 185.2h0M68.8 188.6h0M209.1 188h0M245.7 185h0M240.5 185.9h0M192.3 181.3h0M88.7 183.5h0M215.6 188.5h0M73.3 181.9h0M187.8 189.8h0M143.8 189.9h0M183.8 188.2h0M65.3 190.8h0M296.9 181.7h0M146.3 189.8h0M155.2 186.1h0M221.3 188.2h0M88.5 184.6h0M131 186.4h0M216.9 187.2h0M251.1 188h0M184.9 186.8h0M247 184.8h0M84.8 187.6h0M46.1 181.2h0M196.8 184.4h0M311.6 188.1h0M322.7 181.2h0M79.5 187h0M279.7 182.4h0M68.3 183.8h0M248.5 182.2h0M188.3 186.9h0M212.5 183.4h0M150.2 185.4h0M269.6 183.3h0M61.7 186.2h0M116.1 183.7h0M304.8 186.8h0M225 188.8h0M197.7 183.9h0M44.3 190.2h0M300.1 187.1h0M69.9 181.3h0M279.3 182.3h0M216.4 182h0M68.6 184.1h0M117.5 186.2h0M119.5 185.1h0M219.8 185.1h0M72.1 188.5h0M51.7 183.5h0M45.3 185.3h0M79.3 183.7h0M146.4 182.7h0M300.2 184.5h0M119.1 190.1h0M181.5 184h0M50.5 190h0M302.1 189.9h0M271.6 188h0M139.1 181.4h0M225.9 185.5h0M138.8 189.4h0M323.6 182h0M269.7 183.1h0M240.2 190.2h0M103.2 189.7h0M322.4 188.4h0M322.7 188.5h0M219.9 181.6h0M304.5 183.3h0M104.5 186.9h0M219.5 181.3h0M55.1 183.9h0M228.9 188.1h0M274.7 189.3h0M124.1 184.5h0M283.4 190h0M174.5 188.5h0M185.1 182.7h0M296.3 184.2h0M269.1 185.2h0M289.7 188.5h0M309.1 188.4h0M143.6 184.4h0M49.1 185.9h0M144.2 186.5h0M262 182.8h0M55.8 186.3h0M234.6 187.2h0M209.1 188.5h0M89.6 186.2h0M278.3 189.5h0M219.4 181.4h0M59.9 185.3h0M154.8 189.6h0M77 190.3h0M299.7 182.5h0M297 183h0M116.3 190h0M193.3 182.1h0M189.8 186.3h0M203.7 184.5h0M111.6 181.7h0M85.5 187h0M112.6 186.7h0M201.5 183.1h0M168.8 185.3h0M297.2 188.9h0M137.6 181.9h0M174 181.8h0M169.2 186.8h0M135.7 184.4h0M166 186.2h0M149.2 182.4h0M56.6 189.6h0M321.9 183.1h0M203.6 184.8h0M264.6 182.6h0M285.3 188.4h0M252.4 184.7h0M247 183.5h0M239.3 183.1h0M219.5 187.3h0M290.3 189.2h0M278.7 183.7h0M303.7 187.1h0M313.4 187h0M312.8 185.6h0M197.8 184.1h0M253.2 182.5h0M247.9 182.5h0M202.2 185.6h0M291.8 186.5h0M293.9 188.9h0M286.3 188.7h0M290.2 186.3h0M292.4 187.5h0M294.1 187h0M289.9 188.8h0M291.4 189.4h0M296.9 189h0M292.4 189.2h0M298.8 186.1h0M294.7 186.6h0M295.7 188.7h0M298.3 189.8h0M294.6 186.8h0M301.3 186.7h0M291.8 189.6h0M295.9 187.5h0M299.9 185.7h0M291 186.2h0M296.6 187h0M299.9 188.4h0M289.5 186.8h0M291.5 188h0M295.1 189.8h0M299.8 187.4h0M294.6 189.2h0M298.2 187.5h0M153.4 186.5h0M154.4 188.3h0M154.9 190.2h0M138.5 188.7h0M139.3 186.5h0M142.1 186.9h0M152.8 190.5h0M159 187.8h0M139.3 189.6h0M141.4 187.3h0M141.3 188.6h0M142.1 189.2h0M148.9 187.3h0M140.3 186.6h0M147.6 188.3h0M153.1 190.2h0M146.3 189.3h0M141.3 186.7h0M153.7 189.9h0M142.5 189.4h0M141.2 188.5h0M143.9 187.9h0M154.2 188h0M146.6 190.2h0M152 186.9h0M140.7 189.7h0M153.5 190.4h0M153.3 187.6h0M232.4 178.8h0M229 180.9h0M226.8 179.8h0M234.5 179.6h0M226.6 180h0M227.8 179.9h0M232 180.3h0M234 180.5h0M225.4 180.5h0M227.5 179.5h0M226.4 180.8h0M226.8 179.4h0M45.4 188.5h0M46.5 188.4h0M44.9 190.7h0M47.9 190.7h0M45.8 188h0M44 189.7h0M44.1 188.3h0M45.7 188h0M43.6 190.5h0M45.9 188.6h0" stroke="#32d214" stroke-width="1.4" stroke-linecap="square" fill="none"/>
<path d="M125.3 189.4h0M320.3 183h0M266 182.3h0M273 180.4h0M245.4 188.1h0M246.3 187.8h0M123.2 185.2h0M287 188.6h0M85.5 185.5h0M235.3 189.7h0M209.6 180.7h0M280.5 184.4h0M121.2 187.5h0M121.1 184.4h0M55.6 183.3h0M45.1 184.8h0M227.7 185.7h0M52.7 185.2h0M65.9 186.9h0M51.1 188.2h0M152.8 183.6h0M99.2 184.2h0M235.8 186.8h0M246 184.8h0M136.6 183.9h0M257.8 184.9h0M129.7 183.2h0M264.5 180.8h0M126.8 181.3h0M102 190.4h0M320.2 182.9h0M99.5 183.5h0M170.7 188.9h0M230.9 186.7h0M268.4 188.9h0M162.4 185.7h0M303.1 189.4h0M156.7 186.1h0M208.6 180.4h0M203.8 186.6h0M146.7 185.6h0M114.2 180.1h0M266.5 186.8h0M287.6 186.4h0M44.5 181.3h0M97.2 187.5h0M94.2 184.1h0M81.2 185.9h0M68.1 184.7h0M129.4 180.4h0M262.1 180.2h0M316 187.7h0M204.3 181.3h0M138.1 180.7h0M225.4 186h0M246 183.3h0M267.9 182.3h0M63.7 190.1h0M204.3 182.3h0M73.9 185.6h0M291.8 190.2h0M309.1 181.8h0M307.9 187.7h0M157.8 181.6h0M80.2 190h0M149.3 190.3h0M125.9 186.2h0M43.6 182.6h0M88.6 187.7h0M58.2 183.1h0M240.6 183.3h0M288.7 182.3h0M203.7 183.4h0M141.6 190.3h0M99.2 182.3h0M162 190.4h0M90.8 186.3h0M91.4 187.3h0M237.5 190.2h0M258 190.3h0M216.3 188.8h0M251.8 187.4h0M79 187.8h0M235.2 189.9h0M182.8 185.1h0M294.8 180.5h0M145.5 187.9h0M86.6 182.9h0M91 186.8h0M281.3 188.8h0M276.9 190.2h0M89.2 187.6h0M224.8 181.7h0M218.9 186.8h0M274.3 182.9h0M278.7 189.4h0M240 182.9h0M192.1 183.9h0M211.2 180h0M211.5 187h0M209 182.9h0M138.6 180.1h0M121.9 189.7h0M293.4 184h0M253.4 182.3h0M244.7 184.7h0M86.1 187.9h0M62.1 189.9h0M92.4 183h0M254.5 181.4h0M200.5 179.1h0M210.7 178.6h0M225.8 176.2h0M244 179.6h0M220.8 176.2h0M218 177.1h0M233 178h0M219.1 177.8h0M205.7 177.8h0M214.1 179.1h0M209.4 178.8h0M216.9 176.1h0M240.7 177.9h0M208.5 179.6h0M214.6 177.9h0M213.1 176.6h0M239.2 177.1h0M214.2 179.5h0M241.8 179.5h0M243.9 179.1h0M201.9 176.9h0M201.5 176.2h0M215.5 179.8h0M201.2 177.9h0M221 179.3h0M201.3 179.3h0M239.5 178.5h0M239.4 178.6h0M222.6 176.4h0M224.4 177.6h0M233.3 176.4h0M230.2 179.7h0M203.4 179.5h0M233.9 178.4h0M203.9 179.5h0M235.3 177.3h0M217.6 179.9h0M209.2 177.2h0M231.8 177.3h0M238.9 177.8h0M167.8 180.9h0M164.5 178.8h0M172.8 179.1h0M170.9 179.3h0M169.3 179.4h0M172.9 180.2h0M168.5 179.2h0M165.7 180.4h0M167.4 178.8h0M168.4 179.8h0M172.9 180.5h0M166.2 179.9h0M167.5 181h0M162.4 180.4h0M166.9 180.4h0M172.3 179.3h0M173.8 191h0M174.5 191.3h0M173.1 191.4h0M177.2 190.8h0M176.9 191.9h0M175.2 192.2h0M173.2 192h0M174.5 191.4h0M314.4 188.3h0M313.3 187.1h0M315.6 187.6h0M313.7 188.1h0M315 188.5h0M312.9 187h0M313.3 189.2h0M317.7 188h0M315.6 188.5h0M309.8 187.6h0M313 189.4h0M318.2 188h0M316.9 188.9h0M305.6 189.1h0M312.9 188.8h0M307.9 189.1h0M309.9 187.9h0M313.1 188.2h0M305 188.2h0M311.8 187.7h0M212.3 178.2h0M212.2 178.3h0M212.6 179.4h0M212.3 177.4h0M211.4 178.3h0M212.6 179.9h0M211.3 178.5h0M211.7 176.1h0M221.3 176.4h0M222.8 176.7h0M222 178.8h0M221.9 176.9h0M222 179.6h0M222.4 178.6h0M222.4 176.4h0M221.8 177.9h0M228.7 178.7h0M228.1 179.8h0M228.7 179.2h0M228.5 177.1h0M228.6 176.7h0M227.8 175.6h0M227.7 179.3h0M228.5 178.8h0" stroke="#b450f0" stroke-width="1.4" stroke-linecap="square" fill="none"/>
<path d="M68.3 184.9h0M102.1 182.9h0M277.2 184.1h0M273.5 183h0M181.7 184.2h0M64.7 182.5h0M181.8 187.4h0M204.4 184h0M205.8 183.5h0M200.8 185.5h0M319.6 184.7h0M186.5 182.7h0M257.7 185.2h0M286.1 184.3h0M64.8 187.5h0M184.4 187.3h0M168.2 184.8h0M45.4 188.2h0M251.8 185.5h0M288.7 185.2h0M257.6 183h0M217.9 187.9h0M278 185.9h0M239.7 179.8h0M129.2 187.2h0M67.2 185h0M61.8 187.2h0M194.7 179.3h0M232 188.7h0M298.9 183.6h0M149.9 185.2h0M167.4 184.5h0M120.2 180.8h0M196 179.6h0M53.8 181.9h0M217.6 182.6h0M236.9 185.7h0M321.6 184h0M53.6 188.6h0M194.8 184h0M163.9 185.1h0M94.5 180.4h0M99.5 186.7h0M89.4 182.2h0M74.2 184.1h0M95.2 185.2h0M168.5 180.4h0M50.7 189.5h0M183.1 183.6h0M205.3 181.1h0M230.5 186.3h0M218.6 183.4h0M233.5 188.4h0M277.8 184.1h0M233.8 183.7h0M291.8 184.6h0M121.7 183.3h0M316 185.5h0M149.2 183.2h0M86.9 186.1h0M295.1 186h0M121.6 182.5h0M273.5 185.6h0M288.7 185.5h0M142.8 183.9h0M222.9 178.7h0M80.1 186.9h0M176.6 184.7h0M208.6 183.4h0M321.1 183.4h0M76.4 183.1h0M135.9 189.1h0M246.5 186.8h0M117.3 181.8h0M125.9 190.1h0M162.2 186h0M93.7 185.1h0M249.9 183.5h0M70.9 187.3h0M60.7 185h0M211.5 179.9h0M113.1 186.9h0M163.5 180.9h0M124.7 183h0M101.7 183.3h0M283.7 184.3h0M52.2 183.4h0M78 185.3h0M279.3 183.5h0M190.3 181.8h0M115.8 185.7h0M273.1 180.7h0M293.9 184.8h0M52 184.5h0M77.9 182.1h0M143.6 187h0M241.6 183h0M214.7 187.6h0M70.4 183.4h0M60 189.7h0M172.2 187.2h0M157.5 184.6h0M250.7 183.5h0M134.7 178.9h0M281.4 184.9h0M82.5 183.9h0M168.5 183.4h0M180.5 180.6h0M58.1 182.4h0M84.8 184.1h0M228.5 184.7h0M273.5 184.8h0M157.5 184.2h0M159.3 182.5h0M184.5 181.4h0M47 182.8h0M57.3 187.2h0M218.5 183.6h0M194.6 185.3h0M143.3 188.4h0M113.3 184.8h0M219.6 184h0M112.8 185.3h0M56.3 183.2h0M69.5 185.2h0M283.8 185.1h0M228.8 186.3h0M243.3 182.9h0M116.4 183.4h0M104.8 185.7h0M288.6 186.5h0M216.5 182.9h0M221 180.8h0M153 180.1h0M122.1 185h0M201.9 183.8h0M127.2 183.6h0M50.3 190h0M127.7 178.7h0M299.3 186.2h0M255.5 186.6h0M138.6 180.5h0M118.9 180.4h0M260.7 183.3h0M318.8 183.5h0M302.6 186h0M323.8 187h0M317.6 183.7h0M82.1 183.2h0M158.1 181.1h0M165.2 186.7h0M282.7 183.9h0M269.5 184.4h0M74.1 181.7h0M145.4 186.6h0M132.8 183h0M144.9 181h0M143.2 185.3h0M173.7 184h0M150.9 186.7h0M93.2 184.5h0M300.9 182h0M194.6 178h0M103.8 185.8h0M203.6 183.5h0M123.2 184.6h0M316 184.7h0M281 181.1h0M167.5 184.1h0M60.1 187.4h0M119.1 186.4h0M290.8 184.6h0M169.4 184.4h0M306 183.8h0M91.9 180.2h0M106.3 188.9h0M160.5 180.8h0M150.7 185.2h0M121.6 190.7h0M312.9 182.7h0M99.4 178.2h0M202.2 186.1h0M235.9 185.3h0M218.5 185.5h0M247.3 186.3h0M311.6 184h0M252 184.8h0M104.3 182.7h0M195 189.4h0M323.4 182.7h0M170.8 185.9h0M216.4 186h0M261 184.9h0M299.6 184.8h0M307.4 185.7h0M204.7 183.4h0M272.7 185.6h0M248.3 187.4h0M284.8 183.8h0M187.9 183.8h0M133.8 182h0M112.3 185.9h0M215.9 182.4h0M296.2 185.3h0M59.7 186.3h0M210.1 183.9h0M156.7 183h0M57.5 186.7h0M270.8 186.6h0M61.5 186.3h0M155.6 184.4h0M146.3 184.8h0M233.5 183.2h0M107 183.1h0M241.9 187h0M221.3 188.9h0M242.9 186.9h0M147.9 185.7h0M101.9 187.2h0M50.6 188.6h0M115 181.7h0M318.4 183.9h0M320.9 180.8h0M48.3 182h0M48.6 188.9h0M142.6 181.2h0M118.4 183.9h0M76 186.2h0M232.6 185h0M99.9 183.4h0M317.4 187.1h0M312.8 186.4h0M317.5 183.6h0M248 185.9h0M200.3 188.6h0M52.6 185h0M320.5 180.9h0M71.8 181.7h0M97 186h0M129.6 182.3h0M114.8 180.4h0M171.9 184.9h0M133.2 180.3h0M190.7 182.5h0M240.2 189.7h0M60.6 191.7h0M314 186.5h0M196 187.7h0M44.6 186.7h0M323.8 182.5h0M295.3 185.9h0M109.8 187.6h0M69.5 184.7h0M101.7 181.4h0M183.3 183.8h0M217.5 182.3h0M90.2 187.6h0M294.6 185h0M247.9 181.9h0M70.7 186.1h0M193.8 182.3h0M45.1 189.3h0M59.5 191.5h0M190.5 182.2h0M193 179.1h0M286.3 187.6h0M108.7 184.1h0M230.8 183.8h0M80.6 182.3h0M149.5 181.9h0M249.5 185.2h0M273.9 187h0M66.1 186.7h0M44.9 186h0M55.9 189h0M47.6 183.3h0M286.4 180.2h0M217.2 185.4h0M225.1 179.3h0M257.8 187h0M126.6 186.7h0M182.4 184.4h0M83.2 187.6h0M77.3 184.1h0M304.4 184.6h0M122.9 182.9h0M227.5 186.3h0M113.1 182.5h0M315.8 183.5h0M175.2 181.7h0M71.2 182.8h0M188.4 190.4h0M72.8 183.7h0M188.7 187.2h0M82.6 184.6h0M308.5 182.5h0M242.6 186h0M75.1 185.9h0M96.2 182.6h0M51.2 182.6h0M255 183.6h0M150.8 184.2h0M119.6 186.8h0M275.4 181.7h0M225.5 182.7h0M70.8 184.7h0M110.2 183h0M75.8 183.2h0M201.9 185.8h0M135.6 182.3h0M80.5 181.7h0M74.1 184.8h0M147.5 182.8h0M47.2 182.9h0M46 181.4h0M49.8 181.6h0M48.2 181.3h0" stroke="#0a24fa" stroke-width="1.4" stroke-linecap="square" fill="none"/>
<polyline points="43,184 44,183.8 45,183.6 46,184 47,184.9 48,184.5 49,184.9 50,185 51,185.6 52,185.5 53,185.6 54,186 55,185 56,184.9 57,185.5 58,185.3 59,185 60,184.9 61,185.5 62,185.8 63,185.8 64,185.3 65,185.3 66,184.2 67,184.4 68,184.7 69,184.4 70,184.7 71,184.6 72,184.2 73,184 74,184.1 75,183.2 76,184.3 77,183.5 78,183.5 79,183.8 80,183.8 81,183.4 82,184.1 83,184.8 84,184.3 85,184.6 86,183.8 87,183.7 88,183.6 89,183.2 90,184.3 91,184.5 92,183.5 93,183.2 94,182.7 95,183 96,183.6 97,183.1 98,183.6 99,183 100,182.9 101,182.9 102,183.6 103,183.5 104,182.8 105,183.7 106,183.8 107,183.5 108,182.9 109,182.9 110,182.9 111,182.8 112,183.4 113,184.7 114,186 115,186.2 116,185.5 117,184.2 118,183.3 119,182.8 120,181.2 121,179.8 122,180.9 123,182 124,182.5 125,182.7 126,182.9 127,183 128,183.3 129,183.9 130,183.1 131,183.7 132,183.5 133,183.3 134,184.1 135,183.1 136,183.1 137,183.9 138,183.7 139,182.9 140,183.7 141,184 142,184.5 143,185.1 144,184.4 145,184.6 146,184.2 147,184.1 148,184.2 149,184.2 150,183.2 151,183.6 152,184.3 153,183.6 154,184.5 155,185.3 156,185 157,185.2 158,184.5 159,184.8 160,184.7 161,184.5 162,184.5 163,184.7 164,185.2 165,185 166,185.6 167,185.1 168,185.1 169,185.7 170,185.3 171,185.2 172,184.9 173,185.2 174,185.8 175,185.6 176,185.3 177,185.4 178,186 179,186.2 180,185.8 181,186.3 182,185.6 183,185.4 184,184.9 185,185.6 186,185.3 187,185.6 188,185.8 189,185.5 190,185.2 191,185.5 192,185.9 193,185.7 194,185 195,185.2 196,185.7 197,185.6 198,185.9 199,185.4 200,185.9 201,185.4 202,185.5 203,185.3 204,185.7 205,185.1 206,185.7 207,185.6 208,185.1 209,185.2 210,184.7 211,184.6 212,185 213,184.7 214,184.1 215,184.1 216,184.2 217,184.8 218,184.4 219,184.8 220,184.8 221,184.1 222,184.2 223,184.8 224,184.7 225,184.8 226,184.9 227,185.5 228,184.9 229,184.6 230,184.3 231,184.3 232,184.9 233,184.9 234,184.9 235,184 236,185.1 237,184.9 238,184.9 239,184.7 240,185 241,184.5 242,184 243,184.6 244,184.9 245,184.3 246,184.8 247,184.2 248,183.9 249,184.4 250,184.7 251,183.4 252,184 253,184.5 254,184.2 255,184.7 256,184.7 257,184.3 258,184.7 259,184.8 260,184.3 261,184.5 262,184.1 263,184.1 264,183.5 265,183.7 266,184.1 267,184.3 268,184.8 269,185.2 270,185 271,184.8 272,184.1 273,184 274,183.6 275,184.2 276,184.7 277,184.7 278,184.5 279,183.8 280,183.9 281,184.2 282,184.2 283,184 284,184 285,184.1 286,183.9 287,184.2 288,183.9 289,184.3 290,183.7 291,183.6 292,183.5 293,183.7 294,184.3 295,184 296,184 297,184.3 298,184.1 299,184.3 300,183.9 301,184 302,184.5 303,184.4 304,183.3 305,183.5 306,183.4 307,183.9 308,184.4 309,183.7 310,184.4 311,184 312,184.3 313,184.4 314,184 315,184 316,183.8 317,184.2 318,183.9 319,184 320,183.7 321,183.8 322,183.9 323,183.7 324,183.5" stroke="#000" stroke-width="1.6" fill="none" stroke-linejoin="round"/>
<path d="M401.5 182.7V187.1M402.5 182.9V187.7M403.5 182.1V188.1M404.5 181.7V187.6M405.5 182.2V187.8M406.5 182.6V188.3M407.5 182.2V188.3M408.5 182V189.1M409.5 183.1V188.7M410.5 183V188.8M411.5 183V188.9M412.5 182.7V189.3M413.5 183.2V189.8M414.5 182V188.8M415.5 182.5V188.9M416.5 182.1V189.8M417.5 183.1V187.7M418.5 181.5V188M419.5 182.9V187.8M420.5 182.4V187.3M421.5 182V186.9M422.5 182.6V186.3M423.5 182.3V187.3M424.5 181.4V187.5M425.5 181.4V187.8M426.5 182.3V187M427.5 182V187.9M428.5 181.7V186.7M429.5 182.1V187.8M430.5 181.3V187.6M431.5 181.6V187.5M432.5 181.7V188M433.5 181.8V188M434.5 182.4V186.7M435.5 182.4V187.7M436.5 181.1V187.5M437.5 181.2V186.7M438.5 180.8V187.2M439.5 182V186.8M440.5 181.4V188.2M441.5 180.9V188M442.5 181.2V188.2M443.5 180.9V188.6M444.5 180.6V187.5M445.5 180.1V187.6M446.5 179.9V188.8M447.5 179.8V188.7M448.5 180.7V188.2M449.5 179.4V187.9M450.5 180.8V188.3M451.5 180.6V187.8M452.5 179.4V188.2M453.5 179.9V188M454.5 180.3V188.6M455.5 180.2V188.2M456.5 180V188.2M457.5 180.2V188.4M458.5 180.3V189.4M459.5 179.8V188.8M460.5 179.5V189.2M461.5 180.2V188.8M462.5 180.2V188.1M463.5 180.7V188M464.5 179.6V188.7M465.5 180.8V189.1M466.5 180.7V188.6M467.5 180.2V189M468.5 179.7V188.2M469.5 179.8V188.2M470.5 179.3V188.5M471.5 180.7V189.5M472.5 180.5V189.6M473.5 180.1V190.4M474.5 179.8V189.5M475.5 179.7V189.2M476.5 179.2V189.4M477.5 180.2V189.3M478.5 179.9V189.4M479.5 180.3V189.2M480.5 179.7V190M481.5 180.1V190.2M482.5 178.9V189.5M483.5 179.2V190.1M484.5 179.2V189.9M485.5 179.6V189.8M486.5 180V189.9M487.5 180.1V189.1M488.5 179.7V189.9M489.5 179.9V189.1M490.5 179.9V189.6M491.5 179.2V189M492.5 179.2V189.8M493.5 178.8V189.7M494.5 178.6V188.6M495.5 179.5V189.3M496.5 179.2V188.3M497.5 180.3V188.6M498.5 180.8V187.6M499.5 181.6V187.7M500.5 182.7V187.1M501.5 181.7V186.8M502.5 182V187.1M503.5 181.8V187.1M504.5 182.1V187M505.5 182.8V186.8M506.5 181.7V186.1M507.5 181.3V187.2M508.5 182.7V187.2M509.5 181.6V186.2M510.5 182V186.2M511.5 181.4V187.1M512.5 181.5V186.9M513.5 182.7V186.9M514.5 181.9V186.9M515.5 182.8V186.4M516.5 182.4V186.5M517.5 182.3V186.2M518.5 181.4V186.4M519.5 182.4V186.5M520.5 182.5V186.6M521.5 182.7V187.5M522.5 182.5V186.4M523.5 181.4V186.8M524.5 181.7V186.1M525.5 182.5V187.4M526.5 182.7V187.6M527.5 182.2V186.9M528.5 182.9V186.7M529.5 182.5V186.6M530.5 182.8V187.1M531.5 182.9V187.5M532.5 182.3V186.9M533.5 181.6V186.4M534.5 181.4V187.1M535.5 181.6V186.1M536.5 182.2V187.2M537.5 181.4V186.5M538.5 182.7V187.2M539.5 182.6V186.5M540.5 181.4V187.2M541.5 182.1V187.1M542.5 181V187.4M543.5 182V187.3M544.5 181.3V187M545.5 180.8V187.3M546.5 180V188.7M547.5 180.1V187.5M548.5 180.4V187.8M549.5 180.7V187.9M550.5 180.2V187.9M551.5 179.9V188.5M552.5 181V188.1M553.5 181.8V187.1M554.5 181.8V187.3M555.5 182.1V188.2M556.5 181.5V187.9M557.5 181.4V186.7M558.5 181.5V187.6M559.5 181.7V187.3M560.5 181V187.5M561.5 182V187.5M562.5 181.2V187.7M563.5 182.1V187M564.5 181.4V187.2M565.5 181.8V188M566.5 182.1V186.5M567.5 181.4V187.4M568.5 182.4V187.5M569.5 182.3V186.7M570.5 181.4V186.9M571.5 181.1V187.6M572.5 182V187.5M573.5 182.1V187.5M574.5 181.1V187.2M575.5 181.9V186.7M576.5 181.4V187.7M577.5 181.2V186.4M578.5 182.5V187.8M579.5 181.7V186.9M580.5 182.4V187.3M581.5 181.8V186.9M582.5 182.1V187M583.5 181.5V187.9M584.5 182V186.8M585.5 182.3V186.6M586.5 181.5V187M587.5 181.2V186.9M588.5 181.3V187.4M589.5 182.1V187.6M590.5 181.4V186.4M591.5 182.2V187.2M592.5 181.7V186.3M593.5 182V187.7M594.5 182.4V186.3M595.5 182.3V187.4M596.5 181.7V186.3M597.5 182.5V186.2M598.5 182.2V186.2M599.5 182.7V186.6M600.5 182.2V187.2M601.5 182.2V187.2M602.5 181.5V186.2M603.5 182.4V186.2M604.5 181.5V186.9M605.5 182.5V186.2M606.5 181.8V186.1M607.5 182.5V186.3M608.5 182V186.6M609.5 181.3V187.6M610.5 181.5V186.1M611.5 182.2V186.1M612.5 181.7V186.6M613.5 181.8V187.5M614.5 182.6V187.1M615.5 182.1V187.1M616.5 182.7V186.6M617.5 181.8V187.2M618.5 181.8V186.6M619.5 182.3V187M620.5 181.4V186.6M621.5 181.5V186.8M622.5 182.6V187M623.5 182.1V186.1M624.5 181.7V187.5M625.5 182.2V187.4M626.5 181.5V186.1M627.5 181.2V186.5M628.5 181.7V186.7M629.5 181.6V187.4M630.5 182.1V187.1M631.5 181.2V187.6M632.5 181.9V186.6M633.5 182.2V187.5M634.5 181.5V186.9M635.5 182.1V186.5M636.5 181.3V186.3M637.5 181.4V187.6M638.5 182.2V186.6M639.5 182.6V186.5M640.5 182.3V186.9M641.5 181.2V187.4M642.5 181.1V187.4M643.5 181.6V187M644.5 181V186.5M645.5 182.4V187.4M646.5 182.2V187M647.5 181.9V186.1M648.5 181.9V187.3M649.5 182.4V186.1M650.5 182V186.1M651.5 181.2V187.1M652.5 181.5V186.7M653.5 182.5V187.3M654.5 182.3V187.2M655.5 182.3V186.6M656.5 181.7V186.4M657.5 182.5V187.1M658.5 180.9V186.4M659.5 182V186M660.5 182.2V186M661.5 182.1V186.4M662.5 181.8V186.2M663.5 181.5V186.8M664.5 181.6V187.2M665.5 181.6V186.9M666.5 182V186.9M667.5 182.2V185.9M668.5 180.9V187.2M669.5 181.8V186.7M670.5 182.2V187.3M671.5 181.2V186.8M672.5 181.4V186.5M673.5 181.2V186.7M674.5 181.6V186.8M675.5 181.8V187.1M676.5 181V186.1M677.5 181.1V187.5M678.5 182V187M679.5 182V186.1M680.5 182.4V187.1" stroke="#0a24fa" stroke-width="1.05" fill="none"/>
<path d="M411.7 189.2h0M414 188.7h0M415.7 189.9h0M411.2 189.7h0M414.5 188.4h0M416.5 189.1h0M415 188.9h0M415.3 189.6h0M413.3 189.5h0M412.8 189.3h0M413.8 189.4h0M415.4 190.8h0M416.3 188.2h0M411.2 190h0M412.7 187.7h0M416 188.1h0M487.5 182.8h0M623.1 182.6h0M544.1 183.9h0M499.4 187.3h0M462.5 184.1h0M423.4 183.9h0M651.3 184.5h0M616.8 182.3h0M567.8 184.6h0M437.2 186.2h0M492.4 179.6h0M468.2 186.8h0M504.9 184.4h0M561.5 185.5h0M561.6 187.7h0M499.8 183.3h0M610.8 182.8h0M639.9 183.2h0M581.6 184.5h0M606.8 185.2h0M420.2 182.4h0M457.9 185.2h0M658.3 183h0M676.8 184h0M406.9 183.9h0M403.7 187.3h0M491.5 188h0M433.5 183.8h0M479.7 186.3h0M512.1 184.2h0M521.7 186.8h0M657.2 181.2h0M424.1 183.7h0M528.7 181.7h0M653 184.2h0M448 181.2h0M599.3 182.2h0M660.4 182.3h0M658.8 185.1h0M591.6 182.2h0M671.1 184.2h0M484.1 177.3h0M522.2 185.4h0M618.5 182.1h0M460.6 191h0M438.3 182.3h0M488.1 185h0M406.8 186.2h0M562.1 184.3h0M435.5 188h0M672.6 183.5h0M677.4 184.8h0M669.6 182.6h0M552 186.4h0M533.4 187.4h0M501.1 184.5h0M487.3 189.9h0M501 184.8h0M643 182.9h0M484.4 189.6h0M403.2 185.3h0M494.2 182.3h0M441.9 185.6h0M583.8 182.2h0M482.8 183.7h0M416.8 184.2h0M612.7 183.9h0M550.6 184.9h0M618.4 184.5h0M449.5 186.1h0M676 183.1h0M587.8 184h0M499.2 189h0M458.7 186.2h0M476 183.7h0M597.7 185.4h0M614.8 183.3h0M437.4 184h0M451.4 185.3h0M621.4 183h0M661.2 183.8h0M611 185.4h0M670.8 184h0M576.2 186.5h0M567.3 185.7h0M435.1 185.1h0M443.6 182.3h0M654.7 181.8h0M593.3 184.4h0M576.5 184.3h0M618.1 185.4h0M607 183.8h0M476.5 183.2h0M598 186.9h0M589.4 186.1h0M462.4 182h0M510.3 185.2h0M628.8 185.8h0M630.7 186.3h0M590.8 185.2h0M597.6 183.3h0M550.5 184.2h0M651.3 185.2h0M670.2 182.2h0M514 184.4h0M604.4 184.4h0M675.5 182.3h0M558.5 184h0M657.2 185.6h0M539.7 184.7h0M475.8 189.3h0M629.8 184.7h0M665.2 183.5h0M621.7 185.5h0M556 187.9h0M527.3 182.9h0M551.1 183.7h0M549.8 183.9h0M439.9 185.8h0M581.5 187h0M434.7 182.4h0M418 185.6h0M504 187.7h0M577.2 183.5h0M656.4 185.9h0M536 183.2h0M506.3 187.3h0M552 185.7h0M567.9 186h0M602.1 183.6h0M589.8 186.7h0M618.4 184.7h0M565.4 182.9h0M421.1 184.6h0M588.1 183h0M674.2 186.3h0M674.7 184.7h0M488.5 180.6h0M516.7 187.6h0M666.9 184.9h0M462.4 184.8h0M537.7 182.4h0M482.9 182h0M574.7 182.7h0M536.8 183.4h0M559.1 182.2h0M596.6 187.4h0M436.6 186.6h0M495.2 184.7h0M504.2 183.4h0M420.7 183.4h0M569 184.9h0M470.2 187.4h0M417 186.6h0M588.9 183.5h0M596.5 183.3h0M619.5 183h0M450.1 179.2h0M495.5 179.5h0M570 184.2h0M512.3 184.2h0M457.8 187.4h0M512.5 183.3h0M449 186.6h0M617.9 185.9h0M504.2 184.6h0M595.8 187.2h0M561.3 185.6h0M624.6 186.9h0M670.3 185.4h0M562.9 182.1h0M458.7 189h0M529 183h0M553.5 185.9h0M406.1 182.9h0M593.9 182h0M547 184.1h0M517.3 185.5h0M596.1 183.2h0M574.8 184.1h0M510.1 182.2h0M531.2 184.8h0M593.1 186.4h0M461.8 183.1h0M598.6 182.8h0M546.9 181.1h0M481.2 184.3h0M647.7 180.9h0M464.4 187.1h0M432.1 182.4h0M558.9 183.5h0M628.4 184.7h0M415.6 191.4h0M509 185.3h0M528.7 182.7h0M669.9 184.3h0M405.9 188.8h0M678.1 183.5h0M443.7 187.7h0M600.7 181.6h0M649.9 185.5h0M608.6 183.2h0M578.4 183.7h0M597.9 185.7h0M592.4 185.9h0M638 183.5h0M543.5 185.1h0M599.4 182.8h0M574.2 185.8h0M462.8 185.8h0M558.2 185.6h0M585.3 183.2h0M679 184.2h0M528.2 185.2h0M655 184.2h0M646.9 183.1h0M573.9 183.3h0M555.3 185.8h0M647 182.8h0M476.4 184.5h0M498.6 188.1h0M646 184.5h0M622.5 181.6h0M500.3 185.8h0M544.5 182.9h0M673.4 183.3h0M661 183h0M461.8 184.7h0M482.1 192h0M465.6 190.7h0M555.3 183.5h0M676.7 182h0M596.3 185.2h0M627 184.6h0M590.5 184h0M514.3 184.7h0M470.1 184.5h0M484 180.8h0M573 186.9h0M635.7 186.2h0M588.4 184.6h0M431.3 183h0M639.2 184.2h0M636.1 183.8h0M557 187.8h0M507.4 185.5h0M530.8 182h0M481 181h0M457.4 181.9h0M589.3 183.7h0M430.2 185.1h0M583.9 182.6h0M409.6 186.2h0M485.7 191.1h0M427.1 185.5h0M503.9 183.8h0M650.4 185.3h0M429.3 184h0M601.5 183h0M600 185.5h0M650.5 184h0M521.1 185.9h0M519.7 184.3h0M410.4 182.4h0M603.9 184.8h0M465.9 185h0M646.1 186.5h0M439.7 183.6h0M606.8 184.5h0M422.7 185.4h0M661.3 182.9h0M436.8 185h0M625.6 187.1h0M410.1 186.5h0M655.1 185.9h0M498.8 180.2h0M449 183.8h0M600 184.2h0M620.2 186.7h0M581.5 185.9h0M629.4 186.2h0M417.3 187.4h0M634.6 186.1h0M580 188.5h0M598.2 185h0M645.7 185.9h0M538.5 185.7h0M587.5 182.7h0M559.4 179.8h0M504.6 183h0M648.3 182.8h0M632.5 183.4h0M482.5 181.4h0M567.4 184.6h0M546.3 184.4h0M405.1 184.8h0M590.2 184.3h0M542.5 186.2h0M595 184.6h0M675.5 184.4h0M464.7 186.7h0M419.5 182.7h0M597.7 184.2h0M495.8 181.2h0M606.4 184.5h0M407.8 182.7h0M430.9 186.8h0M481.6 187.2h0M448.1 188h0M673.2 182.5h0M516.3 184.7h0M558.1 181.3h0M472.4 186.4h0M519.2 185.4h0M401.5 183.1h0M622.9 186.3h0M408.7 185.5h0M448.5 187.7h0M440.4 185h0M662.6 183.7h0M499.1 182h0M557.9 184.7h0M549.3 182.4h0M519.9 187.5h0M404.3 185.9h0M494.4 184.8h0M576.1 181.2h0M479.3 183.2h0M676.4 183.2h0M418.6 187.2h0M656 187.2h0M525.7 186h0M437.3 184.4h0M637.3 186.7h0M577.6 185.1h0M436.3 185.4h0M543.1 184.7h0M541.3 183.9h0M454.4 184h0M529.8 183.8h0M452.2 186.6h0M634.9 182.6h0M402.9 187h0M562.2 186.2h0M577.4 182.3h0M428.1 184.1h0M537 184.3h0M538.6 183.5h0M640.8 183.5h0M474.1 184.3h0M489.6 185.9h0M401.9 186.1h0M585.5 184.1h0M544.2 181h0M667.7 183.2h0M679.7 184.6h0M450.7 188.3h0M559.9 187.5h0M661.9 184h0M575.2 183.3h0M637.2 182.8h0M671.9 183.2h0M642.6 186.5h0M432.5 187.2h0M435 183.8h0M610.8 184.8h0M482.5 188.7h0M464.7 183.6h0M648.5 184.1h0M474.8 184.8h0M457.2 184.9h0M639.2 184.9h0M632.2 183.2h0M631.8 183.4h0M579.8 185.9h0M480.7 184h0M530.3 188.3h0M428.8 185.6h0M526.8 183.1h0M665.5 183.1h0M431.6 186.8h0M667.3 185.7h0M667.4 185.8h0M655.2 185.2h0M554.3 182.9h0M600.5 183.2h0M594.8 186.3h0M651.7 182.9h0M636.2 184.8h0M664.4 183.6h0M586.8 187.8h0M579.1 186.1h0M477.3 189.5h0M403.1 184.5h0M591.3 186.2h0M559.8 183.5h0M651.8 187.2h0M420.6 182.5h0M612.8 181.3h0M630.9 186.6h0M487.8 187.8h0M565.8 180.4h0M622 185.1h0M559.1 185.4h0M570.6 188.6h0M671 183h0M445.1 183.5h0M500.4 186.6h0M549.9 185.1h0M624.5 186h0M526.3 186.3h0M408.1 189.1h0M591.2 185.3h0M570.3 182.9h0M668 185.2h0M565.1 187.6h0M494 180.3h0M483.6 185.1h0M559.7 186h0M427.5 183.4h0M482.7 178.7h0M577.1 182.5h0M574.1 182.2h0M570.4 189h0M461.9 187.3h0M502.2 182.7h0M603.6 183.4h0M534 184.2h0M638 184.8h0M586.2 183.6h0M676.1 183.7h0M493.4 190.5h0M664.2 181.9h0M578.2 184.3h0M601.3 185.3h0M611.1 185.6h0M617.3 185.1h0M664.7 183.6h0M669.5 184.1h0M536.3 184.4h0M561 184.6h0M463.6 180.7h0M570.5 184.7h0M669.9 184.5h0M675 184.5h0M644.5 184.7h0M420.6 185.6h0M476.6 187.4h0M517.5 183.9h0M440.4 182.5h0M606.5 183h0M599.7 185.4h0M571.4 184h0M494 181.3h0M419.6 184.3h0M525.1 184.6h0M503.4 183.6h0M416.1 181.8h0M620 184.8h0M520.8 187.6h0M674.6 185.8h0M418.9 185.5h0M403.7 185.4h0M667.8 183.4h0M499.9 183.8h0M644.2 180.9h0M403 184.6h0M449.3 187h0M670.1 182.7h0M526.7 182.4h0M548 180.1h0M491.4 182.3h0M497.8 181.9h0M563 182.1h0M514.8 186.2h0M520.9 185.9h0M442.2 183.5h0M482 180h0M600 182.3h0M582.9 182.7h0M512.8 183.8h0M559.2 184.9h0M676.2 181.9h0M493.1 184.7h0M546.8 182.8h0M511.2 184.2h0M565.2 180.1h0M535.3 187.6h0M602.2 185.3h0M612 183h0M586.3 183.1h0M580.5 184.3h0M650.9 185.1h0M462.8 188.4h0M437.6 182.9h0M471.5 182h0M463 184.6h0M499.9 186.9h0M441.1 185.2h0M617.5 183.3h0M602.9 182.8h0M458 187.4h0M531.3 184.3h0M409.7 189.1h0M653.5 185h0M639.8 184.2h0M628.6 183.9h0M553.4 188.5h0M530.5 184.4h0M434 186.5h0M546.3 183.3h0M414.5 185.5h0M454 180.3h0M496.2 187.1h0M628.6 187.5h0M560.3 188.7h0M422.6 183.1h0M596.4 182.9h0M417.7 187.3h0M448.8 190.2h0M570.8 185.8h0M627.9 184.7h0M588.8 182.3h0M635.5 184.4h0M415.8 188.2h0M680.2 183.2h0M604.1 181.9h0M419.6 182.8h0M655.4 183.5h0M533.7 184.7h0M542.7 184.5h0M493.8 184.3h0M431.2 182.2h0M426.1 182.7h0M457.3 181.9h0M470.9 187.2h0M506.3 183.9h0M610.2 185h0M563.6 181.2h0M482.4 178.7h0M512.8 183.5h0M564.8 184h0M662.4 180.7h0M565.9 181.1h0M456.1 187.9h0M527.3 184.8h0M590.7 183.7h0M629 182.7h0M550.6 180.2h0M425.2 183.9h0M592.6 183.4h0M531.1 184.1h0M654.7 184h0M433.5 186.8h0M439.5 185.5h0M625.6 184.6h0M632.3 184.8h0M445.4 186.9h0M621 184.4h0M563.3 185h0M551.5 184.9h0M617.5 183.8h0M562.6 184.8h0M427.2 181.8h0M437.7 186.5h0M627.7 185.1h0M477.9 185.4h0M462.9 190h0M403.3 188.2h0M642.9 184.5h0M531.9 184.4h0M587.3 185.8h0M400.9 187h0M527.3 187.9h0M638.4 184.3h0M411.8 184.2h0M519.2 181.9h0M518.2 187.5h0M574.8 185.5h0M654.6 186.6h0M576.8 182.3h0M581.7 185.4h0M514.9 184.1h0M545.9 189.6h0M455.1 190.1h0M429.4 185.9h0M472.7 190.2h0M673.2 184.3h0M408.9 186.9h0M519.7 184.3h0M439.1 184.4h0M453.8 178.9h0M498.1 182.6h0M523.1 183.5h0M615.9 187.6h0M419.7 184.1h0M658.8 182.6h0M469.9 182h0M557.6 182.1h0M558.7 184.8h0M518.4 185.2h0M489.8 183.3h0M473.1 185.3h0M528 185.7h0M494.3 185h0M663.8 182h0M601.3 183h0M466 180.5h0M530.2 183.1h0M558.8 183.7h0M599.6 182.5h0M602.6 183.4h0M438.1 185.5h0M615.9 185.6h0M545 183.9h0M543.5 182h0M561.7 184.5h0M645.3 184.7h0M542.3 181.8h0M658.3 184.2h0M507.5 186.6h0M635 184.1h0M534 184.3h0M513 186.6h0M576.3 184.2h0M473.8 184.1h0M532.4 184.1h0M585.2 184.7h0M429.8 182.7h0M529 187.4h0M479.9 184.2h0M415.9 185.8h0M646.9 182.4h0M642.5 181.7h0M593.6 181.6h0M622.4 183.5h0M562.6 184h0M510.2 184.4h0M416 186.8h0M434 183.1h0M556.5 184.7h0M611.8 187.2h0M439.2 186.4h0M663.8 183.1h0M547.4 182.8h0M429.7 187.2h0M487.8 179.6h0M488.1 179.3h0M660.4 183.2h0M438.8 183.6h0M482.4 179h0M458.7 181.7h0M631.3 186h0M675.8 184.9h0M680.2 184.1h0M446 183.6h0M487 183.8h0M446.5 189.2h0M637.2 186h0M664.3 182.5h0M571.6 187.9h0M675.6 184.8h0M435 186.6h0M594 186.2h0M450.7 189.5h0M614.9 183.9h0M508 182.5h0M567.1 185.5h0M449.8 185.6h0M460 190.3h0M599.2 183.8h0M675.9 184.2h0M524.8 182.9h0M458 190.4h0M457.7 192.9h0M458.5 191.1h0M457.4 190.9h0M457.7 193.5h0M457.3 189h0M458.1 190.5h0M458.1 193.2h0M457.4 193.4h0M458.2 191.6h0M468.1 178.7h0M468 176.1h0M468.2 179.7h0M468.4 174.5h0M468.7 179.3h0M467.8 176.3h0M468.4 176.4h0M467.6 175.9h0M467.8 174.5h0M468.2 176.4h0M469.2 190.8h0M468.7 191.3h0M469.2 189.7h0M469.5 186.9h0M468.9 190.5h0M470 190.6h0M468.8 186.1h0M470.2 187.3h0M469.6 187.4h0M469.1 192.5h0M470 191.4h0M469.2 188h0M480.1 179.1h0M480.1 180.5h0M480.6 181.9h0M480.6 176.1h0M480.8 181.2h0M480.2 178.8h0M480.8 178.4h0M479.6 180.8h0M480.3 181.5h0M479.7 176.7h0M480.4 177.9h0M480.6 181.6h0M486.5 188.2h0M485.6 190.6h0M485.9 193h0M486.2 189.1h0M486.5 188.7h0M485.8 193h0M485.6 191.3h0M485.4 189.5h0M486 188.6h0M485.1 193.3h0M491.7 177.9h0M490.5 178h0M490.9 180.1h0M491.4 176.1h0M490.4 178.4h0M491.1 181.5h0M490.6 181h0M490.3 179.5h0M490.9 180.2h0M490.4 176.3h0M549.1 177.8h0M549.4 176.2h0M548.7 178.6h0M550.1 179.5h0M549.7 180.9h0M549.6 178.1h0M549.7 176.6h0M549.9 177.7h0M549 177h0M550.3 179.6h0M549.5 180.8h0M550.1 178.4h0M549.1 175.8h0M549.6 179.5h0M546.1 177.3h0M545.9 178h0M545.2 177.6h0M546.6 177.7h0M545.7 179.4h0M545.4 180.1h0M545.9 179.2h0M546.6 179.5h0M551.9 193.6h0M552.1 194.4h0M552.2 193.2h0M551.3 193.6h0M581.7 192.2h0M582.3 194.7h0M581.3 192.3h0M581.3 189.5h0M582 192.7h0M581.6 188h0M581.7 195.9h0M582.2 189h0M581.7 189.6h0M581.4 189.8h0M581.9 195.6h0M582.7 188.3h0M587.9 195.6h0M587.9 196.2h0M589.1 196.1h0M589 195.6h0M578.8 192.9h0M579.7 188.2h0M580.1 190.8h0M579.9 189h0M579.8 188.8h0M580.2 190h0M579.9 192.4h0M579.7 189.3h0" stroke="#0a24fa" stroke-width="1.4" stroke-linecap="square" fill="none"/>
<path d="M412.2 187.8h0M413.7 190.6h0M412.7 188.9h0M415.2 189.2h0M416.8 188.5h0M416.8 188.3h0M413.1 188.8h0M415.9 189.7h0M411.9 189.7h0M671.3 185h0M584.4 184.7h0M418.5 185.4h0M536.7 184.5h0M624 185.2h0M573.8 187h0M574.5 184.3h0M562.4 183.2h0M535.3 182.1h0M454 184.1h0M408.2 186.1h0M476.5 187.8h0M666.2 183.7h0M450.3 190h0M605.8 183.1h0M545.6 183.5h0M543.7 186.6h0M484.2 184.1h0M521.6 183.7h0M665.8 182.1h0M679.9 184h0M580.1 182h0M610.7 185h0M533.3 184.9h0M516.4 186.3h0M585.4 188.1h0M676.1 184.9h0M631.8 183.7h0M588.8 181.2h0M622.2 183.1h0M490.7 187.2h0M473.5 184.9h0M430.6 183.2h0M476.7 186.2h0M519.7 182.4h0M494.1 182.9h0M436.4 183.8h0M555.3 189.6h0M515 184.2h0M467.1 184.9h0M520.2 186.1h0M454 187.3h0M514.4 184.9h0M415.3 187.7h0M443.5 185h0M568.3 184h0M647.1 183.7h0M495.6 187.6h0M409.5 187.5h0M536 183.5h0M479.9 185.5h0M538 187.6h0M662.4 183.3h0M624.1 184.3h0M612.2 184.1h0M563.5 182.3h0M548.7 179.5h0M580.1 182.2h0M493.6 191.9h0M533.7 186.9h0M427.8 184.3h0M521.9 187.1h0M455 185.4h0M470.5 184h0M618 184.3h0M453.9 186.1h0M429.4 183.2h0M463.3 189.5h0M509.2 184h0M573.7 187.2h0M410.4 187.6h0M432 181.6h0M537.2 183.6h0M484.8 186.1h0M540.9 185.2h0M513.5 183.9h0M613.4 181h0M620.9 184.9h0M566 186h0M560.3 186.4h0M572 186.5h0M430 185.4h0M648.1 182.6h0M581.6 181h0M434.4 184.9h0M481 183.5h0M579.1 187.1h0M624.2 182.5h0M517.9 184.8h0M593.5 185.5h0M448.5 188h0M643.4 182.7h0M436 187.3h0M635.8 183.7h0M597.7 182.1h0M606.2 187.3h0M596 184.1h0M557.4 187.7h0M462.9 183h0M628.7 185.1h0M412.3 186.8h0M648.2 182.5h0M590.8 187.1h0M489.5 187.4h0M442.4 189h0M459.9 188.6h0M555.3 188h0M417.3 187h0M518.3 186.3h0M484.5 187.6h0M419 182.9h0M519.2 182.3h0M613 184.3h0M541.2 183.5h0M560.9 182.8h0M649.5 183.8h0M520.4 184.8h0M504.8 181.3h0M527 186.8h0M559.2 181.2h0M545.7 185.7h0M584.4 185.6h0M634.6 186.5h0M609.7 182.7h0M451.8 187.8h0M670.8 184.2h0M566.1 183.1h0M521.9 184.8h0M667.1 182.7h0M674.3 184.3h0M525 185.3h0M568 186.1h0M640.6 183.6h0M516.8 187.6h0M560 184.7h0M648.6 186.5h0M516.5 184.2h0M421.5 187.5h0M644.5 182.7h0M477.6 190.3h0M579 184.5h0M680.4 185.5h0M560.5 185h0M420.2 183.6h0M529.5 184.6h0M427.1 186.3h0M599 182.9h0M558 186.5h0M580.6 184.9h0M640.7 184.5h0M473.6 188.2h0M416.4 185.8h0M621.9 184.9h0M470.2 182.7h0M404.7 187.4h0M676.3 186h0M625.2 186.2h0M622.5 183.6h0M613.6 182.9h0M436.2 183.3h0M618.6 182.9h0M416.9 185.4h0M447.2 182.5h0M542.1 183.6h0M570 185.5h0M675.4 186.6h0M625.8 185.8h0M412.7 186.8h0M646.2 183.1h0M402.4 184.2h0M674.1 184.6h0M558.5 184h0M637.9 181.4h0M661.2 185.6h0M477.1 185.3h0M540.3 185.3h0M434.6 185.8h0M445.7 184h0M404.1 184.7h0M412.1 187.1h0M666.5 186.1h0M506.2 184h0M610.6 186.2h0M582.5 183h0M443 185.6h0M564.9 187h0M600.5 184.4h0M547.1 184h0M546.6 180.4h0M598 183.7h0M530 184.1h0M615.5 184.7h0M420.2 184.2h0M410.8 189.7h0M516.7 185.6h0M484.8 184.6h0M417.2 182.8h0M503.4 183.5h0M443.4 181.5h0M596.3 185.5h0M616.4 186.1h0M585.2 182h0M609.8 183.5h0M556.8 183.6h0M452.5 182.7h0M446.5 179h0M574.3 185.6h0M409.9 182h0M657.6 185.4h0M678.2 185.8h0M472.9 184.9h0M531.1 184.7h0M492.7 181.7h0M576.5 184.9h0M410.3 184.5h0M414 183.4h0M642.3 185.5h0M616 183.1h0M634 181h0M530.9 186.8h0M585.5 184h0M415.6 187.4h0M544.2 184.5h0M634.8 184.9h0M599.8 186.7h0M458.4 182.4h0M627.1 185.7h0M424.4 186.6h0M425.7 186.2h0M675.3 182.5h0M639.2 183.7h0M650.6 184.9h0M528.2 183.5h0M674.4 186.3h0M639.6 183.4h0M661.6 184.7h0M520.1 185.4h0M447.2 184.1h0M520.5 185.9h0M474 180.5h0M648.7 183.4h0M603.5 185.9h0M488 183.8h0M509.7 185.5h0M498.2 182.9h0M445.2 182.8h0M515.2 185h0M405.8 187.6h0M432.6 184.9h0M578.7 186.7h0M525 185.8h0M472.6 179.4h0M577.9 184.3h0M443.4 186h0M539.1 187.8h0M610.3 187.5h0M587.8 187.3h0M607.9 183.9h0M413.2 187.1h0M619.1 183.9h0M618.5 185.7h0M449.3 184.6h0M423.4 185.2h0M475 185.2h0M595 186.9h0M625.2 185.5h0M654.2 182.4h0M602.5 182.4h0M454.3 187.7h0M609.8 186.4h0M660.7 182.7h0M508.2 183.4h0M484.6 192.3h0M629.6 185.7h0M641.8 187h0M588.6 186.6h0M412 184.6h0M618.7 181.5h0M472.3 179.5h0M512.6 185h0M680.8 184.3h0M410.7 183h0M613.9 182.7h0M505.6 183h0M615.9 184.8h0M559 183.3h0M654.6 183.3h0M633.8 184.9h0M641.9 182.7h0M675.7 184.2h0M605.7 182.8h0M443.8 180.8h0M459.9 186.7h0M642.4 182.2h0M463.9 181.9h0M487.9 185.8h0M489.7 179.1h0M477.7 183.1h0M429.2 183.7h0M614.1 185h0M438.8 185.1h0M630.9 182.9h0M543.3 187.1h0M482.2 189h0M424.8 182.4h0M421.9 184.2h0M537.7 182.3h0M553.3 186.6h0M676.6 184.3h0M554.3 184.2h0M444.2 182.9h0M671.8 183.8h0M508.3 184.7h0M413.3 186.8h0M503 184.7h0M402.7 185.9h0M572.6 187.5h0M644.3 182.2h0M586.9 187.4h0M673.9 184.3h0M453.9 178.5h0M575.9 185.1h0M613.2 183.3h0M419.6 184.9h0M469.8 186.5h0M462.7 184.3h0M620 181.8h0" stroke="#0a24fa" stroke-width="1.4" stroke-linecap="square" fill="none"/>
<path d="M444.2 185.4h0M464.3 184.7h0M441.4 184.3h0M459.6 184.9h0M450 182.8h0M466 181h0M455.2 183.4h0M440.8 185.5h0M466.6 183.9h0M458.2 185.7h0M464 186h0M461.1 184.6h0M462.7 184.9h0M441.1 185.4h0M463.7 182.7h0M443.9 186.3h0M439.5 184.3h0M442.7 183h0M467.9 183.8h0M445.2 185.1h0M436.9 184.5h0M464.4 183.6h0M439.6 182.1h0M461.7 187.5h0M452.9 184.7h0M439.6 185h0M437.5 182h0M440.5 185.6h0M457.9 184.2h0M442.3 185.7h0M463.9 182.3h0M461.1 183.4h0M459.9 183.2h0M437.1 183.2h0M443.7 184.4h0M454.2 185.8h0M461.1 185.8h0M461.7 185.5h0M455.8 184.9h0M450.8 182.9h0M436.9 183h0M449.3 183.4h0M452.1 187.8h0M464.7 184.8h0M467.7 182.2h0M450.5 182.2h0M460.9 184.3h0M444 183.7h0M447.8 183.7h0M454.8 185.6h0M436 182.5h0M463.3 187h0M449.6 186.2h0M456.7 185.8h0M461.1 185.4h0M467.9 184.7h0M463.5 181.8h0M438.1 185.5h0M464.7 185.4h0M450.7 186.5h0M463 186.6h0M441 186h0M458.7 184.8h0M464.4 188.2h0M452.3 182.4h0M455.5 186.7h0M462.6 183.3h0M447.6 184.3h0M436.2 183.1h0M447.9 185.7h0M471.7 188.4h0M471.2 187.9h0M469.7 189.3h0M470.1 188.8h0M470.5 187h0M471.7 188.7h0M469.7 189.9h0M472.9 191.5h0M470.6 188.4h0M471.9 185.3h0M470.6 188.7h0M472.5 187.3h0M471.1 188.5h0M472.8 187h0M470.8 189.6h0M472.8 189.4h0M471.9 189.1h0M470 190.7h0M472.1 185.7h0M469.7 189.3h0M472 191.5h0M472.4 191.1h0M469.8 188.5h0M472 188h0M470.6 187.4h0M475.2 186.4h0M484.8 182.9h0M485.6 180.9h0M488.5 188.9h0M487.7 183.3h0M478.1 181h0M489.5 183.9h0M482.8 181.5h0M491.3 182.2h0M481.2 181.4h0M481.6 182.1h0M490.7 186.2h0M492 183.3h0M487.3 183.4h0M491.6 184.9h0M490.7 181.8h0M480.9 187.6h0M476.2 185.6h0M480.1 185.6h0M475 181.2h0M484.7 185.2h0M490.2 180.2h0M490.1 187.2h0M475.9 180.9h0M489.3 183.2h0M475.4 180.9h0M484.3 182.4h0M474.8 183.7h0M487.8 186h0M477.6 177.2h0M482.8 179.8h0M487.2 187h0M487.1 184.1h0M479.2 187.5h0M483.9 184.7h0M488.4 181.3h0M491.8 182.6h0M490.8 184.2h0M489.7 180.5h0M485 178.4h0M481.7 180.6h0M487.8 182.2h0M478.7 183.7h0M474.6 184.2h0M480.7 182.5h0M476.3 180.4h0M476.2 183.1h0M491.9 184.6h0M486.6 181.5h0M487.2 182.9h0M484.3 182.6h0M491 186.1h0M491.2 181.9h0M488.4 182h0M480.8 184.6h0M476.1 186h0M482 188h0M486.7 182.6h0M484.2 184.8h0M491.6 185h0M475.5 185.8h0M489.8 184.7h0M476.3 185.9h0M481.5 180h0M477.4 187.2h0M478.3 184.8h0M490.4 185h0M474.4 188.2h0M480.5 181.4h0M491.9 183.8h0M488.7 185.4h0M482.3 183h0M477.9 181.8h0M488.7 184h0M483.6 183.7h0M476.8 183.4h0M484.4 184.2h0M476.9 181.4h0M476 178.3h0M478.4 187.5h0M488.2 181.7h0M474.2 188.6h0M476.5 187.3h0M482.9 184.4h0M484 182.8h0M550.6 186.3h0M541.4 185h0M542.7 182.2h0M545.3 180.3h0M554.2 184h0M555.4 182.9h0M540.4 183.9h0M555.2 186.5h0M540.3 183.7h0M549.7 185h0M552.6 183.9h0M554.7 181.9h0M554.4 184h0M553.6 182.4h0M553.7 184.7h0M549.2 182.1h0M553.4 186.4h0M544.5 183.5h0M552 185.1h0M547.3 183.9h0M552.7 186.1h0M555.3 183.3h0M545.9 183.8h0M545.8 183.3h0M540.8 181.5h0M540.6 184.7h0M546.9 183.6h0M545 181.8h0M543.5 184.8h0M554.4 183.6h0M550.4 180.6h0M540.3 185h0M548.1 185.2h0M549.1 184.8h0M546 185.3h0M551.2 187.3h0M555.4 186.6h0M546.4 183.2h0M544.8 180.3h0M549.9 182.8h0M547 187h0M543.2 184.4h0M553.7 185.8h0M540.2 183.6h0M541.8 182.8h0M586.7 182h0M566.1 186.9h0M576.2 186.6h0M579.1 187.2h0M582.5 183.7h0M576 182.8h0M572.6 183.3h0M572.8 183.5h0M567.3 185.4h0M588.2 185.7h0M585.8 183.8h0M577.5 185.4h0M581.1 185.5h0M580.3 183.6h0M589.4 186h0M582.7 186h0M565.4 184.5h0M570.5 186.1h0M567.1 183.2h0M575.7 183.7h0M574.6 185.2h0M567.9 188.1h0M571.4 183.7h0M583.4 185.4h0M581.1 184.3h0M576.5 186.2h0M570.7 183.5h0M570.5 186h0M565.9 185.2h0M577.9 184.2h0M572.1 185.6h0M579.2 183.1h0M586.9 185.4h0M585.8 186.2h0M578.3 185.8h0M573.8 182.4h0M589.2 186.5h0M574.4 183.5h0M571.9 186.8h0M580.2 184.9h0M530.5 183h0M429.4 184h0M493.8 184.4h0M416.1 183.7h0M548.6 182.8h0M522.2 182.7h0M568.4 184.3h0M542.5 184.6h0M597.6 184.7h0M427.1 184.1h0M570.3 183.6h0M482.4 184.2h0M546.6 184.9h0M486 184.4h0M476 185.3h0M666.3 184.5h0M488 184.5h0M406.8 185.3h0M574.9 184.8h0M499.3 184.7h0M585.4 183.8h0M483.2 185.5h0M550.9 184h0M596.3 184.9h0M457.1 183.2h0M497.2 184.4h0M571.2 184h0M577.9 185.1h0M617.1 184.2h0M667.3 185.5h0M519.6 184.3h0M408.4 184.3h0M525.7 185.4h0M421.5 185.9h0M407.3 185.3h0M431.8 184.5h0M515.3 185.6h0M617.7 184.4h0M618 185.2h0M527.6 184.3h0M413.6 184.1h0M529.7 183.9h0M555.1 183.8h0M538.1 183.8h0M473.5 185h0M521.2 183.9h0M552.8 185.2h0M426.7 184.4h0M551.9 183.9h0M510.7 183.2h0M523.1 183.4h0M620 184.1h0M473.6 183.8h0M620.8 184.1h0M555.3 184.2h0M434.5 184.4h0M668.6 184.8h0M510.7 183.9h0M624.4 184.6h0M679.8 184.1h0M666.3 184.7h0M432.7 183.6h0M633.6 184.6h0M405.6 183.2h0M563.1 182.8h0M580.6 185.7h0M574.1 183.6h0M533.4 183.3h0M410.5 183.6h0M535.3 184.1h0M464.6 185.1h0M466.1 182.9h0M464.9 185.3h0M418.9 183.3h0M618.1 183.6h0M568.7 184.4h0M580.4 183.6h0M491.6 185.4h0M571 183h0M480.1 185.2h0M544.7 184.2h0M637.5 185h0M530.5 183.8h0M609.4 185.5h0M561.8 184.9h0M428.1 183.9h0M497.1 184.7h0M522.6 183.1h0M442.5 184.3h0M603.9 184.7h0" stroke="#000" stroke-width="1.3" stroke-linecap="square" fill="none"/>
<polyline points="400.5,184.2 401.5,184.4 402.5,184.1 403.5,184 404.5,184.8 405.5,184.8 406.5,185 407.5,184.9 408.5,185.6 409.5,185.1 410.5,185.3 411.5,185.7 412.5,186.1 413.5,185.8 414.5,186.5 415.5,186.6 416.5,186.1 417.5,185.6 418.5,186.1 419.5,185.1 420.5,185.4 421.5,185.4 422.5,185.3 423.5,185.4 424.5,185.6 425.5,185.7 426.5,185.7 427.5,185.2 428.5,185.2 429.5,185.5 430.5,185.5 431.5,185 432.5,184.3 433.5,184.7 434.5,184.2 435.5,184.3 436.5,184.5 437.5,184.1 438.5,184.5 439.5,184.6 440.5,184.7 441.5,184.7 442.5,184.4 443.5,183.6 444.5,183.4 445.5,183.1 446.5,184.4 447.5,184.4 448.5,184.5 449.5,183.3 450.5,183.1 451.5,183.4 452.5,183.6 453.5,183.2 454.5,184.1 455.5,184.2 456.5,183.6 457.5,182.8 458.5,183.4 459.5,183.7 460.5,183 461.5,184 462.5,184.7 463.5,185.1 464.5,184.9 465.5,184.5 466.5,183.4 467.5,184.9 468.5,184.8 469.5,186.3 470.5,189.2 471.5,190 472.5,189.8 473.5,188.5 474.5,185.5 475.5,183.2 476.5,181.1 477.5,179.7 478.5,180.6 479.5,183.9 480.5,184 481.5,183 482.5,181.6 483.5,180.9 484.5,183.6 485.5,184.3 486.5,184.7 487.5,182.4 488.5,180.5 489.5,180.1 490.5,182.2 491.5,184.9 492.5,184 493.5,185.1 494.5,182.7 495.5,183.1 496.5,183.5 497.5,183.6 498.5,183.6 499.5,184.2 500.5,184.6 501.5,184.9 502.5,184.7 503.5,184.9 504.5,184.7 505.5,184.9 506.5,184.3 507.5,184.1 508.5,184.5 509.5,185.5 510.5,185.2 511.5,184.7 512.5,185.1 513.5,184.5 514.5,183.8 515.5,184.3 516.5,183.3 517.5,183.6 518.5,183.8 519.5,184.2 520.5,184.1 521.5,183.6 522.5,183.5 523.5,184.3 524.5,184 525.5,184.6 526.5,184.3 527.5,184.5 528.5,184.3 529.5,183.7 530.5,185.1 531.5,185.2 532.5,184.6 533.5,184.2 534.5,184.3 535.5,184.4 536.5,184.4 537.5,185.5 538.5,186.1 539.5,185.6 540.5,186.3 541.5,185.2 542.5,184.5 543.5,184 544.5,183.9 545.5,183.4 546.5,184.3 547.5,184.1 548.5,182.7 549.5,182.4 550.5,183.6 551.5,184.3 552.5,186.1 553.5,185.9 554.5,185 555.5,185.3 556.5,185.3 557.5,185.1 558.5,185.1 559.5,185.9 560.5,184.9 561.5,184.4 562.5,185.6 563.5,186.5 564.5,186.6 565.5,185.9 566.5,183.8 567.5,183.5 568.5,185 569.5,184.1 570.5,183.8 571.5,185.8 572.5,184.3 573.5,185.2 574.5,185 575.5,184.3 576.5,184.4 577.5,185.1 578.5,186.4 579.5,185.1 580.5,185.4 581.5,185.3 582.5,185.9 583.5,185.7 584.5,185.8 585.5,184.4 586.5,184.3 587.5,184.5 588.5,184.6 589.5,184.3 590.5,184.4 591.5,185.2 592.5,184.4 593.5,184.6 594.5,185.1 595.5,184.9 596.5,185.1 597.5,184.8 598.5,184.9 599.5,184.8 600.5,184.8 601.5,185 602.5,184.8 603.5,184.9 604.5,185.6 605.5,185.8 606.5,185.5 607.5,185.3 608.5,185.1 609.5,185.3 610.5,184.9 611.5,184.8 612.5,185.4 613.5,185.6 614.5,185.1 615.5,184.8 616.5,185.8 617.5,185 618.5,185 619.5,184.7 620.5,185 621.5,184.8 622.5,184.2 623.5,184.1 624.5,184.1 625.5,184.5 626.5,184.6 627.5,184.1 628.5,183.9 629.5,184.7 630.5,183.8 631.5,184.2 632.5,183.8 633.5,184 634.5,184.3 635.5,183.9 636.5,184.1 637.5,183.6 638.5,183.7 639.5,183.9 640.5,184.6 641.5,184.3 642.5,184.4 643.5,185 644.5,184.3 645.5,184.6 646.5,184 647.5,184.8 648.5,185.2 649.5,184.7 650.5,185.2 651.5,185 652.5,184.1 653.5,184.2 654.5,184.3 655.5,184.2 656.5,183.6 657.5,184 658.5,184.4 659.5,184.7 660.5,184.8 661.5,184.4 662.5,184.5 663.5,184.4 664.5,184.4 665.5,184.2 666.5,183.9 667.5,183.8 668.5,184 669.5,183.9 670.5,183.6 671.5,184 672.5,184 673.5,183.7 674.5,183.7 675.5,183.6 676.5,184.2 677.5,183.7 678.5,183.7 679.5,183.2 680.5,183.2" stroke="#000" stroke-width="1.6" fill="none" stroke-linejoin="round"/>
<path d="M44 303.4V313.9M45 304.3V315.1M46 304V316.1M47 303.4V316.4M48 305.3V316.9M49 307.1V319M50 309.8V320.3M51 310.5V320.8M52 312.1V322.3M53 314.1V324.1M54 314.5V324.5M55 315.8V325.4M56 314.6V325.7M57 315.2V325.1M58 315.8V325.7M59 315.3V325.3M60 315.5V326.1M61 315.8V325M62 314.8V325.6M63 315.3V326.3M64 315.8V325.3M65 315.5V326M66 315.6V325.5M67 316V325.5M68 316.5V325.7M69 315.7V326.4M70 315.5V326.5M71 315.9V326M72 315.4V325.6M73 315.9V326.4M74 315.3V326.5M75 316.6V325.2M76 316.1V325.5M77 315.3V326.7M78 315.6V325.8M79 316.3V326.1M80 316.6V326.7M81 316V325.3M82 316.6V325.3M83 315.9V325.5M84 316.6V325.4M85 316.4V325.8M86 315.9V326M87 315.4V324.9M88 315.8V325.4M89 315.1V324.6M90 314.6V324.8M91 315.1V324.3M92 313.8V324.3M93 313.9V324.5M94 314.3V323.8M95 313.1V323.8M96 313.4V323.7M97 313.7V322.4M98 312.6V322.8M99 312V321.9M100 312.7V321.5M101 311.7V321.3M102 312.2V322M103 311.4V321.8M104 309.9V321.6M105 309.6V320.6M106 308.6V320.1M107 308.5V320.7M108 308.1V319.5M109 308.5V320.4M110 309V321.2M111 308.2V322.1M112 309V323.3M113 308.7V324M114 309V321.5M115 308.1V319.8M116 308.6V317.3M117 307.5V318.3M118 307.7V316.7M119 307.5V318M120 307.2V317.5M121 307.5V316.2M122 307.4V315.8M123 305.9V316.6M124 306.2V316.5M125 306V316M126 306.3V316.2M127 306.9V316.6M128 306.3V316.5M129 305.8V316M130 306.8V314.9M131 306.4V315.9M132 306.1V315.4M133 307.3V315M134 307.2V314.7M135 306.5V314.7M136 307.1V315.2M137 307.6V315.7M138 307.5V314.6M139 307.1V316.2M140 307.2V315.6M141 307.6V314.9M142 307.9V315.2M143 307.1V316.2M144 306.4V315.8M145 306.5V315.8M146 306.8V315.8M147 307.1V315.7M148 307.8V315.8M149 307.5V315M150 307.5V315.7M151 306.6V315.4M152 307.1V315.3M153 307.4V314.7M154 307.8V316M155 306.5V314.6M156 307.2V315.1M157 307.1V315.2M158 306.9V315.2M159 307V315M160 307.7V315.4M161 308V315.8M162 307.8V314.9M163 307.6V315.2M164 306.7V314.8M165 306.6V315M166 307.5V314.5M167 307.6V314.8M168 306.7V314.4M169 307.6V314.7M170 307.4V314.9M171 307.7V315.4M172 308V315.4M173 307.4V315M174 307.1V314.4M175 307.1V315.1M176 307.2V315.7M177 308.1V314.7M178 307.9V315.2M179 307.2V315.1M180 306.8V314.7M181 307.6V315.1M182 307.9V315.6M183 308.3V315.4M184 307.8V314.8M185 307.4V314.7M186 307V314.6M187 307.7V314.6M188 307.2V315.2M189 307.4V315M190 307.1V315.1M191 307.6V315.7M192 307.1V314.5M193 308.2V314.8M194 308V315.7M195 307.9V314.3M196 307.3V315.3M197 307.2V315.3M198 307.4V314.3M199 308.5V315M200 307.5V315.4M201 308.3V315.6M202 308.7V314.8M203 308.6V314.1M204 308.2V314.6M205 307.9V315.6M206 308.2V314.8M207 308.1V315.7M208 307.4V314.6M209 307.4V315.3M210 308.4V314.7M211 308V315.8M212 308.6V315.7M213 308.3V316.2M214 308.2V317.3M215 307.4V316.8M216 307.1V317.2M217 308.3V316.5M218 308V316.7M219 307.9V317.2M220 307.3V316.6M221 308.2V316.3M222 308.5V317.1M223 308.7V315.9M224 308.7V316.7M225 307.4V315.4M226 307.3V316.4M227 308.3V315.2M228 308.4V315.2M229 308.9V315.5M230 308.4V315.9M231 308.7V316.2M232 307.7V316.3M233 308.2V315.8M234 308.4V315.1M235 308V315.6M236 308.2V315.6M237 309.2V315.3M238 308.8V315.7M239 308.3V316.3M240 308.8V316.6M241 308.8V316.2M242 309.2V316.2M243 309.3V314.9M244 309.4V316M245 309.6V316.1M246 309.2V316.2M247 308.2V315.4M248 308.6V314.4M249 308.1V315.3M250 308.4V314.4M251 307.9V315M252 308.4V315.3M253 309.1V315M254 308.7V314.4M255 308.6V314.6M256 308V314.4M257 306.8V314.5M258 307.5V315.3M259 307.5V314.4M260 306.8V314.9M261 306.9V314.7M262 305.7V314.1M263 305.7V315M264 306.8V314.9M265 306.3V315.2M266 305.5V314.4M267 306.5V315.3M268 305.8V314.8M269 306.5V314.4M270 305.6V315.2M271 306V315.7M272 306.9V314.7M273 306.6V314.2M274 305.6V315.5M275 306.2V314.1M276 307.2V314.3M277 305.7V314.9M278 306.4V314.2M279 307V314.6M280 306.2V315M281 307V314.1M282 306.2V315.6M283 306.9V314.5M284 306V314.8M285 305.9V314.2M286 306.2V314.9M287 306.9V314.5M288 307.3V314.9M289 306.5V315.4M290 306.5V314.4M291 306.5V313.9M292 306.6V314.9M293 307V314M294 307.7V314.8M295 307.3V313.9M296 307.5V313.5M297 307.8V314.4M298 308.1V314.3M299 308.7V313.5M300 308.9V313.5M301 308.8V313.1M302 308.6V313.7M303 308.5V314M304 308.3V314.4M305 309.1V312.9M306 308.5V313.5M307 309V314.1M308 308.8V313.7M309 308.7V313M310 309.6V313.7M311 308.9V313.4M312 309.9V314.1M313 310V312.6M314 309.1V313M315 309.5V313.3M316 309.4V313.6M317 310V313.4M318 309.2V313.2M319 309.6V312.7M320 309.3V313.9M321 310.7V313.6M322 309.7V313.2M323 310.1V312.7" stroke="#0a24fa" stroke-width="1.05" fill="none"/>
<path d="M255.6 313.4h0M186.5 309.2h0M170 306.9h0M268.6 311.6h0M291.1 306.8h0M62.8 313.1h0M276.5 311.5h0M210.5 316.7h0M212.6 315.4h0M209.5 316.4h0M143.8 310h0M174.9 314.2h0M139.1 309.9h0M50 315.6h0M318.7 310h0M260.1 311.2h0M146 311.5h0M230.5 312.5h0M88.4 318.6h0M200.7 315.1h0M299.8 311.4h0M184.2 314.9h0M208.4 309h0M177.6 306.8h0M221.6 303.9h0M319.1 313.2h0M298.4 310.4h0M112.4 317.3h0M154.8 307.8h0M202.1 310.3h0M92 319.2h0M131.3 315.1h0M59.7 322.2h0M307.8 310.9h0M216.5 310.8h0M90.9 313.3h0M85.2 313.6h0M252 311.6h0M225.7 307.4h0M289 307.5h0M51.1 308.9h0M128.1 309.6h0M181.9 312.6h0M203.7 311.2h0M281.7 312.2h0M79 315.7h0M190 310h0M299.3 313.4h0M185 313h0M321.1 309.6h0M239.7 316.1h0M187 310.7h0M182.6 314.6h0M53.7 313.3h0M229.1 309.3h0M126.7 308h0M46.2 314.1h0M245 310.7h0M82.2 322.8h0M145.5 311.3h0M147.2 311.1h0M124.6 307.6h0M302.8 309.4h0M227.2 305.9h0M231.5 308.1h0M84.9 313.3h0M204.8 312h0M197.6 310.1h0M295.4 311.5h0M50.7 316.8h0M190.6 311.7h0M246.3 313.8h0M207.2 312.3h0M323.3 310.3h0M144.5 314.2h0M184.3 311h0M248.5 311.7h0M209.5 310.5h0M82.4 317.9h0M305.7 309.1h0M281.1 312.9h0M282.1 309.9h0M310.2 307.6h0M317.9 312.3h0M214 319.7h0M312.9 309.4h0M236.1 317.2h0M48.7 317.3h0M113.7 317.6h0M301.8 309.9h0M315.2 311.2h0M125.5 312.6h0M315.3 310.8h0M273.5 306.9h0M208 310.3h0M176.2 312.6h0M320.4 312.3h0M215.1 314.5h0M167.6 306.5h0M280.7 309.7h0M172.3 314.8h0M253.7 309.1h0M318.8 312.3h0M138.3 308.3h0M249.1 310.2h0M44.7 311.2h0M60.3 314.9h0M322.7 311.4h0M316.7 312.9h0M228.5 309.8h0M191.1 309.7h0M174.2 314.5h0M292 307.2h0M156.6 307.1h0M240.1 312.1h0M191.4 311.2h0M201.9 315.6h0M241.7 311.4h0M309.7 310.8h0M129.8 300.8h0M56.7 319h0M311.6 310h0M255.7 310.6h0M297.4 306.4h0M101.3 321h0M49 304h0M225.2 307.3h0M274.1 307.3h0M52.3 317.8h0M200.8 309.1h0M249.3 314.4h0M304 311.6h0M81.1 315.3h0M248.5 314.6h0M309.5 311h0M113 309.6h0M318.2 310.8h0M163.1 310.6h0M211.5 305.9h0M244.2 312.8h0M254.6 308h0M203.9 311.7h0M147.3 306h0M131.9 313.9h0M238.5 311.7h0M279.7 310.7h0M123.6 306.9h0M100.2 314.2h0M48.7 314h0M172.8 311.2h0M113.1 314.3h0M149.1 304.6h0M310.3 309.1h0M80.9 311.7h0M159.5 304.9h0M142.9 307.1h0M173.6 307.1h0M214.7 307.1h0M102.9 315.6h0M191.4 307.3h0M107.1 309.8h0M127.3 302.7h0M306.5 310h0M301 310h0M199.6 312.4h0M275.1 308.1h0M235.9 309.5h0M230.8 312.2h0M88.7 317.8h0M231.2 309.2h0M118.5 302.4h0M62.4 318h0M238.6 308.8h0M122.9 315.8h0M57.4 319.5h0M151.2 309.9h0M127.1 305.4h0M101.5 317.4h0M94.9 319.6h0M287.1 310.7h0M50 306.6h0M170.3 311.2h0M204.4 312.8h0M47 305.8h0M67.2 318h0M121.9 314.1h0M43.5 305.1h0M43.3 309h0M170.6 310.4h0M90.6 315.1h0M224.5 306.3h0M181 314.4h0M300.6 305.9h0M271.5 312.3h0M166.8 311.7h0M167 312.4h0M81.6 312.9h0M316.1 312.3h0M235.8 307.3h0M121.9 312.8h0M187.2 311.4h0M319.7 310.9h0M316.1 313h0M92.3 312.5h0M91.9 316.1h0M80.9 320.2h0M270.4 308.6h0M268.5 310h0M197.3 310.3h0M259.5 312.5h0M102.6 311.8h0M291 312.2h0M187 307.6h0M52.8 318.2h0M101.5 309.8h0M164.6 310.4h0M127.9 299.9h0M156.7 313.3h0M186.5 308.3h0M272.8 305h0M165.4 310.5h0M45.1 308h0M169.1 309.1h0M286.2 309.2h0M174.2 311.7h0M228.8 307.4h0M198 311.8h0M297.7 309.7h0M66.5 322h0M316.2 308.6h0M76.4 312.3h0M221 315h0M146.7 306.6h0M95.8 315.2h0M151.4 307.1h0M44 309.8h0M170 315.7h0M70.4 327.9h0M54.3 314.4h0M247.2 314.6h0M253.1 311.3h0M229.1 313.5h0M218.2 314.6h0M194 312h0M189.9 314.3h0M86.7 326.5h0M140.1 308.7h0M322.3 310.4h0M241.2 313.1h0M80 318.2h0M173.6 315.8h0M69.6 316.2h0M285.6 305.5h0M203.4 314.2h0M235.9 314.4h0M89.9 308.3h0M119.2 309.9h0M153.1 306.9h0M308.1 308.7h0M218.7 310.6h0M64.8 317.7h0M59.1 319.2h0M163.8 304.5h0M316.1 312.7h0M126.2 312.4h0M127.6 312.3h0M314.9 308.4h0M170.9 307.1h0M153 310.2h0M191.7 315.4h0M289.8 312h0M193.2 310h0M88.5 320h0M196.1 310.6h0M208.3 310.1h0M101.3 313.3h0M288.9 309.8h0M45.8 310.4h0M266.6 306.2h0M218.9 313.1h0M87.4 323.2h0M178 305.3h0M62.9 318.5h0M201.9 310.7h0M81.5 317.4h0M66.7 324.6h0M201.1 314.4h0M172.2 311.2h0M111.4 314.3h0M130.9 308.3h0M231.2 315h0M307.8 307.6h0M83.8 315.8h0M316 312.5h0M181.9 310h0M84.9 319.1h0M164.9 309.2h0M208.9 312.4h0M174.4 313.4h0M67.2 321.7h0M111.4 315.3h0M187.5 309h0M153.9 304.7h0M152.8 316.7h0M171.6 313.8h0M76.2 326.5h0M266.3 311.6h0M87 311h0M279.8 314.2h0M254.8 307.8h0M193.8 309.4h0M123.1 306.7h0M166 311.7h0M219.1 310.4h0M233.8 311.8h0M241.7 310h0M238.4 312.5h0M109 311.1h0M213 313.1h0M111.1 314.8h0M144 310h0M97.3 322.3h0M307.1 308.5h0M113.5 309.7h0M242.8 313.5h0M163.2 308.5h0M269.7 305.6h0M266.7 307.1h0M70.2 313.6h0M180.7 311.3h0M269.9 311.1h0M150.3 307.6h0M173.7 316.7h0M213.8 311h0M79.8 318.4h0M91.6 316.5h0M84.1 316.7h0M62.4 322.6h0M252.7 313.5h0M67 315.9h0M101.3 314.9h0M114 309.6h0M256.5 309.2h0M217.4 309.4h0M312.3 310.8h0M271.4 308.5h0M94.8 319.6h0M318.2 310.2h0M239.5 313h0M84.5 316.7h0M111.5 314.4h0M260.9 306.5h0M152.5 308.3h0M255 307.5h0M288.4 310.6h0M257 310.4h0M61.7 313h0M54.3 316.4h0M80.3 317.8h0M196.6 310.4h0M273.1 305.4h0M176.1 309.8h0M58.9 317.3h0M66.7 312.1h0M230.2 315.1h0M245.1 313.5h0M56.9 317.6h0M313.4 311.4h0M101.3 311h0M202.9 315.8h0M178.2 314.9h0M235.3 309.1h0M247.9 310.7h0M53.6 321.9h0M288.3 308.2h0M208.9 313.1h0M84.9 325.5h0M105.5 321.5h0M307.8 311.2h0M220.7 316h0M296 309.2h0M304.3 309.6h0M137.8 316h0M172.4 307.6h0M69.9 323.4h0M84.1 322.8h0M160.1 311.8h0M233.8 318h0M140 310.4h0M72.4 316.4h0M69.7 312.1h0M150.1 311.8h0M170.8 312.2h0M92.1 314.5h0M201.2 313.4h0M275.1 305.2h0M166.5 309.4h0M239.9 315.5h0M102.6 315.2h0M65.4 321.2h0M258.3 312h0M92.4 318h0M318 312h0M295.1 306.1h0M196 311.4h0M173.9 310.6h0M275.7 307.6h0M266.2 309h0M66.5 320.8h0M145 313h0M208.5 311.1h0M142.7 312.4h0M61.1 322.1h0M280.3 312.7h0M136.6 308.7h0M190.7 310.4h0M255.2 307.4h0M222.8 308.8h0M296.6 308.9h0M125.5 314h0M72.3 315.7h0M114.5 308h0M208 311.1h0M276.4 305.3h0M123.9 310.7h0M306.7 309.9h0M88.2 312.9h0M63.6 318.4h0M124.2 315.8h0M279.7 307.2h0M97.5 315.7h0M212.5 309.5h0M269.6 309.2h0M291.7 308.6h0M197.4 308.9h0M177.1 312.4h0M149.9 311h0M201.6 311.5h0M300.6 307.1h0M51.6 308h0M241.9 310.2h0M277.6 313.1h0M148.5 312.8h0M127.1 317.8h0M89.1 310.2h0M260.6 310.3h0M196.5 311.3h0M142 313h0M131.4 305.1h0M284.9 305.4h0M190.2 311.8h0M233.2 309.5h0M45.8 301.8h0M228.6 309.7h0M60.7 315.1h0M212 306.6h0M93.8 321.3h0M48.5 310.6h0M70.7 318.5h0M315.6 309.3h0M291.4 309.6h0M258.8 309.6h0M226.9 309.2h0M265.9 313.2h0M131.1 311.4h0M94.8 313.9h0M186.7 311.5h0M279 309.6h0M253 311.9h0M271.9 306.4h0M252.6 311.4h0M120.9 312.9h0M123.4 311.2h0M190.9 307.9h0M304.9 310.7h0M175.1 309.9h0M142.4 310.2h0M288.4 310h0M214.2 313.7h0M246.2 310.8h0M61.1 310.5h0M43.8 313.7h0M80.3 317.8h0M323 312.1h0M90.6 308.3h0M60.1 319.5h0M270.7 307.6h0M106.3 309.2h0M246.7 311.8h0M89.7 318.9h0M98.1 314.7h0M160.3 309.5h0M81.6 308.8h0M117.4 313.9h0M298.6 308.5h0M267.4 304.9h0M95.1 316.7h0M86.8 315h0M307.9 311.3h0M133.3 313.9h0M83.9 316.8h0M219.5 313.5h0M320.8 309.2h0M252 310.2h0M312.9 310.1h0M105.4 314.9h0M318.6 309.8h0M235.5 310.2h0M86.5 308.5h0M104.5 311.5h0M238.9 309.9h0M301.9 313.9h0M53.7 313.3h0M120.2 315.9h0M108.9 319.1h0M314 309.9h0M82.4 316.6h0M70 321.5h0M187 308.9h0M199.8 308.6h0M176.1 309.9h0M43.7 310.6h0M292.8 309h0M48.6 312.6h0M94.9 313.1h0M129.9 311.6h0M286.4 311.3h0M101 313.9h0M226 314.2h0M185.7 309.7h0M290 310.8h0M168 307h0M160.5 307h0M216.2 305.5h0M140.2 310.8h0M172.4 312.2h0M287.9 306.2h0M258.1 312.6h0M284.5 312h0M141.9 304.9h0M105.8 314.1h0M314.4 309.5h0M153 308.4h0M53.3 313.3h0M190.9 311.3h0M267.3 307.2h0M180.4 313.5h0M246.2 312.7h0M229.3 313.9h0M172.8 313h0M193.7 315.5h0M210.8 309.8h0M290.1 304.2h0M143.9 314.7h0M136.3 309.1h0M266.6 307.3h0M254 310.8h0M204.6 310.6h0M156.3 309.8h0M171.8 312.8h0M67.4 315.5h0M233.2 313.2h0M43.5 306.5h0M81.9 327.3h0M190.6 309.2h0M163.4 310.9h0M85.3 313.3h0M160 312.3h0M135.9 307.3h0M114.5 317.3h0M177.1 315.5h0M227.3 315.7h0M146.8 315h0M123 309.5h0M133.4 307.4h0M52.7 312.7h0M291.7 310.7h0M111.5 319.3h0M135.5 310.5h0M139.1 310.9h0M90.2 316.7h0M222.3 306.4h0M142.1 310.6h0M175.4 306.2h0M113.8 319h0M97.1 315.2h0M51.7 306.5h0M129.4 304.5h0M90.5 312.6h0M47.6 306.4h0M188.1 310.6h0M304.8 311.8h0M79.5 322.2h0M95.3 313.2h0M281 310.1h0M66.5 322.5h0M143.7 307.5h0M72.6 312.2h0M148.5 309h0M248.7 311.7h0M174.8 315.2h0M167.2 315.9h0M63.5 311.9h0M95.1 318.3h0M249.2 314.3h0M246.7 309.9h0M237 314.7h0M72.3 323.7h0M158.2 309.1h0M164.4 309.3h0M70.2 315.4h0M265.7 310.5h0M174 311.6h0M265 304.3h0M272.3 308.9h0M77.3 318.3h0M220.2 317.7h0M259.7 308.7h0M220.5 309h0M160.8 309.3h0M136.3 312.7h0M208.4 315h0M179.1 310.1h0M249.7 311.4h0M194.6 311.7h0M54.2 320.1h0M114.2 312h0M129.6 309.9h0M77.8 324.4h0M93.8 315.7h0M248.2 314h0M53.1 312.6h0M235.1 314.3h0M180.3 309.3h0M257.3 311.4h0M43.3 314.2h0M260.8 313.7h0M84.1 322.2h0M100.4 312.8h0M177.5 306.1h0M119.9 307.7h0M83 316.8h0M63.6 316.1h0M119.7 310.6h0M297.1 308h0M84.5 320.4h0M149.2 309.2h0M140.1 312.3h0M308.1 311.5h0M94.2 315.6h0M297.3 310.4h0M234.1 313.2h0M299.8 308.6h0M102.7 315.3h0M262.8 305.6h0M43.6 303.6h0M45.4 306.6h0M254.7 314.7h0M202 311.5h0M242.7 309.5h0M75.1 316.7h0M245.9 314.2h0M281 311.3h0M140.9 311.9h0M147.1 315.6h0M171.8 311.1h0M162.5 310.6h0M179.7 310.9h0M312.1 308.4h0M133.8 300.9h0M302.3 313.8h0M216.4 308.3h0M226 311h0M200.8 310.1h0M187.3 314.3h0M91.4 311.4h0M191.4 312.4h0M155.1 315.1h0M115 308.8h0M240.3 311h0M91 313.3h0M315.8 312.8h0M75.3 315.7h0M52.9 314h0M266.8 306.6h0M310.1 311.3h0M161.4 309.8h0M232.3 309.5h0M237.3 312.3h0M184.6 311.9h0M185.8 311.5h0M299.6 309.1h0M268.7 308.7h0M265 308.7h0M273.6 309.5h0M245.2 312.5h0M144.6 308.9h0M124.4 307.9h0M180.7 312.5h0M296.9 309.2h0M272.6 304.7h0M309.4 311.4h0M100.9 315.4h0M93.5 312.2h0M97.4 317.4h0M174.2 313.6h0M113.4 311.4h0M291.6 312.3h0M273.2 314.7h0M153.8 310.1h0M227.1 309.2h0M51.1 310.9h0M166 311.2h0M156.4 309.6h0M235.4 314h0M117.5 304.3h0M304.6 307h0M243.8 308.7h0M259.5 312.1h0M135 308.7h0M159.7 311.2h0M52.5 317.5h0M187.3 312.5h0M159.9 311.7h0M64.1 320.8h0M167.6 310.4h0M180.6 312h0M101.3 316.1h0M274.6 306.8h0M54.3 314.8h0M318.5 309h0M117.4 311.7h0M270.7 309.3h0M210.1 308.9h0M139.2 306.8h0M88.1 315.9h0M76 322.2h0M161.3 310.7h0M213.8 320.7h0M66.9 316.5h0M54.1 313.4h0M229.8 306.7h0M234.3 316.9h0M169.4 307.2h0M61.6 316.7h0M265.1 308.3h0M104.1 316.9h0M71.3 327.1h0M54.7 317.5h0M233.5 308.5h0M101.1 315.4h0M265.1 310.4h0M272.9 306.5h0M169.6 308h0M203.3 311.7h0M95.2 322.8h0M284 307.2h0M199.5 309h0M89.8 317.1h0M131.6 315.4h0M240.8 312.6h0M201 314.6h0M65.1 315h0M47.4 311.3h0M58.5 314.6h0M125.7 317h0M138.5 310.1h0M256.8 310.1h0M168.6 308.7h0M115.5 318.3h0M194.7 313.3h0M101.5 311.4h0M277.9 312.3h0M211.5 314.9h0M170.5 307.7h0M156 312.4h0M158.4 309.5h0M207.7 312.6h0M255.8 310.1h0M156.5 312.7h0M196.1 309h0M303.3 310.7h0M228.6 308.3h0M171.1 306.2h0M213.4 311h0M207.1 310.6h0M178.9 313h0M144.9 314.6h0M273 308.3h0M217.8 313.5h0M82.3 319.1h0M118.4 310.6h0M184.1 312.1h0M210.2 313.2h0M224.5 308.7h0M221.6 305.6h0M114.8 318h0M117.6 308.4h0M185.6 307.7h0M131.9 307.4h0M93 316.3h0M135.8 310.7h0M295.3 308.9h0M120.4 309.2h0M310.8 311.5h0M240 314.8h0M103.3 318.5h0M155.8 304.9h0M114.8 311.7h0M105.4 314.6h0M91.8 315.4h0M73 311.6h0M108.8 313.5h0M110.4 311.2h0M51.5 317.5h0M45.6 313.7h0M311.4 312.3h0M68.1 317.3h0M79.1 315.1h0M214.2 305.7h0M127.1 308.5h0M251.3 310.7h0M101.1 322.5h0M306.1 311h0M224.1 311.3h0M266.9 308.6h0M101.4 316.7h0M193.2 310.3h0M103.2 314.5h0M91.3 317.9h0M98.4 311.3h0M305.8 307.9h0M105 316.1h0M134.4 317.1h0M51.2 305.3h0M88.5 314.2h0M109.5 316.7h0M134.9 311.2h0M117.2 309.2h0M262.2 310.6h0M262.4 305.4h0M316 311.2h0M217.9 313h0M77.1 320.6h0M72 317h0M159.1 312.5h0M65.2 325h0M312 308.5h0M272.5 308.9h0M212.2 307.4h0M94.6 315.2h0M164.1 307.1h0M115 303.4h0M48.2 312.3h0M277.2 308.8h0M56.2 315.5h0M192.1 313.4h0M186.1 312.5h0M51.1 308h0M154.1 314h0M158.5 311.4h0M181.2 313.6h0M283.4 309h0M254.4 308.8h0M51.3 306.1h0M129.6 305.8h0M123.7 308.5h0M279.5 307.9h0M117.8 305.8h0M103.4 315.9h0M265 304.3h0M139.9 311.4h0M129.4 306.6h0M309.2 310.6h0M68.9 314.4h0M69.8 320.8h0M186.3 311.2h0M169.3 307.9h0M204.9 312.2h0M77.6 317.8h0M57.4 316.3h0M279.8 307.7h0M78.7 317.6h0M182.4 314.2h0M125.9 309.7h0M293.1 305.6h0M43.2 305.1h0M317.2 308.6h0M129.5 313.3h0M112.8 315.7h0M268.6 310.1h0M77.2 319.3h0M121.2 307.6h0M192.9 310.6h0M213.1 307.3h0M272.4 312.8h0M60.9 317.9h0M136.1 314.4h0M104 309.1h0M300.6 312.9h0M92.9 320.2h0M102.2 320h0M244.5 310.9h0M98.1 313.8h0M88.5 313.8h0M161.5 311.7h0M187.7 309.4h0M126.2 310.9h0M118.1 310.3h0M297.2 308.7h0M98.2 316.4h0M172.5 308.9h0M173.3 308.9h0M273.5 310h0M78.5 320.7h0M174.6 307.6h0M310.8 310.1h0M208.9 314.2h0M144 312.9h0M98.4 308.9h0M242.6 314.4h0M313.6 308.9h0M61 310.5h0M163.1 307.1h0M64.4 312.8h0M176.9 312.5h0M307 312.7h0M319.6 313.4h0M256.6 313.1h0M257.4 311.6h0M157.2 313.9h0M301 309.7h0M184.7 308.5h0M172.8 307.7h0M230.8 311h0M127.5 302.9h0M208.1 312.7h0M140.4 306.5h0M317 310.7h0M206.6 312.2h0M176.6 312.2h0M101 315.1h0M288.3 313.3h0M141.4 309h0M86.9 320.1h0M291.5 308.2h0M257.8 310.4h0M150.6 311.7h0M140.7 310.1h0M79 326.8h0M126.2 313.8h0M298.7 305.9h0M210.2 318.7h0M218.7 313.8h0M215.1 310.6h0M256.7 309.6h0M186.1 313.1h0M201.2 310.7h0M111.5 320.2h0M282.3 308h0M213.3 305.3h0M274.3 310.5h0M152.4 309.2h0M89.7 324.3h0M227.7 313.4h0M181.6 310h0M228 310.7h0M215.9 308.9h0M143.7 308.9h0M57.2 322.2h0M188.8 311.3h0M297.9 306.7h0M258.8 309.4h0M218.9 312.4h0M131.3 304h0M314.2 309.3h0M218.6 313.2h0M144.2 309.9h0M271 304.9h0M111.3 309.2h0M134.5 307.9h0M95.9 320.1h0M285.5 308.5h0M211.6 305.6h0M244.7 308.4h0M135.6 310.5h0M274.1 314.3h0M159.7 306.3h0M293.3 312.4h0M61.6 318.6h0M165.1 303.1h0M61.4 319.1h0M48.8 316.3h0M50.8 315.4h0M231 310.1h0M46.2 305.1h0M109.6 311.2h0M186.2 307.2h0M71.3 324.1h0M126.4 304.2h0M128.8 299.9h0M132 303.2h0M125.5 301.3h0M124.2 304.4h0M125 305.2h0M129.4 304h0M131.2 300.8h0M129.7 301h0M126.7 304.1h0M130.6 304.5h0M126.1 303.7h0M128.1 303.1h0M125.5 303.3h0M127.2 300.4h0M129.6 301.9h0M124.5 303.2h0M128.2 303.5h0M132.4 303h0M127.5 303.4h0M132.9 302.1h0M131.9 304.5h0M125 302.9h0M130.6 303.5h0M133.6 301.8h0M127.1 303.7h0M128.5 305.9h0M132.7 304.4h0M130.3 303.2h0M129.8 300.2h0M126.8 306.3h0M133.3 302.3h0M129.4 302.6h0M149.7 303.9h0M140.1 303.9h0M142 306.4h0M142.4 304.1h0M150.2 305h0M151 305.2h0M135.1 303.6h0M143.7 304.7h0M134.5 306.2h0M135.1 303.9h0M141.1 304.9h0M148.5 304.5h0M139.9 305.6h0M151.4 306.3h0M144.9 304.2h0M151.5 305.7h0M151.8 304h0M143.6 304.9h0M140.9 305.8h0M149.9 304.4h0M150.4 304.3h0M143.8 304.9h0M152.9 305h0M142.1 304.6h0M149.6 303.4h0M152 303.6h0M146 306.5h0M147.6 304.5h0M137.9 304.1h0M136.7 303.8h0M143.6 303.3h0M135.8 303.3h0M139 304.8h0M113.3 323.1h0M114 326.9h0M113.9 325.9h0M113.4 320.3h0M114.1 326.1h0M114.1 322.2h0M113.6 320.1h0M112.8 322.7h0M113.3 325.7h0M112.8 318.1h0M112.7 325.6h0M114 325.2h0M113.7 318.4h0M112.7 326.7h0M113.3 328.2h0M113.8 321.9h0M112.1 321.1h0M112.5 319.4h0M113 321.5h0M113 325.1h0M113 323.9h0M111.8 319.5h0M111.8 318.1h0M113.2 319.8h0M113.1 321.2h0M112.4 322.7h0M112.9 323.2h0M112 318.3h0M128.6 299h0M128.6 301.2h0M128.7 299.4h0M128.5 303h0M127.8 303.4h0M127.8 303.8h0M128.4 304.1h0M128.7 304.3h0M127.6 303.8h0M128.2 299.6h0M130.7 304.9h0M131.2 303.6h0M130.8 299.5h0M131.1 302.1h0M131.6 304.9h0M130.6 303.2h0M131.5 300.1h0M131.8 304.4h0M131.5 303.8h0M131.6 300.6h0M220.2 326.6h0M219.5 329.9h0M219.7 330h0M219.9 322.6h0M219.3 325.4h0M220.6 323.6h0M219.6 325.6h0M219.9 321.1h0M219.5 323.8h0M220.6 324.8h0M219.7 326.6h0M220.1 328.8h0M220.3 324.7h0M219.9 325.3h0M219.3 330.1h0M220 324.5h0M222.5 318.8h0M222 324.1h0M222.5 321h0M221.7 321.6h0M222.5 329h0M222.6 328.3h0M223.1 320.8h0M222.4 323.1h0M222.4 321.2h0M222.3 325.7h0M222.2 325.9h0M222.8 324.1h0M221.6 328.1h0M221.6 328.8h0M211.2 324.2h0M212.5 323.7h0M212 320.2h0M212 324.5h0M212 319.1h0M211.8 319h0M212 324.9h0M211.2 324.8h0M212.5 326.3h0M212.3 324.5h0M218.4 297.9h0M218.6 302.7h0M218.6 304.4h0M217.7 298.8h0M217.3 298h0M218.7 299.2h0M218.4 304h0M218.1 304.5h0M218.2 300.3h0M217.8 303.4h0M217.9 298.8h0M218.2 301.6h0M223.6 298h0M222.9 304.4h0M222.4 299.4h0M222.9 303.4h0M223.6 301.8h0M222.8 300.2h0M223.7 299.9h0M223 298.9h0M222.4 302.2h0M223.3 302.7h0M223.7 304.7h0M223 301.2h0M226.3 302.8h0M226.8 303.1h0M226.5 304.3h0M226.8 300.6h0M225.8 300.8h0M225.5 304.5h0M225.8 300h0M226.3 300.4h0M226.3 303.1h0M225.9 302.9h0M308.3 303.9h0M308.2 304h0M308 304.2h0M307.6 304.7h0" stroke="#0a24fa" stroke-width="1.4" stroke-linecap="square" fill="none"/>
<path d="M47.2 306.6h0M45 308.1h0M44.7 309.7h0M44.1 308.7h0M45.2 307.4h0M43.4 306.4h0M49.1 306h0M43.1 306.4h0M46.8 308.5h0M43.2 304.4h0M46.7 308.4h0M48.5 306.8h0M48.3 304.9h0M43.4 304.5h0M49.5 308.2h0M46.7 308h0M45.3 306.5h0M48.3 306.7h0M46.3 305.5h0M45.6 309.7h0M49.2 309.9h0M45.9 304.5h0M47.9 308.9h0M46.5 309.8h0M49.4 308.9h0M47.7 304.9h0M46.2 308.3h0M48.7 308.5h0M46 309.5h0M48.1 309.8h0M43.1 304.4h0M45.8 306.8h0M49.3 306.6h0M48.9 308.5h0M43.5 305.6h0M43.3 306.4h0M43.4 307.7h0M44.6 306.1h0M49.1 309.9h0M45.5 305.5h0M89.3 311.9h0M97.8 309.4h0M95.6 309.9h0M98 310.9h0M95.1 311.3h0M92.1 309.8h0M88.6 310h0M97.2 312h0M97.2 309.1h0M94 307.1h0M90.3 312.4h0M93.8 311.8h0M87.6 309.2h0M96.6 309.1h0M89.6 313h0M91.7 311h0M87 312h0M87.2 308.6h0M91 312.9h0M92.8 309.7h0M95.9 310h0M96.3 310.8h0M88.5 310.3h0M93.2 309.7h0M95.1 309.5h0M94.1 309.4h0M97.5 308.5h0M89.2 308.6h0M95.6 310.7h0M91.3 310.2h0M93.2 311.7h0M97.1 312.5h0M94.7 312h0M89.4 309.8h0M93 308.6h0M90.1 324.8h0M97.9 323h0M92.5 324.4h0M91.2 321.1h0M99.7 323h0M89.7 324.7h0M90.4 327h0M89.7 326.5h0M92.5 326.3h0M98 325.4h0M92 326.4h0M99.9 326.6h0M92.5 323.3h0M91.5 324h0M99.8 325.2h0M91.7 321.1h0M96.3 327.9h0M98.5 326.4h0M97.8 325.6h0M98.8 325.5h0M91.4 325.6h0M97.5 324.9h0M89.9 323.6h0M89.8 323h0M87.9 326.3h0M95.7 323.8h0M95.5 327.2h0M99.3 325.8h0M88.6 323.1h0M98.4 323.8h0M89.8 323.8h0M92.6 327.1h0M93.8 326.1h0M97 324.8h0M98.1 326.5h0M87.3 322.8h0M88.3 322h0M89.8 324h0M96.3 322.6h0M91.1 327.7h0M89.8 323h0M97.4 326.6h0M96.7 325.6h0M89.8 321.1h0M96.4 321.7h0M97.1 321.5h0M88.1 321.5h0M94.4 322.9h0M93.8 327h0M90.2 327.7h0M98.4 327.6h0M92.5 323.8h0M96.1 324.7h0M90.6 321.8h0M92.9 326h0M95.6 324.5h0M95.9 328h0M91.8 327h0M89.1 323h0M88.9 322h0M101.5 318.2h0M108.4 318.9h0M104.3 326.5h0M110.6 320.6h0M110.6 323.8h0M110.1 325.5h0M110.3 320.9h0M110.2 326.9h0M105.8 321.4h0M100.1 320.6h0M108 321.1h0M104 321.7h0M105 324.3h0M102.6 320.9h0M105.6 324.6h0M108.3 322.3h0M104.9 324.4h0M107 321.7h0M102 322.6h0M109.7 325.3h0M110.5 320.1h0M108.2 326h0M101 322.4h0M103.1 321.4h0M104.6 327h0M108.7 318.7h0M102.4 324.5h0M106.5 321.7h0M106.4 323h0M109.1 325.7h0M108.1 320.7h0M110.1 325.7h0M109.6 323.5h0M107.6 322.9h0M103.4 326h0M110.1 323.9h0M107.6 318.7h0M109.4 325h0M106.6 326.2h0M108.5 325.6h0M108 326.3h0M109.7 321.7h0M102.3 325.1h0M110.5 318.2h0M107.3 319.1h0M101.4 322h0M101 319.2h0M104.9 322.6h0M109.9 321.2h0M107.6 326.8h0M109.2 319.4h0M108.2 325.9h0M102.9 321.5h0M104.2 322.9h0M108.1 319.6h0M122.1 305.1h0M123.9 308h0M117.6 302.9h0M120.6 300.6h0M119.8 301.5h0M116.2 300.2h0M123.3 307.7h0M117.4 305.1h0M118.3 307.5h0M122.2 305.3h0M116.1 303.1h0M121.2 307.6h0M119.8 303.6h0M123.1 307.6h0M116.4 302.5h0M121.9 306.5h0M117.3 303.9h0M121.7 301.6h0M119.8 306.1h0M122.3 299.4h0M120.5 299.9h0M122.9 302.2h0M115.9 306.5h0M118.6 308.1h0M120.4 306.7h0M118.7 299.4h0M123.8 307.9h0M119.8 301.5h0M118.7 308.1h0M115.9 300.6h0M115.2 299.1h0M122.1 308h0M121.9 303.2h0M116.4 299.8h0M122.4 304.9h0M119.8 304.6h0M122.5 298.9h0M118.9 300h0M118.4 300.2h0M123.5 306.2h0M116.2 308.1h0M123.8 304.3h0M119.9 304.9h0M118.5 305.4h0M118.7 303.4h0M129.2 316.1h0M125.7 317.3h0M125.5 317.4h0M125.8 315.9h0M131.4 321.2h0M124.6 321.7h0M124.6 320.7h0M127.4 317.8h0M125.4 320.4h0M127.1 317.8h0M131.1 321.1h0M125.6 319.5h0M127.3 319.4h0M126.4 319.4h0M127.6 322.6h0M127.8 322.2h0M130.2 319.9h0M128.8 320.3h0M124.7 315.8h0M125.5 317.6h0M129.3 315.8h0M125.3 318.1h0M124.7 318.6h0M127.3 319.7h0M131.2 322h0M131.4 319.7h0M126.6 316.5h0M130.2 322.5h0M126.5 320.4h0M127.2 316.4h0M126.6 319.2h0M131.3 318.1h0M130.9 319.1h0M131.6 320.5h0M131.1 319.7h0M158.4 304.4h0M163.5 300.9h0M166.4 300.4h0M155.9 299.7h0M159.2 300h0M155.2 302.7h0M159.8 301.3h0M163.9 299.6h0M157.3 302h0M157.5 300.4h0M161.8 301.1h0M164.5 300.4h0M159.9 304.5h0M156.1 300h0M159.8 303.9h0M163.8 299.8h0M163.1 301.9h0M166.4 302.6h0M156.6 304.8h0M166.1 299.7h0M162.4 302.4h0M160.2 301.4h0M162.4 302.7h0M161 303.6h0M154.2 301.4h0M154.8 302.3h0M156.1 300.6h0M156.2 303.8h0M159 299.7h0M165.6 304h0M155.2 299.7h0M157.7 304.6h0M156.8 299.8h0M159.9 303.8h0M161.6 304.2h0M155.3 301.9h0M162.3 303.7h0M161.5 300h0M158.4 301.9h0M158.8 303.7h0M165.5 302.4h0M155 302.5h0M155.9 300.8h0M158.9 301.1h0M155.9 300.9h0M172.8 319.4h0M171.4 317.8h0M172.8 319h0M172.6 318.5h0M173.5 319.1h0M173.5 319.5h0M183.9 317.8h0M187.5 317.8h0M183.6 316.9h0M185.7 316.4h0M185.6 317.9h0M184 318.1h0M185.9 316.9h0M188.3 317.9h0M187.8 317.4h0M184.8 317.2h0M182.5 316.4h0M184.1 316.5h0M210.5 307.3h0M213.4 310.5h0M213.6 309h0M216.1 302.7h0M217.7 302.7h0M208.9 303.5h0M216.6 311.1h0M209.6 307.1h0M217.4 301.8h0M209.6 305.2h0M215.2 307.9h0M214.9 309.9h0M210 304.6h0M217 305.6h0M212.8 307.6h0M210.9 303.6h0M210.6 304.3h0M218.1 301.9h0M213.9 303.9h0M215.2 308.2h0M210.7 308.9h0M213 302.1h0M213.4 306.8h0M213.6 309.7h0M217.2 303.6h0M217.1 304.9h0M210.6 303.8h0M212.1 305.9h0M218.2 303.6h0M215.6 308.9h0M214 306.6h0M211.2 311.1h0M213.6 306.1h0M217.2 302.2h0M210.3 309.8h0M218.1 304.2h0M208.7 310.8h0M216.2 310.5h0M211.3 310.4h0M211.9 304.4h0M214.9 307.4h0M217 306h0M218.2 303.1h0M214.3 302.1h0M213.4 308.3h0M212 302.5h0M209.6 309.5h0M217.4 305.4h0M217.5 304h0M216.1 302.3h0M209.4 308.8h0M212.4 308.4h0M216.4 307.3h0M216.5 308.3h0M215.7 305.4h0M211.4 302.4h0M211 309.5h0M210.6 305.5h0M213.2 309.1h0M216.2 310.8h0M229.5 306.6h0M229.3 305.9h0M230.4 305.5h0M228.8 308.3h0M227.3 305h0M227 308.2h0M228.5 303.1h0M231.2 304.6h0M229 307.4h0M228.1 307.6h0M227.3 304.4h0M229.9 307.2h0M232.1 307.2h0M227 307.5h0M229.5 308.5h0M229 303.5h0M229.3 303.5h0M227.6 304.9h0M227.2 305.6h0M231.9 308.2h0M231.5 304.6h0M228.1 308.4h0M253.2 316.2h0M248 317.9h0M253.4 317.2h0M250.3 316.6h0M247 318.2h0M249.1 316.4h0M245.6 318.3h0M243 317.8h0M247.8 316.9h0M242.7 315.7h0M248.8 318h0M248.7 315.9h0M247.5 316.3h0M249 316h0M252.4 317.7h0M250.4 315.9h0M243.3 315.7h0M246.9 317.1h0M248.2 318.1h0M247.4 315.6h0M248.8 316.9h0M250.6 316.5h0M250.6 315.9h0M252.6 318h0M250.8 317.4h0M244.2 317.2h0M244 317.4h0M249 316.6h0M244.2 315.9h0M251.2 316.4h0M270.7 317.5h0M264.2 322.6h0M265.6 317.8h0M276.5 317.2h0M277.4 323.1h0M283.5 324.2h0M280.3 319.4h0M282.4 316.7h0M269.6 321.5h0M270.5 323h0M278.9 325.8h0M265.5 317.2h0M282.1 320.5h0M268.9 320.2h0M272.1 320.5h0M283.3 326.7h0M283.6 317.2h0M272.4 317.5h0M263.4 325.5h0M280.8 320.3h0M276.9 317.5h0M286 318.3h0M272.3 317.5h0M273.1 324.7h0M285.6 317.1h0M266.1 315.9h0M276.8 324h0M268 323.7h0M275.5 316.3h0M275.1 321h0M268.6 320.8h0M267.4 322.4h0M276.3 317.6h0M264.5 326.8h0M269.8 322.3h0M272.8 326h0M285.7 320.6h0M270.1 321.6h0M280.1 319.5h0M269.8 321.2h0M266.2 319.9h0M285.4 317.3h0M285.4 322.1h0M270.1 321.5h0M265.9 322.7h0M278 318.9h0M274.8 322.2h0M279 315.8h0M284.4 325.9h0M283.1 321.6h0M264.1 322.5h0M267.9 319h0M263.3 316.9h0M268 326h0M265 319.6h0M285.8 326.6h0M278.1 316.1h0M275.8 317.7h0M266.5 325.2h0M280.3 317.1h0M283.5 319.9h0M272.1 317.3h0M271.8 317.9h0M277.3 316.1h0M276.3 324.8h0M269.3 317.4h0M274 316.6h0M276.2 321.1h0M281.7 317.7h0M280.2 319.7h0M286 320.5h0M273 317.4h0M275.8 317.2h0M279.4 318.7h0M280.2 321.7h0M267.2 304.1h0M266.5 304.6h0M268.6 304.9h0M267.8 305.4h0M267.9 304.6h0M93.5 309.8h0M114.7 312h0M201 312.6h0M191.5 313.2h0M51.5 306.3h0M153.1 310.7h0M135 308.8h0M234.9 308.4h0M234.5 309.1h0M195.3 313h0M136.5 318.5h0M126.4 306.6h0M306.8 319.7h0M190.4 308.2h0M105.3 316.7h0M201.8 316.4h0M192.4 306.4h0M243.1 317.7h0M150.3 310.2h0M312.9 314.4h0M113.6 309.6h0M191.3 317.8h0M131.9 319.7h0M179.8 319.2h0M58.8 315.5h0M159.9 317.9h0M171 306.8h0M318.7 307.7h0M305 308.9h0M99.3 306.7h0M118.5 308.6h0M63.4 320h0M317.8 310.4h0M200.3 319.8h0M153.3 314.4h0M283.5 307.7h0M214.6 310.9h0M146.6 309.5h0M292.5 312.8h0M184.4 313.6h0M102.5 310.6h0M286.8 313.2h0M71.4 312.6h0M191.8 309.3h0M305 312.3h0M137 307.5h0M125.6 306.2h0M92.4 318.5h0M264.7 318.8h0M112.4 307.5h0M159.6 318.5h0M214 318h0M133 317.3h0M244.6 317.3h0M98.1 315.6h0M250.8 317h0M176.7 315.8h0M57.1 310.2h0M48.7 306.6h0M150.9 306.4h0M109 301h0M109.3 301.2h0M108.5 302.7h0M108.8 303.1h0M108.2 301.3h0M109 298.8h0M108.9 298.9h0M109.2 298.1h0M108.5 304.6h0M109.7 301.4h0" stroke="#32d214" stroke-width="1.4" stroke-linecap="square" fill="none"/>
<path d="M48.8 319.2h0M48.2 319.7h0M49.5 320.2h0M45.8 320.5h0M44.3 325.2h0M45.6 321.6h0M47.9 325.7h0M43.4 322.5h0M49.8 326.7h0M45 325.9h0M46.1 324.6h0M48.7 322.3h0M47.9 319.1h0M43.9 327.8h0M45.7 322.8h0M47.6 323.8h0M47.2 319.4h0M48.3 323.6h0M46.4 323.3h0M49.3 326.8h0M49.8 324.7h0M44.2 326.8h0M48.3 323.2h0M48.8 327.4h0M49.7 321.6h0M49.4 325.8h0M45.7 324.5h0M48.1 323.1h0M49 324.3h0M46.6 319.4h0M43.2 321.7h0M48.7 326.4h0M49.9 322.4h0M49.1 322.3h0M45.5 323.4h0M45.2 320.5h0M48.3 321.6h0M43.1 321.4h0M49.7 323.1h0M47.5 323.7h0M44.2 319.9h0M45.7 326.7h0M49.9 327.2h0M46.4 323.2h0M48.9 328h0M44.6 326.9h0M45.8 325.1h0M45.6 324.5h0M47.9 319.7h0M46.5 323.5h0M49.4 326.7h0M49.5 323.6h0M48.7 319.1h0M49.6 326h0M46.4 320.2h0M44.5 319.4h0M47.2 322.2h0M49.8 327.5h0M46 320.4h0M47.9 321.3h0M48.6 320h0M48.4 321.3h0M49 322.7h0M49.7 319.5h0M43.6 325h0M47.2 327.8h0M48.4 328h0M44.9 324.1h0M48.8 325.8h0M43.8 321.1h0M61.5 314.9h0M60.3 316.4h0M58.9 316.3h0M58.3 316.3h0M57.8 314.7h0M62.2 316.4h0M58.4 317.2h0M60.5 316.4h0M67.8 317.3h0M65 315.3h0M67.8 315.7h0M66.6 314.8h0M59.6 314.6h0M56 315.3h0M65.6 314.8h0M61 316.2h0M59.8 315.6h0M69 314.5h0M56.3 317.4h0M56.6 315.4h0M69.4 314.5h0M63.9 316.5h0M59.6 314h0M58.1 314.8h0M58.8 314.9h0M56.6 314.5h0M68.1 315.3h0M59.3 316.2h0M60.5 314.7h0M65.1 314.7h0M59.6 315.2h0M63.7 317h0M64 314h0M56.7 315.2h0M63.1 316.4h0M79.3 309.1h0M76 310.1h0M77.6 309.8h0M77.7 310.9h0M77.4 308.2h0M79 309.9h0M76.3 310.4h0M78.6 308.9h0M75.8 307.5h0M77.6 310.9h0M90.3 301h0M93.4 303.9h0M88.9 302.2h0M92.3 304.1h0M91.4 300.5h0M88.3 299.7h0M91.4 302.4h0M92.7 300.5h0M91 300.7h0M93.7 300.2h0M90.7 298.1h0M88.4 304.4h0M89.5 300.2h0M89.5 304.6h0M93 299.2h0M88.2 296.2h0M119.6 309.6h0M121.8 310.5h0M120.5 311.1h0M122.3 310h0M125.5 311.5h0M122.4 310.4h0M119.8 309.7h0M117.8 311.8h0M126 310.8h0M122.9 312.3h0M121.8 312h0M125.4 310.5h0M122.4 310.4h0M123 310h0M120.4 310h0M120.1 312.1h0M121.6 310.4h0M118.2 310.9h0M120.3 309.9h0M118.6 311.4h0M121.4 311.8h0M122.4 312.5h0M121.3 310.2h0M122.4 311.2h0M125.9 311.5h0M117.7 310.7h0M144.9 302.6h0M144.6 303h0M146.2 302.2h0M146.3 302.1h0M144.3 302.7h0M146.3 302.1h0M144.7 302.5h0M146 303.1h0M144.8 302.1h0M146.4 302.2h0M195.3 303.9h0M184.2 305.6h0M182.9 301.9h0M194.4 303.6h0M199.6 304.5h0M184.4 300.3h0M179 307.7h0M189.5 300.5h0M182 300.2h0M198.2 305.7h0M185.8 303.7h0M197.3 303.4h0M182.4 306.7h0M197.8 304.9h0M186.2 304.2h0M199.9 307.5h0M189.8 299.6h0M179.3 304h0M196.4 302.6h0M184.5 305.4h0M190.8 301.7h0M199.5 305.2h0M180.7 307h0M188.2 301.4h0M197.7 307.2h0M178.7 305.4h0M184.7 306.1h0M187 304.5h0M196.9 302.2h0M192.8 304.8h0M195.3 301.2h0M199.1 305.7h0M187.5 305.4h0M187.8 300.7h0M188.2 301.9h0M201.7 304.2h0M203.8 304.2h0M179.2 303.4h0M179.2 305.4h0M203.6 307h0M196.6 305.6h0M177.3 305.1h0M188.9 302.7h0M178.9 302.7h0M189.9 299.5h0M178.7 302h0M182.9 300.6h0M197.9 305.7h0M184 299.3h0M203.1 305.8h0M190 303.1h0M193.4 301.5h0M200.9 307.6h0M201.4 304.5h0M186.6 305.2h0M203.7 303.9h0M184.2 305.9h0M178.9 305.7h0M201.9 303.4h0M193.3 303.7h0M189.7 302.4h0M187.5 299.2h0M182.9 302.4h0M192.7 305.1h0M179.5 301.4h0M184.2 304.7h0M185.2 305.2h0M201.4 305.3h0M192.5 304.6h0M183.7 306.7h0M182.4 305.6h0M196 303.5h0M181.3 305.5h0M191 303.5h0M182.5 302.2h0M189 303.9h0M185.1 303.3h0M178.6 304h0M192.4 305.1h0M183.7 301.9h0M202.6 304.7h0M195.7 305.5h0M196.3 304.6h0M185 300.6h0M197.3 305.4h0M229.8 316.6h0M224.2 318.1h0M226.6 318.3h0M227.3 318.4h0M228.4 318.2h0M224.8 316.9h0M226.8 316.6h0M227.1 316.9h0M224.6 316.5h0M226.1 316.3h0M224.6 318.6h0M224.8 317.4h0M224.7 316.5h0M227.3 317.1h0M232.3 322.2h0M243.9 320.5h0M243.4 322.1h0M237.6 318.1h0M240.4 319.6h0M240.4 320.5h0M233.9 321.4h0M236.5 323.4h0M243.2 320.8h0M238.4 323.3h0M233.6 323.6h0M239.4 323.8h0M234.8 319.4h0M236.4 318.2h0M236.1 320.9h0M235.3 323.5h0M234.6 321.6h0M234.9 318.5h0M232.6 318.4h0M243.6 322.8h0M235.5 319.8h0M241.9 318.5h0M275 311.3h0M263.4 319.7h0M120.8 315.8h0M281.7 307.9h0M244.8 317.8h0M246.1 313.1h0M198.2 316.7h0M180.1 310.3h0M246.5 313.8h0M138.1 316.2h0M210.7 314.9h0M295.8 310.8h0M91.5 309.8h0M70.7 314.3h0M239.4 317.3h0M119.1 312.1h0M245.8 320h0M199.1 307.7h0M305.3 308.8h0M175.2 307.1h0M120.6 308.5h0M54.3 312.8h0M181.3 319.7h0M195.8 311.3h0M230.5 316.1h0M190.5 316.5h0M82.6 310.7h0M104 312.7h0M89.3 315.3h0M123.3 317.5h0M300 310.9h0M58.9 305h0M110 314.6h0M278 314.5h0M49.6 318.5h0M233.6 314.3h0M202.2 312h0M294.1 319.7h0M115.7 313.7h0M206.1 307.2h0M160 319.3h0M65.2 318.3h0M151.3 313.1h0M172.8 306.6h0M206.8 308.3h0M223.9 306.5h0M310.5 315.8h0M90.5 318.9h0M303.1 311h0M268.4 316.7h0M186.7 318.3h0M246.6 317.2h0M207.1 311.6h0M285.1 308.5h0M70 313.5h0M239.8 306.4h0M133 307.6h0M56.7 312.7h0M45.4 314.5h0M186.4 308.9h0M170.4 305.1h0M194.1 312.5h0M173.1 307h0M171.4 305.1h0M263.7 305.2h0M147.4 308.6h0M310.7 318.9h0M296.9 316.6h0M193.5 306.2h0M198.4 319.6h0M61.1 312.6h0M307.4 317.9h0M200.1 311.5h0M160.1 312.7h0M314.7 318.8h0M301.7 318.6h0M99.8 309.9h0M148.8 315h0M178.6 307.9h0M302.1 316.6h0M257 329.5h0M256.6 323.6h0M257.2 323.9h0M257.5 317.5h0M257.1 318.6h0M256.9 328.6h0M256.5 323.8h0M256.5 316.6h0M256.3 327.6h0M256.2 324.8h0M256.4 324h0M256.7 325.6h0M256.2 320.8h0M256.2 321.6h0M256.6 329.3h0M256.7 324.9h0M256.2 317.8h0M256.1 316.3h0M256 325.4h0M257.5 323.6h0M246.9 301.6h0M246.5 300h0M246.3 304h0M246.2 300.4h0M247 304.5h0M247.8 302.2h0M246.5 302.4h0M246.6 304.4h0M247.3 305h0M246.7 299.9h0M237.3 321.6h0M237.8 321.5h0M238.1 322h0M238.2 321.6h0M237.9 323.5h0M237.4 323.3h0M237.6 318.2h0M237.5 320.6h0M237.6 321.5h0M238.1 323.1h0" stroke="#b450f0" stroke-width="1.4" stroke-linecap="square" fill="none"/>
<path d="M175.5 314.1h0M142.7 311.1h0M86.7 325.5h0M145.7 310.2h0M170.6 309.5h0M316.2 312.9h0M116.3 304.7h0M76.1 320.5h0M158.9 310.5h0M255.1 310h0M202.8 310.4h0M138.1 313.6h0M243.8 309.7h0M46.7 306.2h0M93.2 318.1h0M199.9 309.3h0M201.9 311.1h0M265.1 313.8h0M228.7 312.5h0M44.7 310.6h0M168.9 308.3h0M217.5 315.7h0M45.1 312.3h0M236.8 307.8h0M281.6 307.5h0M303 312.8h0M80.9 319.1h0M232.8 311.3h0M85.8 320.5h0M297.3 307.7h0M95.9 317.9h0M231.9 311.9h0M285.4 310.1h0M305.6 309.3h0M140.3 310.3h0M212.1 307.6h0M263.5 307.5h0M108.1 318.2h0M318.2 310.9h0M48.2 308.9h0M264.2 307.7h0M124.1 309.9h0M188 310.4h0M101 315.9h0M196.3 314h0M110.4 320h0M281.9 310.9h0M43.5 312h0M149.3 309.5h0M318.1 312.7h0M47.7 310.7h0M51.4 306.7h0M293.5 308.7h0M312.6 309.5h0M216.4 311.4h0M309.4 310.9h0M69.3 317.3h0M202.5 307.8h0M268.5 310.7h0M159.1 312.9h0M61.3 319h0M321.6 312.3h0M311.5 313.1h0M292 305.7h0M94 318.9h0M150 313.1h0M127.6 315.6h0M297.2 311.6h0M141.4 312.7h0M178.2 313.3h0M157.7 311.1h0M187.9 313h0M231.8 310.8h0M103.3 313.8h0M202.7 309.3h0M213.9 309.7h0M206 310.6h0M166.9 311.7h0M203.4 311.3h0M317.7 311.1h0M301 307h0M198.9 312.7h0M53.5 318.6h0M295.8 311h0M192.9 311.8h0M308.3 310.6h0M52.5 317.6h0M271.1 309.5h0M63.5 312.4h0M268 306.2h0M66.1 314.1h0M176 305.1h0M129.3 311.4h0M96.3 319h0M52.3 315h0M302.4 310.5h0M149.5 311.6h0M112.5 308.3h0M192.5 311.8h0M154.4 307.3h0M314.1 309.6h0M53 318h0M170.5 313.3h0M170.5 307.7h0M161 313.6h0M155.9 307.5h0M72.9 308.7h0M133 312.5h0M161.9 306.5h0M55.9 312.8h0M81.1 310.1h0M203.8 310.5h0M120.1 313h0M254.4 312h0M133.2 307.8h0M84.9 322.8h0M230.8 310.8h0M87.6 309.4h0M229.4 306.1h0M195.9 312h0M271.1 310.6h0M156.1 308.2h0M81.7 322.4h0M130 312.1h0M86 314.8h0M132.4 311.7h0M183.4 312.5h0M89.4 323.7h0M128.2 317.3h0M297.6 309.4h0M226.8 316.7h0M111 319.6h0M250.9 314.6h0M200.4 309h0M131.2 314.5h0M79.9 313.5h0M207.7 307.1h0M280.7 311.5h0M44.4 309.6h0M46.9 315.3h0M231.1 307.7h0M228.2 311.7h0M68.9 312.3h0M79.8 317h0M230 307.7h0M249 307.9h0M43.4 303.6h0M131.9 311h0M218.5 317.1h0M154.7 309.1h0M101.9 317.6h0M46.9 314h0M188.7 315h0M48.7 309.5h0M182.2 312.7h0M231.8 309.9h0M55.6 316.1h0M216.7 311.8h0M217.6 305.6h0M207.5 308.5h0M320.8 313.4h0M52.8 319.7h0M170.7 308h0M322.4 310.5h0M214.6 312.6h0M212.6 315h0M237.2 314.5h0M81.4 319.3h0M181.9 311.9h0M154.8 312.3h0M66.1 320.9h0M290.7 309.3h0M111.1 313.7h0M199.8 310.6h0M216.4 312.4h0M204.4 311.1h0M120.5 304.4h0M81.6 318.4h0M251.1 312.5h0M49.7 307.4h0M85.4 321h0M205 315.1h0M216.3 317.4h0M69.2 315.4h0M74.8 317.4h0M193.2 314.3h0M240.6 313.1h0M182.5 309.2h0M180 309.2h0M277.8 307.9h0M318.1 310.7h0M300.1 311.7h0M285.9 303.7h0M316 310.8h0M190 312.9h0M119.7 305.9h0M249.3 314.6h0M94.7 318.1h0M73 318.5h0M75.4 316.9h0M275.9 309.2h0M221.2 313.6h0M285.2 309.4h0M258.6 313.5h0M76.2 315.7h0M274.2 303.9h0M265 308.8h0M302 309.3h0M61.8 315.2h0M196.2 311h0M281.1 310.7h0M248.5 311h0M225.3 315.1h0M70.4 325.6h0M291.4 308.2h0M209.6 314.6h0M75.3 317.8h0M298 308.6h0M218.6 306.6h0M105.4 314.5h0M62.8 316.1h0M107.5 309.5h0M86.7 320.1h0M207 311.4h0M144 307.7h0M221.3 317.5h0M114.8 311.1h0M206.1 314.5h0M176.4 312.1h0M261 307h0M68.9 310.7h0M321.8 312.4h0M321.7 309.5h0M69.5 315.9h0M77.2 311.3h0M196.2 313.8h0M129 306.9h0M66.4 325.6h0M172.2 311.4h0M251.7 311.1h0M140.3 311.7h0M132.5 311.7h0M269.6 314.6h0M127.3 313.7h0M190.1 311.1h0M161.2 309.4h0M251.6 312.4h0M193.4 311.8h0M107.5 317.1h0M237.5 311.6h0M179.9 312.7h0M207.9 311.5h0M89.7 317.3h0M122 315.5h0M70.7 314.8h0M236 311.9h0M234.3 317.8h0M123.2 306.8h0M138.7 308.8h0M50.1 305.7h0M108.1 318.5h0M150.6 312.9h0M193 306.3h0M138.8 314.6h0M179.3 315.1h0M210.2 314.1h0M193.7 311.7h0M193.3 309.9h0M258.7 309.3h0M187 309.7h0M260.8 312.3h0M103.6 311.8h0M128.7 313.7h0M249 312.2h0M162.1 306.3h0M145.5 308.3h0M206 311.4h0M215.8 319.1h0M179.9 306.4h0M285.2 308.2h0M59.6 326.7h0M275.9 309h0M190.4 308.8h0M224 313.7h0M267.6 313.3h0M43.4 308.8h0M256.2 314.2h0M267.2 309.8h0M50.8 307.8h0M257.1 311.4h0M261.5 309.4h0M157.1 307.7h0M77.6 322.3h0M310.8 310.4h0M48.6 317.3h0M297.7 308.1h0M294.9 309.5h0M256.2 310.9h0M89.9 318.4h0M240.8 312.2h0M271.4 309.8h0M200.8 315.3h0M269.1 308.9h0M277.1 313.2h0M263.1 310.7h0M284.4 311.5h0M125.3 300.2h0M134.9 312h0M180.6 310.1h0M297.8 307.3h0M55.6 313.9h0M91.8 323.2h0M63.8 319.3h0M197.9 308.9h0M82.2 311.9h0M164.3 308.4h0M184.3 310h0M123.7 309.2h0M47.1 308.7h0M297.7 307.6h0M107.4 315.3h0M86.8 315.2h0M210.6 314.1h0M161.3 302.7h0M104.3 316.3h0M286.3 306.6h0M228.2 307.1h0M109.8 307.6h0M125.1 313.1h0M270.6 308.9h0M108 309.3h0M88.4 312.8h0M215.2 314.5h0M228.2 313.6h0M139.6 312.8h0M157.3 309.2h0M70 315.3h0M230.5 308.8h0M77.9 310.5h0M162.4 310.7h0M62.1 321h0M173.5 309.7h0M228.3 313.4h0M249.8 310.1h0M299.2 308.4h0M257.9 308.7h0M217.3 311.9h0M278.5 308.4h0M311 310.8h0M70.7 320.2h0M259.1 313.2h0M110.6 314.4h0M116.9 311.6h0M138.6 310h0M195.8 309.2h0M102.6 309.5h0M49.1 306.5h0M302.5 313.6h0M142.7 313.3h0M273.2 314.9h0M101.5 314.3h0M187.1 309.7h0M316.3 310h0M110.6 307.2h0M221.8 310.8h0M183.3 314.9h0M161.1 308.4h0M186.9 311.7h0M207.9 311.1h0M187.8 310.7h0M250 315.3h0M81.8 315.5h0M272 312.5h0M137.8 304.8h0M195.4 308.2h0M75.8 319.2h0M79.1 324.4h0M151.2 307.4h0M264.4 307.3h0M212 309.7h0M302.6 306.7h0M278.6 310.8h0M147.3 307.7h0M69.4 316.1h0M258.9 308.2h0M47.5 307.3h0M121.3 303.8h0M116.4 313h0M218.2 310.8h0M233.2 314.6h0M125.9 312.3h0M294 309.8h0M209.9 311.8h0M167.8 306.3h0M62.8 325.3h0M73.6 318.1h0M91 319.4h0M231.2 311h0M93.3 315.4h0M173.7 307.7h0M298.1 309.2h0M108.9 316h0M192.4 310.3h0M140.5 307.3h0M139 311.3h0M231.9 313.1h0M253 312.1h0M130.4 302h0M91.6 318h0M174.3 312.3h0M281.4 308.1h0M191.3 311.4h0M274.7 309.3h0M321.3 311.9h0M67.8 318h0M57.9 314.1h0M177.2 311.2h0M119.3 309.2h0M306.8 308.2h0M71.9 312.5h0M254.9 311.6h0M185.3 311.4h0M90.1 313h0M235.9 313.7h0M186.4 314.2h0M256.7 308h0M190.8 311.6h0M128.5 303.1h0M166.9 308.7h0M58.1 316.8h0M156 311.6h0M273.8 310.9h0M223.4 310h0M132.8 306.9h0M148.7 313.6h0M57.2 311.4h0M255.6 313.4h0M136.8 310h0M258.9 307.1h0M111.1 318.6h0M202.1 315.6h0M244 312h0M105.6 321.4h0M268.2 309.8h0M237 307.8h0M144.3 309.8h0M167.7 303.9h0M140 310.7h0M101.6 311.4h0M61.7 325.1h0M68.8 310.5h0M174.7 315.5h0M319.6 310.7h0M211.6 320h0M54.8 322h0M221.6 306.4h0M157.1 312.2h0M180.6 308.4h0M56.8 317.9h0M135 306.1h0M46.3 306h0M247.8 308.7h0M245.6 311.1h0M114.4 318.6h0M143.2 308.3h0M172.6 311h0M185.9 310.8h0M262 309.2h0M259.9 314.1h0M104.5 320.4h0M322.7 312.1h0M247.9 310.5h0M134.6 307.9h0M226.1 310.3h0M155.2 305.8h0M152.4 310.4h0M317.4 310.3h0M71.5 320.4h0M234.7 314.6h0M88.9 325.7h0M144.7 305.3h0M139.1 306.8h0M151.3 304h0M290.9 311.5h0M151 311.7h0M242.6 310.1h0M71.5 318.8h0M317.7 313.7h0M96.2 311.3h0M177.2 309.7h0M87.8 326.6h0M278.9 307.2h0M87.9 317.3h0M47.9 306.9h0M93.8 324.1h0M209.3 313h0M250.4 313.1h0M159.4 304.6h0M298.1 313.9h0M57.1 311h0M77.4 325.6h0M127.9 302.8h0M128.5 305h0M124.7 303.4h0M129.4 303.9h0M127.1 305h0M131.9 302.7h0M127.6 301.6h0M130.1 300h0M124.2 302.6h0M132.3 301.6h0M126.5 304.9h0M128.1 305.2h0M144.4 304.8h0M147.5 305.6h0M137.3 304.3h0M151.9 305.5h0M146.6 304.3h0M138.6 303.6h0M134.5 305.6h0M144.7 304.4h0M144 305.8h0M146.2 304.3h0M138.4 305h0M139 303.9h0" stroke="#0a24fa" stroke-width="1.4" stroke-linecap="square" fill="none"/>
<polyline points="150,306.5 155,303.5 158.5,306.8 163,301.2 167,306 170,307.5" stroke="#0a24fa" stroke-width="1.7" fill="none"/>
<polyline points="43,313.1 44,313.5 45,314.4 46,316 47,315.9 48,316.3 49,316.1 50,316.3 51,317.7 52,319.5 53,319.8 54,320.3 55,320.1 56,319.8 57,320.5 58,319.7 59,318.8 60,318.9 61,319.7 62,319.1 63,319.8 64,319.6 65,319.3 66,319.2 67,319 68,319.1 69,319.6 70,319.1 71,318.6 72,318 73,318 74,317.5 75,318 76,318.2 77,318.3 78,317.8 79,318.4 80,318.1 81,318.9 82,318.5 83,319.6 84,320 85,320.1 86,320.4 87,319.9 88,318.8 89,319.3 90,319.2 91,318.9 92,319.9 93,320.8 94,320.1 95,318.9 96,318.5 97,319.6 98,318.8 99,318.3 100,319 101,318.9 102,317.6 103,316.7 104,315.3 105,315.6 106,315.4 107,314.7 108,314 109,314.2 110,313.1 111,313.7 112,314.6 113,315.6 114,315.9 115,316.6 116,315.7 117,314.5 118,313.8 119,311.9 120,311.6 121,312.5 122,312.4 123,312.6 124,312.1 125,310.9 126,310.6 127,311.3 128,312.1 129,311.6 130,311.4 131,312 132,312 133,311.8 134,312.1 135,310.9 136,311.7 137,311.3 138,311.5 139,311.8 140,311.5 141,310.9 142,311.2 143,311.1 144,310.9 145,310.6 146,310.6 147,311 148,311.1 149,311.7 150,311.5 151,310.9 152,310.8 153,311.1 154,310.2 155,310 156,310.8 157,310.7 158,311.2 159,310.2 160,309.9 161,310.7 162,310.7 163,311.8 164,310.8 165,311.3 166,311 167,312.1 168,311.8 169,311.7 170,312.1 171,312.4 172,311.5 173,311.5 174,311.7 175,311 176,311.4 177,311.2 178,311.4 179,312.3 180,311.9 181,312.4 182,312.3 183,312.5 184,311.3 185,311.4 186,311.3 187,311.8 188,311.8 189,311.6 190,310.5 191,311.7 192,312.2 193,312.3 194,311.8 195,312 196,311.2 197,311.4 198,312 199,311.6 200,311 201,311.6 202,310.8 203,310.6 204,311.1 205,311.1 206,310.9 207,311 208,311.4 209,311.1 210,311.6 211,311.3 212,311.2 213,311.4 214,310.8 215,310.9 216,312.2 217,311.1 218,312.3 219,312 220,313.2 221,313.1 222,313.7 223,313 224,313.8 225,313.2 226,313.1 227,313 228,314.7 229,314.6 230,313.7 231,314.2 232,313 233,313.5 234,313.5 235,314.2 236,314.1 237,315 238,314.8 239,314.9 240,313.2 241,312.8 242,314.3 243,314 244,313.3 245,312.4 246,313.1 247,312.2 248,311.1 249,312.6 250,312.6 251,312.1 252,312.4 253,312.4 254,312 255,313.1 256,313.8 257,315.4 258,314.4 259,314.4 260,313.8 261,313.3 262,313 263,312.6 264,312.8 265,312.9 266,313.7 267,313.4 268,313.8 269,314.3 270,314.8 271,314.6 272,314.4 273,314.6 274,314.7 275,313.2 276,314 277,312.9 278,313.6 279,314.1 280,313.3 281,313.4 282,314.2 283,314 284,313.7 285,313.2 286,313.1 287,312.9 288,312.4 289,312.2 290,312.2 291,313.1 292,313.3 293,313 294,313.2 295,313 296,313 297,312.5 298,312.4 299,312.1 300,311.7 301,311.5 302,312.1 303,312.4 304,312.4 305,311.4 306,311.1 307,310.9 308,311.4 309,311.7 310,311.6 311,311.7 312,311.5 313,312 314,312.1 315,312 316,312.5 317,312.5 318,312.1 319,311 320,311.5 321,311.4 322,311.4 323,311.5 324,311.7" stroke="#000" stroke-width="1.8" fill="none" stroke-linejoin="round"/>
<path d="M401.5 300.5V316.2M402.5 301.6V316.8M403.5 302.5V316.4M404.5 303.6V316.2M405.5 304V316.8M406.5 304.3V318M407.5 305.1V317.8M408.5 305.7V317.2M409.5 306.4V319.5M410.5 308.2V319.9M411.5 308.7V320.7M412.5 312.6V322.1M413.5 317V324.7M414.5 318.3V325M415.5 318.3V325.6M416.5 318.4V325.8M417.5 319.1V326.7M418.5 320.3V325.7M419.5 319.4V327.3M420.5 319.3V326.5M421.5 320.2V327M422.5 319.7V327.4M423.5 320.5V326.2M424.5 320.6V326.8M425.5 320.2V327.2M426.5 320.5V327.6M427.5 319.8V326.6M428.5 319.9V326.6M429.5 320.8V327.7M430.5 320.2V327.5M431.5 320.9V327.8M432.5 320.9V327.4M433.5 321V327M434.5 320.7V326.9M435.5 320.4V327.1M436.5 320.6V326.6M437.5 320.5V327.4M438.5 321.2V327.7M439.5 319.9V327.1M440.5 320.8V326.5M441.5 320.8V326.3M442.5 320.4V327.1M443.5 319.5V324.5M444.5 315.8V319.9M445.5 315.6V319.9M446.5 315.9V319.7M447.5 315.1V320.5M448.5 314.7V320.4M449.5 314.8V320M450.5 315.4V320.1M451.5 315.3V318.4M452.5 315.1V319.8M453.5 315V318.9M454.5 313.6V317.9M455.5 313.8V318.8M456.5 313.5V318.4M457.5 314.3V318.3M458.5 314.1V318.5M459.5 313.9V317.1M460.5 313.7V317.8M461.5 313.8V317.2M462.5 312.5V316.7M463.5 312.9V316.7M464.5 313.2V317.2M465.5 312.4V316.7M466.5 311.8V316.2M467.5 313V316.1M468.5 312.2V316.6M469.5 312.8V317.4M470.5 312.9V320.3M471.5 313.3V322.3M472.5 314.7V323.8M473.5 314.8V324.2M474.5 313.8V323M475.5 313.5V320.6M476.5 314.1V318.8M477.5 312.5V318.1M478.5 311.7V318.2M479.5 312V318.1M480.5 310.9V317.3M481.5 310V316M482.5 310.2V314.5M483.5 309.3V314.4M484.5 307.5V315M485.5 306.5V314.6M486.5 305.9V313M487.5 305.9V312.7M488.5 305.5V313.1M489.5 306V313M490.5 304.8V313.1M491.5 305.6V313.3M492.5 305.5V314.2M493.5 305.7V314.1M494.5 305.1V312.9M495.5 305.5V313.1M496.5 305.9V313.7M497.5 305.7V313.2M498.5 305.5V314.2M499.5 305.9V313.4M500.5 305.8V313.7M501.5 306.3V314M502.5 305.2V313.1M503.5 305.4V314.3M504.5 305.7V313M505.5 306.2V313.7M506.5 305.6V313.2M507.5 306.4V313.9M508.5 306.8V313.4M509.5 308.9V316.4M510.5 312.3V317.3M511.5 311.2V317.8M512.5 311.2V316.4M513.5 311V317.5M514.5 310.7V316.4M515.5 310.3V315.6M516.5 310.7V315.4M517.5 309.7V315.6M518.5 309.2V314.6M519.5 308.5V315.7M520.5 309.9V314.9M521.5 310V315.3M522.5 309.6V314.2M523.5 309V313.8M524.5 309.9V313.7M525.5 310.3V314.7M526.5 310.1V314.4M527.5 310.1V314.3M528.5 309.3V315.1M529.5 308.8V314.9M530.5 309.6V315.1M531.5 310.1V313.8M532.5 309.3V314.5M533.5 309.7V313.9M534.5 310.1V313.8M535.5 308.7V315.2M536.5 309.5V315.2M537.5 309.2V315.3M538.5 310.1V314M539.5 309.1V313.9M540.5 309.5V313.9M541.5 309.8V314.2M542.5 310V314.5M543.5 309V314.2M544.5 310V314.5M545.5 309.7V314.5M546.5 309.7V314.1M547.5 309.7V314.1M548.5 310.1V314.1M549.5 309.5V314M550.5 308.5V315.3M551.5 310V314M552.5 309V314.5M553.5 308.5V314.6M554.5 309V314.6M555.5 309.5V314.7M556.5 308.5V315M557.5 308.7V314.8M558.5 309.5V314.1M559.5 309.9V315.6M560.5 309.1V314.2M561.5 309.1V315.3M562.5 309.4V315.5M563.5 309.6V315.3M564.5 309.5V314.6M565.5 309.3V316.2M566.5 311.2V317.1M567.5 313V318.3M568.5 313.6V319M569.5 312.9V319.1M570.5 312.8V317.6M571.5 312.6V317.1M572.5 311.6V316.9M573.5 312.8V316.4M574.5 312.5V317.5M575.5 312.7V317M576.5 312.1V316.7M577.5 311.8V317M578.5 312.7V317.3M579.5 311.4V317.3M580.5 311.3V317.5M581.5 311.5V316.2M582.5 312.4V316.4M583.5 312.1V316.8M584.5 311.4V316.3M585.5 312.6V317.6M586.5 312.8V317.8M587.5 312.8V316.4M588.5 312V318M589.5 312.7V318.1M590.5 311.7V316.7M591.5 311.3V316.7M592.5 311V316.7M593.5 311V316.3M594.5 311V317M595.5 311.7V316.4M596.5 311.1V315.3M597.5 311.1V315.6M598.5 309.8V315.9M599.5 310.4V314.9M600.5 309.6V315.2M601.5 309.5V314.3M602.5 310.7V314.4M603.5 310.4V314.8M604.5 310V315M605.5 310.3V314.3M606.5 310.6V314.1M607.5 310.5V315M608.5 309.8V315.5M609.5 310.4V314.6M610.5 310.7V315.3M611.5 309.4V314.2M612.5 310V315M613.5 310.4V315.6M614.5 310.6V314.5M615.5 310.2V314.8M616.5 310.2V314.2M617.5 309.7V314.8M618.5 310.6V315.5M619.5 310.7V314.9M620.5 309.3V315.5M621.5 310.2V314.7M622.5 310.1V314.6M623.5 310.3V315.4M624.5 310.1V314.8M625.5 310.4V314.1M626.5 310V314.2M627.5 309.5V315.4M628.5 309.7V314.7M629.5 309.6V314.5M630.5 310.4V314.5M631.5 309.9V315.1M632.5 310V315.4M633.5 310V314.5M634.5 309.6V314.8M635.5 310.6V313.8M636.5 310.3V314M637.5 309.7V313.8M638.5 310.2V314.9M639.5 309.7V314.2M640.5 309.9V314.4M641.5 309.7V314.1M642.5 310.2V315.2M643.5 309.4V314.8M644.5 309.7V314.3M645.5 310.5V315M646.5 310.4V313.9M647.5 309.7V314.2M648.5 309.7V314.6M649.5 309.3V314.4M650.5 309.7V313.8M651.5 309.1V314.7M652.5 309.3V314.3M653.5 310.1V314.1M654.5 309.8V315.1M655.5 309.8V313.7M656.5 310.3V313.9M657.5 309.9V313.7M658.5 309.5V314.3M659.5 309.4V314.4M660.5 309.2V314.1M661.5 309.8V314.4M662.5 310V314.2M663.5 310.2V314.8M664.5 309.7V314M665.5 309.6V314M666.5 309.8V315M667.5 309.4V314.8M668.5 310.1V313.7M669.5 309.4V314.7M670.5 309.7V314.6M671.5 309.1V314.9M672.5 309V313.4M673.5 309.9V314.8M674.5 309.4V314.6M675.5 309.6V313.6M676.5 309V314.4M677.5 309.8V313.6M678.5 309.7V313.3M679.5 309.8V314.2M680.5 309.8V314.7" stroke="#0a24fa" stroke-width="1.05" fill="none"/>
<path d="M412.8 319.4h0M504.6 307h0M565.9 313.9h0M475.4 314.4h0M415.9 319.8h0M505.3 303.9h0M680.6 309.6h0M596.1 314.8h0M459.2 313.8h0M452.1 314.1h0M437.6 322.3h0M478.5 313.6h0M597.2 313.9h0M486 307.2h0M552.8 313.4h0M634.1 305.9h0M473.9 314.3h0M448.8 314.8h0M469.7 310.1h0M552.2 311.1h0M632.2 312.7h0M618.1 310.9h0M582.2 306.3h0M404.3 306h0M526.7 312.9h0M436.4 326.2h0M401.6 316h0M574.6 299.7h0M476.1 316.1h0M404.2 308h0M524.9 312h0M405.6 313.4h0M611.8 312.6h0M598.6 313.5h0M649.7 310h0M424.3 324.5h0M620.2 312.2h0M462.6 317.5h0M444.8 312.4h0M459.2 314.6h0M538.6 310.5h0M402.1 309.1h0M495.9 309.5h0M579.2 314.1h0M516.5 314.9h0M536.4 310.7h0M593 314.1h0M666.2 312.4h0M612.5 309.9h0M500.4 306.7h0M426.8 324.6h0M611.1 313.8h0M450.1 313.3h0M517.7 310.7h0M418.2 321.9h0M496 312.6h0M662.8 313.4h0M413.7 327.2h0M486.9 308.9h0M483.6 307.9h0M666.4 309.1h0M647.1 312.5h0M499.5 306.7h0M656.6 309.7h0M584.7 318.4h0M673.1 314.1h0M669.3 309.4h0M621 311.2h0M522.8 311.8h0M407.4 307.7h0M505.3 311.7h0M439.9 323.8h0M607.1 310.2h0M677.9 311.9h0M529.5 310.2h0M570 322.2h0M487.3 310.7h0M658.9 309.8h0M678.1 313.5h0M471.7 313.9h0M459.6 313.8h0M626.6 312.6h0M610.7 311.5h0M657.1 310.1h0M417.4 320.4h0M436.6 324.4h0M597.4 315.5h0M416.7 324.2h0M614.5 315.3h0M502.2 309.7h0M496.5 310.1h0M623.4 311h0M606.4 314.2h0M435.7 328.4h0M643.1 308h0M493.3 307.8h0M538.5 310.2h0M658.6 315h0M672.6 313.5h0M568.5 317.5h0M522.8 314.4h0M578.6 325.3h0M498.3 308.4h0M479 314.7h0M481.7 312.4h0M403.4 314.5h0M544.6 312h0M515.8 314.5h0M628.4 309.5h0M665.3 312.4h0M515.2 314.5h0M438.2 327.4h0M621.6 314.1h0M546.4 313.6h0M530.7 313.1h0M428.7 322.6h0M504.2 305.8h0M654.3 309.7h0M611.8 313.8h0M615.5 314.9h0M490.3 304.7h0M487.1 307.8h0M503.8 311.7h0M470.5 310h0M671.3 315.7h0M505.8 309.9h0M606.7 308.2h0M449.9 315h0M580.1 312.3h0M491.5 312.7h0M546.2 312.4h0M499.3 309.2h0M602.5 309.3h0M569.4 319.4h0M567.9 314.2h0M579.3 326.5h0M520.4 313.5h0M585.5 313.4h0M486 305.1h0M532.4 311.5h0M597.2 314.2h0M593.4 314h0M526.6 313h0M646.6 308.1h0M654.9 308.3h0M403.4 303.8h0M584.4 325.4h0M648.6 313.7h0M401.4 306.2h0M557.9 309.6h0M603.7 310.2h0M497.1 311.5h0M525.9 309.9h0M583.4 315.1h0M536.2 310.6h0M435.9 323.5h0M661.2 315.2h0M490.8 308.3h0M656.5 312.9h0M574.6 320.2h0M416.8 320.5h0M511.5 314.9h0M477.5 316.4h0M608.9 311.6h0M471.1 319.9h0M632.8 310.2h0M596.2 317.3h0M638.2 307.7h0M503.4 316.2h0M660.4 315h0M460.2 312.8h0M493.1 314.2h0M657.4 310.8h0M586.8 315.9h0M548.1 313.1h0M570.3 315h0M607.3 309.9h0M613.7 308.9h0M674.9 312.6h0M415.6 323.3h0M604.2 311.6h0M619.9 315.9h0M595.3 314.2h0M656.1 310.5h0M577 320.5h0M469.7 314.7h0M575.5 311.1h0M589.8 317.8h0M461.8 315.6h0M560.8 311.3h0M549.8 312.7h0M447.3 313.8h0M657.8 311.3h0M531.1 312h0M564.1 311.4h0M502.4 306.2h0M541 311.4h0M625.9 310.9h0M636.3 308.2h0M432.8 323.5h0M613.5 312.2h0M531.5 308.3h0M505 313.7h0M537.8 314h0M410.6 305.9h0M506 307.5h0M673.8 312.3h0M402.7 304.6h0M654.2 309.5h0M592 317.7h0M465.6 314.3h0M412.3 316h0M642.3 313.3h0M625.5 312.8h0M502.5 307.6h0M462.8 310.3h0M609.8 311.4h0M477.6 314.1h0M434.8 327.3h0M570.8 317h0M442.3 323.3h0M597.8 315.3h0M543.7 309h0M502.5 307.3h0M562 311.2h0M448.9 314.4h0M559.9 311.5h0M631.9 305.5h0M549 311.7h0M628.5 311.8h0M549.8 311.9h0M419.1 325.4h0M441.1 319.4h0M542.6 309.1h0M536.6 314.1h0M569.5 316.5h0M473 320.9h0M520.6 310.9h0M542.2 309.5h0M634.6 310.4h0M566 317.9h0M415 319.9h0M509.5 315.1h0M544.7 315.4h0M652.1 314.5h0M437.6 325.3h0M430.4 325.3h0M404.4 305.5h0M622.4 313.5h0M556.5 310.1h0M472 310.6h0M434.3 325.4h0M619.9 312h0M441 323.3h0M500 314.8h0M453 315.1h0M668.7 310.4h0M586.4 312.8h0M680.3 312.4h0M473.8 318.7h0M514.4 311.7h0M539.7 309.9h0M467.6 310.8h0M550.9 309.8h0M430.8 324.9h0M428.6 320h0M409.6 316.1h0M426.7 326.6h0M589 316.5h0M578.1 315.9h0M500.8 310.1h0M442.8 322.3h0M671.9 309.9h0M429.5 319.5h0M640.8 312.1h0M572 320.6h0M679.1 309.2h0M639.8 309.8h0M452.4 312.6h0M436.8 327.1h0M476.8 313.5h0M429.9 322.1h0M567.9 320h0M622.4 311.6h0M586.8 317.6h0M422 322.2h0M632.6 312.1h0M556.3 311.6h0M437.5 324.9h0M444.3 317.3h0M673.9 311h0M505.9 307.5h0M600.3 313.6h0M458.1 311.4h0M671.8 309.7h0M659.2 311.7h0M512 315.1h0M491.8 307.4h0M532.9 310h0M668.8 311.1h0M580.2 322.9h0M643.6 308.9h0M600.6 309.9h0M562.6 314.6h0M591.6 317h0M421.7 324.8h0M534.5 311.3h0M559.2 313.6h0M495.5 308.2h0M530.3 314.6h0M588.9 313.4h0M409.4 312.6h0M523.3 311.2h0M461 314.4h0M609.5 311.9h0M457.8 316.1h0M623.7 315.6h0M564.5 312.9h0M581.9 312.7h0M668.7 311.4h0M586.5 318.2h0M409.2 307.8h0M572.5 319.7h0M592.4 314.8h0M593 315.6h0M673.6 311.6h0M416.2 322.8h0M674.4 315.2h0M464.2 309.9h0M669.2 310.2h0M663 311.3h0M507.2 314.2h0M605.3 309.7h0M643.9 314.4h0M480.6 311.2h0M473.5 318.7h0M517.6 310.7h0M401.8 312.2h0M674.2 312.8h0M668.8 313h0M551.9 309.4h0M433.2 323.7h0M486.5 307.8h0M434.4 324.3h0M531.8 313.9h0M673.7 314.5h0M424.6 324.7h0M618.5 315.4h0M515.1 309.5h0M525.9 312.4h0M591.7 315.4h0M536 314.3h0M653.9 315.3h0M578.8 311.7h0M536.1 311.3h0M606.7 313.4h0M408.4 311.6h0M562.3 311.1h0M439.1 320.3h0M505.2 307.7h0M443.1 323.1h0M640.8 312.3h0M512.4 314h0M477.2 312.9h0M563.4 310.1h0M429.4 325.2h0M498.3 309.9h0M442.1 324.5h0M410.8 312.5h0M586.6 315.7h0M533.4 309.1h0M626 315.2h0M666.2 314.4h0M425.1 325.1h0M659.6 311h0M660.2 316.7h0M498.2 308.9h0M424 320.1h0M594.1 315.4h0M473.1 310.6h0M586.9 315.5h0M622.2 312.1h0M578.4 326.5h0M677.9 313.7h0M591.5 312.5h0M444.5 318.4h0M490.9 307.2h0M419.1 321.9h0M509.1 306.7h0M412.8 315.4h0M533.6 311.2h0M544.2 310.8h0M584.7 308.7h0M528.1 312.9h0M574.3 307.2h0M406.2 308.1h0M504.3 309.8h0M537.9 312.4h0M411.9 316.8h0M413.4 318.6h0M610.7 309.6h0M612 313.9h0M440.5 322.4h0M493.9 312.7h0M627.2 309.8h0M516.1 311.2h0M534.8 312.1h0M494.5 310.3h0M531.2 308h0M519.5 311.5h0M639.6 313.8h0M551.1 312.1h0M432.8 320.2h0M539.7 311h0M548.8 310.5h0M445.7 313.4h0M466 312.1h0M437.1 322.7h0M609.4 314.6h0M475.5 316h0M657.7 313.1h0M412.2 316.5h0M554.5 311.3h0M596.5 317.7h0M400.8 304h0M459.8 312.8h0M444.1 320.8h0M567 312.8h0M512.9 310.6h0M637.4 313.1h0M495.1 308.1h0M540 311.6h0M495.3 315.6h0M540.1 312.5h0M464.4 309.9h0M468 315h0M561.2 312h0M438.9 324.2h0M557.4 309.9h0M504.5 313h0M403 305.7h0M456 317h0M454.5 313.7h0M486.5 306.5h0M666.8 313.6h0M551.2 309.7h0M551.1 309.6h0M590.6 314.9h0M456.5 317.6h0M591.8 317.7h0M570.7 321.2h0M530 311.9h0M524.2 308.8h0M662.5 315.1h0M505.5 312.7h0M430 321.8h0M661.1 313.1h0M455.9 313.5h0M464.1 312.8h0M444.9 319.3h0M402.9 305.8h0M499.9 313.4h0M503.9 314.4h0M671.2 312.4h0M644 309.4h0M552 312.9h0M630.7 307.9h0M539.5 309.3h0M438.8 323.2h0M417.9 322h0M633.6 308h0M490.2 305.3h0M659.5 314.1h0M641.3 310.8h0M623.3 309.6h0M637.3 311.9h0M499 308.9h0M442.5 323.2h0M432.7 322.6h0M632.3 309.7h0M661.8 309.8h0M425.9 327.9h0M451.5 313.2h0M584.3 310.9h0M475.3 317.4h0M565.6 311.8h0M635.4 312.8h0M429.3 323.2h0M463.7 310h0M444.7 312.2h0M577.6 322h0M501.1 305.4h0M470.5 311.7h0M411.7 311.6h0M544.7 310.5h0M519.5 311.4h0M620 310.8h0M528.7 311.9h0M481.9 314.3h0M491.3 315h0M485.4 309.8h0M472.5 319.8h0M547.2 313h0M548.2 311.7h0M511.2 314.3h0M516.1 313.1h0M647 313.5h0M633.9 308.3h0M522.5 314.6h0M535.7 315.4h0M522.3 312.1h0M469.1 308.7h0M527.4 311.6h0M540.4 311.9h0M546.7 309.2h0M575.8 314.9h0M524.9 308.5h0M440.7 321.7h0M672.9 312.7h0M435.8 325.9h0M663.5 313.5h0M569.9 313h0M663.7 313.5h0M402.3 311h0M434.2 324.9h0M429.6 321.7h0M427.2 325.7h0M603.7 308.1h0M418.5 323.8h0M486.2 302.1h0M649.8 315.2h0M404 307.2h0M629 312h0M445.8 309.7h0M627.1 313.1h0M619.5 313.5h0M576.2 310.1h0M649.4 312.5h0M641.8 315.3h0M418.7 322.2h0M673.1 315.1h0M607 311.7h0M632.8 310.2h0M651.5 310.1h0M635.1 314h0M546.5 311.4h0M676.1 310.9h0M433.2 323.8h0M450.2 315.6h0M678.9 308.6h0M473.7 320.4h0M492.8 309.1h0M607.8 314.7h0M486.2 309.9h0M660 311h0M437.2 322.1h0M646.2 311.3h0M660.5 311.7h0M413.7 321h0M578.3 317.5h0M535.2 310.7h0M469.8 312.6h0M462.1 309h0M501.7 305.7h0M507.8 312.8h0M513.3 314.2h0M481.2 307.8h0M634.6 315.3h0M583.7 309h0M639.5 314.4h0M650.7 313.9h0M664.2 313.2h0M479.8 311.7h0M612.4 312.3h0M448.4 318.3h0M535.9 311.6h0M488.7 312h0M489.2 311.2h0M447 315h0M609.2 312.8h0M642.6 306.2h0M454 317.6h0M437.2 326.2h0M432.4 324.3h0M635.3 313.3h0M679.6 314.7h0M416.3 323.8h0M429.1 324.1h0M640.2 313.7h0M482.9 310h0M452.6 313h0M594.6 313.3h0M637.3 309h0M604 309.8h0M441.4 322.6h0M678.9 312.5h0M585.8 320.7h0M418.7 321h0M570.5 317.2h0M577.8 313.2h0M464.6 310.6h0M456.4 312.7h0M510.6 311.1h0M527.2 314.8h0M680.1 316h0M497 310.2h0M535.6 312.2h0M419.2 323.5h0M524.4 308.7h0M672.4 310.8h0M670.2 310.9h0M627 309.5h0M526.4 312.7h0M542.3 310.7h0M520.2 312.6h0M429.3 326.5h0M451.9 314.5h0M667.5 315.5h0M415.7 322.8h0M662.4 312.3h0M534.6 312.6h0M520.5 310.5h0M664.9 310.8h0M461 313.8h0M509.3 307.1h0M589.9 314.5h0M609.3 309.7h0M503.4 308.1h0M630.2 315.7h0M587.9 316.3h0M654.7 312.3h0M619.8 317.4h0M619.1 316.3h0M592.2 316.5h0M463.7 312.4h0M594 317.6h0M599.6 311.2h0M643.2 308.1h0M583.5 321.8h0M613.4 309.6h0M615.6 315.8h0M572.6 315.2h0M402.4 306.9h0M545.6 313.7h0M645.4 311.4h0M587.7 316.2h0M416.4 325.7h0M593.8 312.4h0M594.1 312.5h0M572.3 316.4h0M653.9 315.1h0M681 310.3h0M556.6 311.3h0M618.2 314.3h0M584.9 315.3h0M651 310.1h0M533.6 314h0M590.5 317.9h0M544.2 311.7h0M622.5 313.3h0M594.6 317.3h0M491.3 310.5h0M674.1 313.4h0M461.1 312.6h0M539.3 313.9h0M507 309.3h0M438 322.4h0M540 311.5h0M630.7 309.5h0M662 311.7h0M465.2 311.7h0M502 308.6h0M539.3 309.2h0M663.5 312.5h0M532.7 311.3h0M525 309h0M476.5 316.6h0M622.5 310.5h0M552.6 312.6h0M593 315.7h0M513.4 315h0M501.4 314.6h0M649.4 313.9h0M552.6 312.9h0M540.1 311.1h0M605.3 309.3h0M609.1 312.2h0M619.3 313.4h0M477.4 314.4h0M592.6 315.2h0M669.7 308.1h0M504.9 315.3h0M445.1 313.8h0M517.3 311.2h0M465.6 313.1h0M546 311.9h0M477.7 311h0M488.9 306h0M480.3 315.9h0M427.4 318.5h0M474.3 319.4h0M503.9 308.8h0M558.2 312.2h0M493.7 311h0M527.7 312.3h0M515.3 315h0M580.6 303.4h0M667.5 312.5h0M609.1 310.9h0M489.4 310.3h0M400.8 313.4h0M543.3 314.2h0M417.8 322.5h0M578.6 304h0M594.9 313.9h0M414.5 321.3h0M602.9 309.7h0M522.5 310.2h0M405.6 311.1h0M480.4 311.7h0M526.3 311.8h0M666.6 310.3h0M594.8 316.8h0M626.6 312.7h0M416.2 325.1h0M405 309.2h0M453.4 315.9h0M637.9 306h0M632.6 307.1h0M680.3 312.3h0M650.3 310.8h0M620.7 313.9h0M584 311.3h0M409.6 312.7h0M556.3 308.7h0M435.5 324.1h0M630.6 313h0M514.3 314.6h0M488.5 306h0M569.3 320.1h0M669 312.1h0M553.3 313.3h0M468.7 312.8h0M555.4 313.1h0M540.7 312.6h0M469.1 312.2h0M607.7 312.1h0M662.7 313.6h0M419.8 320.1h0M424.6 324.5h0M460.1 313.3h0M457.7 314.5h0M403 311.5h0M445.1 312.3h0M546.4 311.5h0M519.3 311.3h0M573.2 317.4h0M596 313.4h0M507 314h0M571.9 313.2h0M415.4 325.9h0M549.9 314.2h0M619.6 311.8h0M481.7 311.9h0M463.2 316.8h0M456.7 316.8h0M411.9 316.5h0M588.2 313.1h0M444.8 316.2h0M413.3 322.6h0M481.1 311.3h0M547.1 311.8h0M424.3 320.5h0M562 309.9h0M404.4 307.4h0M671.9 312.3h0M559.4 314.1h0M503.4 306.3h0M578.8 308.5h0M593.7 315.3h0M403.2 310.6h0M455.1 313.6h0M661.3 311.8h0M592.4 315.6h0M657.8 308.5h0M429.8 325.4h0M402 305.4h0M511.9 314.1h0M436.6 323.1h0M534.7 310.7h0M607.9 313h0M637.7 309.5h0M530.3 310.8h0M421.9 323.7h0M613.8 314.9h0M414.1 322.5h0M451.9 319.1h0M622.5 315.3h0M536.1 312.9h0M562.2 310.7h0M490.2 308.3h0M505.9 307.4h0M481.1 308.7h0M462.4 310.1h0M522.5 311.7h0M613.1 310.1h0M557.6 311.7h0M444.8 314.6h0M567.3 317.3h0M607.3 314.5h0M426 322.5h0M538.4 312.2h0M499.6 311.7h0M429.3 321.4h0M517.2 310.9h0M482.8 312.5h0M529.2 310.5h0M669.3 311.3h0M553 316h0M594.7 315.4h0M439.3 325.3h0M445.6 313.5h0M666.8 313.3h0M417 319.8h0M492.6 309.1h0M442.3 325.8h0M568.7 317.5h0M630.2 307.1h0M590.1 317.1h0M466 313h0M471.1 305.7h0M631.4 306.1h0M603.6 308.6h0M615.8 310.3h0M673 312.4h0M471.9 317.2h0M460.9 312h0M480.3 313.4h0M606.5 309.2h0M547.1 314h0M592.5 317.8h0M620 311.5h0M420.1 324.3h0M490.8 307.2h0M516 315.3h0M403.7 304.3h0M482.2 311.9h0M669.4 312.1h0M417.4 323.2h0M673.1 308h0M424.8 320.3h0M520.5 311.2h0M546.7 313.8h0M472.4 323.7h0M483.5 305.4h0M446.9 313.7h0M498.6 306.1h0M556.5 310.8h0M636.1 310.2h0M542.5 314.6h0M569.8 316.8h0M638.6 309.2h0M644.1 312.3h0M620.1 312.8h0M639.9 311.4h0M520.2 310.3h0M469.3 313.6h0M464.3 309.5h0M614.3 311.2h0M461.2 311.7h0M483.9 306.7h0M594.7 316.8h0M501.5 308.9h0M467 311.2h0M462.6 314h0M417.1 326.9h0M505.2 312.1h0M661.7 313.6h0M633.3 309.3h0M495.1 307.3h0M464.2 312.9h0M409.6 309.8h0M422.9 325.5h0M517.6 314.6h0M602 311.3h0M564.3 309.9h0M526.2 313.1h0M555.7 314.8h0M669.4 310.8h0M409 305.7h0M552.1 314.7h0M612.9 308.6h0M652.5 310.5h0M662.6 311.2h0M577.7 316.7h0M680.1 311.1h0M603.5 310.9h0M498.4 309.7h0M628.4 313.3h0M403 314.6h0M625.5 316.1h0M641.5 307.9h0M628.3 312.3h0M666.9 311.1h0M435.8 326.3h0M537.9 313h0M583 309.1h0M670 311.2h0M431.1 322.7h0M576.2 302.1h0M507.4 309h0M592.5 312.5h0M524 310.9h0M648.6 314.3h0M566.4 316.8h0M511.1 311.9h0M594.5 315.4h0M490.8 300.2h0M487.4 306.8h0M675 312.4h0M429.2 325h0M472.6 308.5h0M573.7 306.5h0M447.9 310.4h0M491.1 303.7h0M590.8 314.9h0M434.5 321.6h0M453.6 312.4h0M598.7 311.5h0M600.2 310h0M578.9 320.3h0M549.3 314.8h0M513.8 314.5h0M513.6 316.5h0M518.4 313.6h0M408.8 312.2h0M477.1 319.8h0M496 316.2h0M597.6 315.6h0M401.8 312.9h0M531.9 313.2h0M578.7 316.9h0M507.2 311.2h0M588.5 317.4h0M554 308.3h0M571.3 312.5h0M542.8 313.9h0M529.3 310.8h0M578.4 307.7h0M558 309h0M600 309.8h0M539.7 313.9h0M407.6 307.5h0M581.9 318h0M422.3 323.1h0M567.6 312.9h0M578.6 316.1h0M431 312.4h0M442.1 315h0M442.5 312.7h0M428.8 313.9h0M424.4 311.7h0M439.9 314.5h0M437.6 313h0M421.6 310.1h0M430.1 312.9h0M436.5 312.8h0M429.1 312.6h0M425.8 312.3h0M416.9 308.9h0M428.5 313.8h0M419 310.3h0M430.1 311.8h0M424.7 313.5h0M417.4 311.2h0M416.9 309.4h0M419.5 311h0M425.3 312.1h0M432.6 312.7h0M421 311.9h0M425.7 312.6h0M436.5 313.8h0M433.3 313.9h0M435.1 311.6h0M424.7 310.1h0M417.8 311.4h0M442.5 314.3h0M421.6 309.7h0M440.5 314.6h0M429.7 310.8h0M416.4 311h0M420.5 311h0M416.6 312.9h0M441.3 313.6h0M428.8 314.1h0M416.5 310.3h0M424.1 313.4h0M431.4 311.6h0M431.1 310.7h0M423.8 312.7h0M424.7 309.9h0M441.2 315.4h0M416.5 311.7h0M447.4 311.2h0M464.6 310.1h0M456.6 311.7h0M454.7 310.5h0M449.9 312.5h0M463.7 308.4h0M463.3 309.7h0M447.7 311.7h0M456.8 310.2h0M466.8 309h0M466.1 308h0M465.9 309.5h0M447.8 309.2h0M457.1 312.2h0M456.9 309.4h0M458.7 311.6h0M451.4 310.6h0M466.1 310.5h0M452.1 310.7h0M451.6 309.8h0M447.3 311.9h0M457.6 308.6h0M449.8 310.7h0M458.5 311.7h0M455.8 310.3h0M462.6 309.3h0M454 311.8h0M450.2 311h0M449.2 310.1h0M464.1 310.8h0M463 309.3h0M451.8 310.6h0M468.2 310.4h0M445.6 311.7h0M456.2 312h0M455.5 309.3h0M452.2 310.1h0M446.5 310.9h0M468.1 306.9h0M459 309h0M460.3 309.1h0M458.3 308.6h0M460.7 308.9h0M467.6 310.2h0M461.7 308h0M467.7 309h0M458.6 309.6h0M456.9 309.9h0M452.5 309.8h0M448.2 311.6h0M448.6 310.3h0M449.2 310.1h0M465.4 310.9h0M465.4 307.1h0M464.4 309.1h0M449.8 312.3h0M468.9 309.3h0M459.9 309.9h0M456.2 310.2h0M446.4 313.3h0M462.7 308h0M445 311.5h0M468.9 306.4h0M468.3 311h0M464 307.5h0M454 308.9h0M449.1 310.8h0M458.2 308.8h0M445.5 311.2h0M457.5 310.7h0M461 311.5h0M449 313.2h0M447.1 312.4h0M456 311.3h0M463.2 310.9h0M458.6 309.7h0M460.6 305.7h0M463.4 305.6h0M464.3 305.8h0M464.3 304.8h0M463 305.8h0M468.3 304.3h0M462.8 305.8h0M617.1 304h0M619.8 305.1h0M619.1 305.1h0M616.9 304.3h0M615.7 304.2h0M619.2 304.7h0M665.6 305.4h0M666.5 305.5h0M666.2 304.1h0M665.6 305.7h0M663.6 305.3h0M663.2 303.8h0M514.9 306h0M516.1 305.8h0M516.4 302.9h0M523 306.8h0M525.9 305.4h0M527.8 308.1h0M527.7 308.5h0M527.2 307.9h0M522.2 304.8h0M519.4 303.5h0M514.7 303.3h0M527.2 307.2h0M513.1 309.3h0M520.5 303.9h0M522.7 307.8h0M514.6 306.5h0M524 309.8h0M513.1 309.4h0M525.3 307.9h0M518.7 303.6h0M520.5 305.2h0M523.2 308.5h0M527.8 308.2h0M518.2 302.7h0M513.8 307.7h0M512.7 304.7h0M522.1 308.6h0M518.2 305.8h0M519.4 304.9h0M526.8 307.4h0M526.6 309.2h0M524.8 305.4h0M514.8 308.5h0M511.2 305h0M522 306.5h0M519.1 302.5h0M527.8 307.1h0M516.4 307.1h0M513.4 306.1h0M522.9 305.3h0M512.8 302.9h0M522.5 306.6h0M515.5 305.5h0M525.1 308.4h0M526.3 309h0M522.4 306.7h0M576 305.1h0M576.8 312.5h0M582.9 303.2h0M583.7 309.9h0M575.9 305.9h0M575.2 306.7h0M582.4 312.4h0M575 299.4h0M578.2 310.9h0M584.2 309.3h0M575.8 310.2h0M580.4 309h0M577.9 305.2h0M578.8 309.9h0M578.6 303.9h0M575.6 305.9h0M575.1 310.7h0M577.8 309.7h0M576.6 305.5h0M581.9 301.6h0M582.6 307.7h0M582.6 311.9h0M584 304.6h0M582 304.8h0M578.1 312.1h0M576.6 308.5h0M581.6 298.7h0M575.1 307.1h0M581 304.2h0M582.8 303.6h0M581.3 304.6h0M584 310.7h0M583 306.5h0M576.5 302.7h0M576.2 308h0M578.7 308.5h0M578.3 305.7h0M580.1 311.8h0M577.3 306.1h0M582.1 308.6h0M584.5 307.6h0M575.6 303.3h0M579.1 312.2h0M576.5 307.4h0M576.9 305.4h0M576.5 305.4h0M606.7 305.1h0M605.9 304h0M605.9 306.7h0M605.3 303.9h0M606.1 306.8h0M606.1 305.7h0M445.9 311.4h0M446 309.3h0M445.7 311.1h0M444.5 307.1h0M444.8 308.7h0M445.6 310.8h0M445.7 307.2h0M444.6 311.1h0M444.7 307.4h0M445.8 312h0M447.7 308.5h0M447 310h0M446.4 310h0M446.7 311.2h0M446.8 309.7h0M446.8 309.4h0M446.8 312h0M447.5 309.5h0M569.3 315.7h0M569.4 315.1h0M569.6 321.1h0M569.5 323.6h0M569.9 319.9h0M569.5 328.8h0M569.9 321.6h0M569.8 323h0M569.6 322.8h0M569.3 322.1h0M569.4 328.5h0M569.2 322.1h0M568.9 327.6h0M569.6 314.2h0M569.3 325h0M568.7 316.6h0M574.1 322.7h0M573.2 328.1h0M574.2 314.1h0M573.3 319.6h0M572.7 322.1h0M573.5 319.2h0M573 327h0M573.8 316h0M573.8 308.5h0M572.9 324.1h0M573.5 316.2h0M573.4 317.4h0M572.9 317.8h0M573.7 314.6h0M573.5 317.4h0M574.1 312.5h0M573.1 322.2h0M573.6 321.7h0M574 312.6h0M574 319.3h0M573.8 318.4h0M573.7 315.1h0M573.2 325h0M573.2 315.3h0M578.1 327.7h0M578.6 319.3h0M578 316.7h0M578.2 314.7h0M578.3 326h0M577.1 330.4h0M577.1 324h0M578.4 325.9h0M577.3 324.6h0M577.4 327.8h0M577.4 319.3h0M577.6 323.9h0M577.9 327.8h0M577.5 317.9h0M578.1 327.7h0M578.1 327.3h0M578.6 324.8h0M577.8 317h0M582.5 324.1h0M582.2 322.5h0M583.2 322.9h0M582.9 322.1h0" stroke="#0a24fa" stroke-width="1.4" stroke-linecap="square" fill="none"/>
<path d="M674.3 313.6h0M497.5 312.5h0M584.7 309.1h0M511.4 314.9h0M414.5 327.2h0M575.1 330.4h0M464.5 313.5h0M505.9 310.8h0M608.4 312.6h0M477.2 317.3h0M445.2 319.7h0M572.6 314.1h0M472.8 321.3h0M612.2 309.8h0M442.9 323.3h0M441.8 321.9h0M485.8 304.8h0M400.5 312.9h0M471.7 317.5h0M560.6 312.3h0M525.7 313.8h0M533.8 315h0M554.2 308.7h0M539.1 310.1h0M427.1 318.4h0M427.3 324h0M570.3 312h0M624.4 311.2h0M426.2 326.2h0M558.2 311.2h0M596.7 313.3h0M669.2 313.9h0M563 313.2h0M433.5 325.4h0M499.3 314.7h0M428.7 324.4h0M494.6 308.3h0M594.8 315.7h0M446.3 317.7h0M665.6 314.2h0M518.5 312.8h0M540.2 312.5h0M607.3 311.4h0M496 312.1h0M533 312.8h0M486.7 310.6h0M571.2 317.5h0M615.6 312.1h0M680 312.4h0M511.9 317.7h0M625.8 313.1h0M669 312.6h0M591.3 315.6h0M467.8 311.5h0M490.8 307.5h0M416.2 324.7h0M678 312.8h0M626 310.6h0M521.7 312.2h0M560.1 308.5h0M527.7 312.7h0M418.3 319.3h0M435.6 321.7h0M619.5 308.9h0M526.1 310.5h0M451 316.1h0M410.3 310.1h0M452 316.6h0M533.1 313.6h0M506.8 305h0M624.6 310.5h0M601.4 311.8h0M650.3 311.4h0M431 323.6h0M434.3 324.4h0M414.5 323.4h0M660.2 308.1h0M455.6 315.4h0M507.8 313.4h0M615 311.1h0M608.5 307.6h0M601.7 308.4h0M604.7 311.5h0M496.7 315h0M560.7 313.4h0M658.7 311.4h0M587.2 314.6h0M432.3 325.3h0M558.9 314.2h0M486.8 303.9h0M626.7 307.5h0M518.2 312.8h0M457.4 314.9h0M469.6 315.8h0M421.2 325.2h0M622.3 312.2h0M533.3 310.2h0M434.8 322.5h0M649.1 308.1h0M671.5 312.6h0M673.9 314.3h0M555 312.5h0M563.8 312.9h0M517.5 309.7h0M477.2 317.4h0M454.8 317.4h0M412.2 319.6h0M545.7 312.8h0M663.4 312.8h0M659.9 313.6h0M488.3 302.2h0M482.5 313.6h0M409.7 310.3h0M422.6 324.2h0M620.6 308h0M635.2 308.2h0M635 315.9h0M486.7 304.6h0M680 309.2h0M463.3 313.1h0M564.9 312.4h0M515.7 316h0M540.3 308.6h0M525.1 309h0M650.2 309.6h0M678.8 314.6h0M489.9 312.5h0M579 306.2h0M666.5 310.8h0M423.2 321h0M481.3 314.9h0M612.5 308.3h0M628.9 314.7h0M406.5 310h0M455.5 313.1h0M626.9 314.7h0M554.6 314.2h0M626.8 316.2h0M660.4 314.5h0M677.8 313.5h0M404.4 304.5h0M528.7 313.9h0M576.5 318.9h0M498.8 313.6h0M510.2 312.7h0M637.8 313.3h0M606 308.6h0M566.4 321.9h0M517.9 312.4h0M665.5 314.4h0M519.9 312.1h0M550.7 312.9h0M649.6 315.9h0M503.4 308.4h0M452.1 314h0M509 308.8h0M533 312.2h0M454.6 316.9h0M600.3 310.9h0M457.7 310.5h0M419 322.4h0M485.7 312.2h0M546.1 310.4h0M633.8 313.3h0M617.3 310.8h0M505.8 310.2h0M634.2 309.6h0M499.5 312.1h0M672.2 309h0M467.7 311.1h0M469.5 312.8h0M666.7 310.2h0M582.3 307.4h0M475.2 314.5h0M473 317h0M519.7 313.8h0M405.5 307.6h0M479.6 315.2h0M479.8 316.2h0M599.5 311.5h0M563 311.6h0M451.9 311h0M469 313.4h0M552.5 311.7h0M492.3 308.4h0M481.9 312.4h0M406.4 313.1h0M656.6 315.1h0M560.9 314.6h0M401.4 311.7h0M472.4 319.8h0M444.2 317h0M677.9 311.6h0M649.9 310.5h0M475.4 315.9h0M454 316.2h0M548.1 312.8h0M437 321.9h0M529.7 308.9h0M566.6 319h0M652.4 313.6h0M457.5 313.3h0M545.1 314.6h0M438.6 325.3h0M616.7 314.8h0M496.2 308.4h0M678.3 312.5h0M406.7 311h0M633.1 309.7h0M481.3 309.9h0M519.9 313.7h0M513 311.7h0M421.5 322.4h0M465.5 310h0M485.5 312.9h0M475.5 320.3h0M510.7 314.7h0M508.8 310.4h0M675.6 312.8h0M427.8 323.2h0M617.9 311.8h0M457.4 310.8h0M664.9 310.7h0M586.7 314.2h0M533.6 310.8h0M582.4 326.9h0M674.6 309h0M560.6 312.2h0M454 315.2h0M542 309.5h0M427.3 324h0M648.8 311.8h0M578.2 309.1h0M664.2 311.4h0M680.5 315.2h0M578.7 313.8h0M414.9 322.1h0M466.7 312.4h0M543.1 314.4h0M528.2 310h0M659.8 308.8h0M646.7 312h0M594 317.8h0M587.2 318.1h0M667.3 312.1h0M611.8 310.2h0M629.9 309.3h0M627 307.8h0M460.6 314.6h0M416.2 324.3h0M593.8 313.9h0M558.6 312.7h0M469.1 311.4h0M619.3 314.7h0M583 319.9h0M484.8 311.6h0M538.2 310.4h0M599.5 308.8h0M439.2 327.1h0M577.2 325.4h0M645.2 307.7h0M449.7 311.3h0M476.6 317.1h0M481.2 314.7h0M676.6 311.7h0M418.4 320.1h0M577.8 310h0M609.4 314.1h0M603 309.2h0M516.5 312.1h0M628.4 310.3h0M559.6 313.9h0M633.2 311h0M508.1 313.6h0M456.9 312.9h0M442.9 319h0M597.6 314.7h0M432.1 328h0M635.7 310.6h0M553.3 313.5h0M541.8 311.3h0M483.5 305.8h0M567.2 320h0M400.9 305h0M489.8 302.3h0M505.5 312.1h0M522.1 311.9h0M453 312.6h0M450.2 315h0M488.3 306.3h0M429.2 326.3h0M472.3 315.4h0M614.6 312.8h0M544.5 311.5h0M547.7 313.2h0M639.1 308.4h0M591 315.1h0M449.4 318.7h0M535.3 312.7h0M499.3 304.1h0M507 310.7h0M430.9 322.4h0M483.7 302.7h0M536.5 307.8h0M603.5 313.5h0M559 308.7h0M541 310.3h0M651.2 312.1h0M633.3 311.1h0M636.9 308.6h0M484 308h0M609.5 311.6h0M455 315.7h0M546 315.6h0M439.6 324.4h0M664.5 311.3h0M426.6 326.7h0M559.3 311.3h0M534.8 311.1h0M462.3 313h0M500.8 309.7h0M652.3 310.8h0M557.9 313.6h0M636.1 311.7h0M592.7 315.2h0M527 313.4h0M653.7 312.9h0M531.2 311.4h0M499.2 306.3h0M433 328.4h0M440.8 320.7h0M668.6 311.8h0M592.1 316.5h0M593.6 316.2h0M503.6 312.4h0M582.3 304h0M558.5 312h0M431.7 323.9h0M661.3 315.2h0M638.6 308.9h0M477.9 311.8h0M586.4 313.7h0M464.5 316.6h0M601.2 311.6h0M655.6 314.7h0M427.3 320.8h0M442.9 320.3h0M459.2 313.4h0M535 314.1h0M641.9 305.3h0M648 312.1h0M611.6 311.8h0M648.4 308.1h0M575 311.4h0M621.8 312.6h0M589.1 316.1h0M459.5 313.1h0M461.5 310.5h0M537.5 313.5h0M607.7 310.1h0M496.8 314h0M613.5 310.4h0M485.6 308.9h0M433.3 323.9h0M645.2 310.5h0M471.9 321.9h0M604.2 313.7h0M484.4 310.9h0M547.6 312.2h0M628.4 308.7h0M522.5 309.9h0M550.9 311.7h0M555.6 309.3h0M593.6 316h0M677.7 311.8h0M560.6 310.4h0M464.3 311.1h0M589.6 316.1h0M514.2 312.3h0M565.7 316.2h0M542.3 314.7h0M666.4 313.8h0M483.7 310.6h0M618.9 313.2h0M672 313.5h0M484.4 310.6h0M673.6 313.1h0M456 314.2h0M673.2 311.7h0M461.2 314.2h0M444.8 316.4h0M600.8 311.9h0M458.5 308.4h0M619.8 313h0M645.7 310.7h0M482.4 307.5h0M504.4 312.1h0M486.3 306.1h0M593.2 316.3h0M578.2 312h0M630 308.6h0M481.8 312.1h0M612.3 314.7h0M478.9 315.4h0M575.5 324.4h0M425.9 320.7h0M620 314.2h0M429.8 321.5h0M625.3 314.6h0M632.6 311.5h0M646.2 312.4h0M528.5 311h0M548.9 311.3h0M661.2 310.4h0M523.3 314.5h0M528.2 313.5h0M635.7 312.1h0M661.4 312.6h0M426.3 323.9h0M484.9 305.5h0M599.8 313.7h0M587.1 314.4h0M557.4 310.5h0M680 310.9h0M570.6 321.3h0M550.4 315.5h0M663.6 313.5h0M441.6 324.9h0M480.9 313.2h0M411.8 317.2h0M539.1 312.3h0M678.2 312.2h0M500.1 313.1h0M521.5 310.3h0M578.7 314.3h0M661.9 310h0M433.9 324.4h0M524.2 309.5h0M602.6 310.7h0M468.3 314.6h0M670.6 309.5h0M424.6 324.3h0M501.7 305.4h0M636.5 308.7h0M670.9 311.1h0M551.3 308.8h0M449.2 318.1h0M620.2 312.8h0M502.9 312.1h0M580.7 308.6h0M449.4 314.2h0M611.8 310.8h0M575.5 317.5h0M563.3 311.6h0M615.4 315h0M451.5 311.7h0M522.6 310.7h0M451.8 315.9h0M511 312.2h0M617.6 311.1h0M482.6 311.4h0M484.9 305.1h0M561.3 310.5h0M484.3 305.1h0M566.1 326.7h0M508.3 309.9h0M429.4 319.6h0M415.1 325.1h0M530.3 312.4h0M634.9 305.6h0M602.2 312.7h0M423.1 321.1h0M647.2 311h0M589.1 312.7h0M420.2 326.3h0M626.9 311.3h0M447.6 313.9h0M477.4 313.9h0M538.9 313.3h0M474.6 319.8h0M548.4 310.8h0M642.5 306h0M528.4 311.7h0M518.9 311.3h0M417.8 323.1h0M401.4 303h0M607.3 312.3h0M412 318.7h0M428.6 328.3h0M453.4 312.7h0M613.5 313.7h0M439 322.8h0M485.9 304.6h0M552.5 311.6h0M616.6 316.7h0M576 317.9h0M579.7 320.4h0M584.2 308h0M594.6 316.9h0M432.4 323.4h0M509.8 312h0M662.6 311.9h0M585.3 323.9h0M612 312.4h0M499.7 307.4h0M515.2 317.3h0M531.8 310.7h0M428.2 319h0M475.4 313.2h0M592 316h0M603.3 313.5h0M564.3 310.9h0M568.4 315.4h0M469 311.7h0M600 309.9h0M539 311.6h0M670.7 313.2h0M491 309h0M555.8 312.6h0M462.9 310.3h0M529.6 314h0M652.2 311.6h0M592.5 313.9h0M573.2 305.3h0M628.9 312.7h0M465.8 311.6h0M438.8 321.1h0M443.5 321.6h0M426.5 321.9h0M448.6 311.7h0M541.5 309.4h0M420.3 325.2h0M628.6 310.6h0M496.5 307.4h0M455.1 316.3h0M453.8 318.6h0M423.5 325.2h0M568.3 322.1h0M471.8 316.7h0M429.3 321.2h0M455.5 312.6h0M678 309.3h0M439.5 320.3h0M425.2 309.9h0M438.7 312.8h0M417.2 311.5h0M434.6 312.4h0M438.5 313.7h0M427 309.8h0M424.4 309.9h0M421.5 312.6h0M422.3 312.3h0M439.7 315.2h0M438.9 312.1h0M432.4 313.5h0M416.5 309.7h0M435.6 313.1h0M437.6 314h0M438.8 312.3h0M438.6 313.6h0M423.4 312.3h0M435.3 312.5h0M428.3 312.9h0M423 312h0M425.4 312.5h0M435.7 314.4h0M435.4 312.9h0M451.3 310.3h0M446.1 311.2h0M460.3 309.4h0M454.2 309.5h0M449.3 309.5h0M468.3 310.1h0M449 309.3h0M465.3 309.2h0M460.7 310.9h0M453.6 310.5h0M448 311.3h0M445.5 310.9h0M460.4 306.6h0M455.9 311.2h0M464.2 309.8h0M453.5 312.6h0M446.9 310.1h0M445.2 310.3h0M445.6 310.1h0M454.9 312.6h0M449.7 308.6h0M448.3 311.3h0M445.8 311.5h0M465 308h0M464.9 311.4h0M449.9 310.1h0M466.3 309.6h0M468.8 307.1h0M454.7 310.7h0M461.5 308.4h0M458.3 309.8h0M463 308.6h0M454.3 309.8h0M451.6 310.7h0M455.5 311h0M454.2 312.8h0M452.2 310.9h0M449.4 311h0M463.3 307.1h0M458.5 307.9h0M456.7 310.4h0M457 310.8h0M446.7 312.6h0M446 311.1h0M460.6 304.7h0M467.8 304.8h0M469.5 306.4h0M463.6 306.2h0M467.5 304.7h0M468 306.1h0M462.3 304.8h0M617.6 303.5h0M615.9 305h0M527.5 310.3h0M526.5 309.9h0M512.5 309.6h0M520.3 306.1h0M514 307.1h0M522.6 304.2h0M513.7 308.6h0M521.9 306.9h0M516.2 306.6h0M511.5 306.1h0M513.3 304.4h0M524.7 308.8h0M522 307.6h0M523.9 306.4h0M582.5 301.9h0M579.8 305.8h0M579.1 301.7h0M582.3 302.3h0M574.3 306.3h0M584.4 306.6h0M575.9 311h0M576.1 309h0M581 305h0M576.9 308.4h0M578.8 305.5h0M577.4 306.1h0M575.5 306.3h0M584.7 311.4h0M578.6 309.7h0M581.8 309.9h0M578.5 310.3h0M575.1 307.2h0M576.6 309.8h0M575.7 304.6h0M578.5 308.2h0M577.3 305.4h0M583.7 311.1h0M578 308.1h0M575.4 304.6h0M577.9 305.1h0M578.3 301.7h0M579.4 303h0M578.2 305.1h0M581 307.4h0M574.1 305.6h0M583.5 306.7h0M579.5 306.9h0M583.8 306.2h0" stroke="#0a24fa" stroke-width="1.4" stroke-linecap="square" fill="none"/>
<path d="M566.9 316.1h0M569.3 316.7h0M566.2 315.8h0M569 315.6h0M570.7 315.9h0M570.8 317.7h0M566.7 314h0M571.7 318.1h0M570.8 317.8h0M569.9 315.4h0M568.6 317.9h0M567.1 317.5h0M567.3 314.5h0M571 316.1h0M566.1 315h0M567.6 316.8h0M568.2 315.5h0M568 315.6h0M569.6 317h0M570.3 315.4h0M570.5 317.3h0M569.5 315.9h0M566.4 316.9h0M570.1 318h0M568.3 316.8h0M569.5 318.8h0M570.4 317.3h0M567.8 318.8h0M571.8 317.4h0M570.9 315.1h0M568 317.1h0M566.4 316.3h0M566.6 316.8h0M570.9 316.3h0M568.1 318.8h0M571 317.1h0M570.3 314.6h0M570.3 316.5h0M571.3 317.2h0M569.2 315h0M573.9 324.6h0M573.5 317.5h0M573.3 321.1h0M573.3 311h0M573.7 321.9h0M573.1 312.4h0M573.3 316.5h0M573.6 324.4h0M573.2 319.7h0M573.8 327h0M573.7 316.6h0M574 320.2h0M573.7 318.3h0M573.2 321.8h0M569.3 322.5h0M569.6 322.2h0M569.1 322h0M569.8 319.7h0M569.6 328.2h0M569.2 323.3h0M569.1 321.9h0M569.6 320.7h0M569.7 318.1h0M569.2 324.6h0M578.3 320h0M577.8 324.9h0M577.9 323.2h0M578.3 325.1h0M578.3 321.1h0M577.5 326.3h0M578.4 326h0M578.3 321.2h0M578.2 319h0M577.7 322.4h0M577.1 313.2h0M577.3 314.2h0M582.4 310.3h0M578.9 311.6h0M578.5 310.2h0M577.7 308.7h0M577 316h0M575 313.4h0M583.1 308.9h0M583.7 312.9h0M580.7 310.1h0M582.6 310.9h0M575.2 313.1h0M577.2 309.3h0M583 314.2h0M579.7 309.9h0M584 311.7h0M583.9 310.4h0M577.7 313.7h0M574.9 313.5h0M581.5 312.6h0M583.4 312.1h0M583.8 311.7h0M579.2 310.5h0M575.2 312.4h0M581.6 308.9h0M582.5 316.7h0M583.3 311.3h0M583.3 310.8h0M582.6 311.9h0M574.7 306.9h0M575.3 313h0M576.6 311.7h0M579.2 307h0M577 315.2h0M581.4 314.5h0M583.2 308h0M578.8 310.8h0M581.5 313.4h0M578.7 314.7h0M577.6 308.5h0M580.9 312.5h0M583.8 311.9h0M584 310h0M582.5 308.3h0M585.9 314.9h0M593 313.1h0M594.8 313.3h0M592.4 315.5h0M586 315.1h0M589.5 313.7h0M592.2 316.8h0M592.9 314h0M588.3 314.2h0M593.6 314.6h0M589.1 314.3h0M591.7 315.1h0M588.5 315.5h0M586.1 316.7h0M588 314.4h0M593.3 315.5h0M590 312.9h0M584.8 316.7h0M585.1 314.8h0M588.6 314h0M590.1 315.4h0M593.7 317h0M586.6 313.7h0M589.5 316.9h0M587.2 312.8h0M588.5 313.8h0M595.3 315.7h0M584.2 313.2h0M595.1 317.3h0M589.5 316.8h0M587.3 314.2h0M589.1 313.2h0M592.9 311.7h0M586.3 316.3h0M587.6 314.5h0M592.1 313.6h0M592.5 314.3h0M585.9 312.4h0M584.6 315.4h0M592.1 315.3h0" stroke="#000" stroke-width="1.3" stroke-linecap="square" fill="none"/>
<polyline points="510,312.5 514,308.5 519.4,302.5 523,307.5 528,309.5" stroke="#0a24fa" stroke-width="1.7" fill="none"/>
<polyline points="416,310.8 420,311.2 425,312.6 430,313.8 437,314.3 444,314.6" stroke="#0a24fa" stroke-width="1.7" fill="none"/>
<polyline points="444.5,312 447,307.5 450,311.5" stroke="#0a24fa" stroke-width="1.7" fill="none"/>
<polyline points="400.5,308.6 401.5,308.8 402.5,309.4 403.5,310.1 404.5,310.9 405.5,311.4 406.5,311.8 407.5,312.7 408.5,313.7 409.5,315 410.5,316 411.5,316.9 412.5,318.8 413.5,320.5 414.5,321.5 415.5,322.4 416.5,322.5 417.5,322.8 418.5,322.1 419.5,322.1 420.5,321.6 421.5,321.5 422.5,320.9 423.5,321 424.5,321.3 425.5,320.9 426.5,320.9 427.5,321 428.5,320.8 429.5,320.7 430.5,320.9 431.5,321.2 432.5,321.1 433.5,321.5 434.5,322.1 435.5,322.2 436.5,322.4 437.5,322.1 438.5,321.9 439.5,321.5 440.5,321.7 441.5,321.3 442.5,320.9" stroke="#000" stroke-width="2.2" fill="none" stroke-linejoin="round"/>
<polyline points="444.3,317.4 445.3,317.4 446.3,317.2 447.3,317.1 448.3,316.3 449.3,316.4 450.3,316 451.3,315.7 452.3,315.7 453.3,315.2 454.3,315.2 455.3,314.6 456.3,314.3 457.3,313.7 458.3,313.6 459.3,313.8 460.3,313.7 461.3,312.8 462.3,312.7 463.3,312.8 464.3,312.9 465.3,312.7 466.3,312.6 467.3,312.5 468.3,312.7 469.3,312.8" stroke="#000" stroke-width="2.2" fill="none" stroke-linejoin="round"/>
<polyline points="470.2,317.2 471.2,319.9 472.2,322.6 473.2,321.3 474.2,319.6 475.2,317.8 476.2,318.3 477.2,318.5 478.2,317.4 479.2,316.2 480.2,315.2 481.2,313.7 482.2,312.6 483.2,312 484.2,311.8 485.2,311 486.2,311 487.2,310.8 488.2,310.7 489.2,310.5 490.2,309.8 491.2,310.4 492.2,310.3 493.2,310.2 494.2,310.6 495.2,310.7 496.2,310.4 497.2,310.6 498.2,310.4 499.2,310.8 500.2,311.2 501.2,311.1 502.2,311.2 503.2,311.4 504.2,311.8 505.2,311.7 506.2,311.6 507.2,311.8 508.2,311.6" stroke="#000" stroke-width="2.2" fill="none" stroke-linejoin="round"/>
<polyline points="510,316.5 511,315.6 512,315.3 513,314.9 514,314.8 515,314.5 516,313.9 517,313.6 518,313 519,312.2 520,311.8 521,311.7 522,312 523,312.4 524,312.7 525,312.4 526,312.5 527,312.4 528,312.1 529,312.4 530,312.4 531,312.6 532,312.8 533,312.9 534,313 535,312.8 536,312.5 537,312.9 538,312.7 539,312.6 540,312.6 541,312.6 542,312.7 543,312.6 544,312.4 545,312.4 546,312.7 547,312.9 548,312.9 549,312.8 550,312.5 551,312.4 552,312.2 553,312.3 554,312.5 555,312.5 556,312.4 557,312.3 558,311.8 559,312.3 560,312.3 561,312.7 562,312.6 563,312.9 564,312.4 565,312 566,312.1 567,314.3 568,315.7 569,317.4 570,317 571,318.2 572,317.8 573,317.2 574,317.1 575,316.2 576,313.7 577,311.3 578,310.4 579,311.9 580,311.8 581,312.2 582,312.2 583,312.2 584,314.6 585,314.2 586,313.8 587,314.4 588,314.9 589,315 590,314.6 591,314.8 592,315.2 593,315.4 594,315.4 595,315.1 596,315.2 597,315.6 598,315.4 599,314.7 600,314.3 601,314.2 602,313.7 603,313.2 604,312.4 605,312.5 606,313 607,312.7 608,312.9 609,312.7 610,313.2 611,313.1 612,313.2 613,313.3 614,313 615,313.1 616,313.4 617,313.9 618,314.3 619,313.9 620,314.4 621,314.4 622,314.3 623,314.4 624,314.1 625,313.7 626,313.7 627,313.6 628,313.3 629,313.2 630,313.2 631,313.2 632,312.6 633,311.9 634,311.8 635,311.5 636,311.7 637,311.8 638,311.6 639,311.5 640,311.1 641,310.4 642,310.1 643,310.1 644,310.7 645,310.9 646,310.7 647,310.5 648,310.1 649,309.8 650,309.8 651,310.6 652,310.5 653,310.8 654,310.8 655,310.7 656,310.8 657,311.3 658,311.2 659,311.6 660,311.7 661,312.1 662,312.2 663,312.5 664,312.4 665,312.4 666,312.4 667,312.5 668,312.9 669,312.7 670,311.9 671,312 672,311.8 673,312 674,311.8 675,312.1 676,312.1 677,311.7 678,312.1 679,312 680,311.9 681,311.6" stroke="#000" stroke-width="2.2" fill="none" stroke-linejoin="round"/>
<text x="178" y="410.8" text-anchor="middle" style="font-family:'Liberation Serif',serif;font-weight:bold;font-size:16.3px">(a)</text>
<text x="537.2" y="410.8" text-anchor="middle" style="font-family:'Liberation Serif',serif;font-weight:bold;font-size:16.3px">(b)</text>
</svg>
</body></html>
